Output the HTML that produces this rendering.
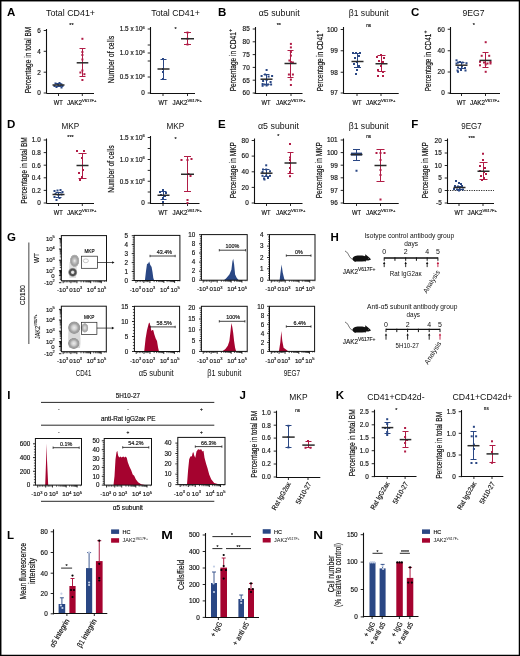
<!DOCTYPE html>
<html><head><meta charset="utf-8"><style>
html,body{margin:0;padding:0;background:#fff;}
svg{display:block;will-change:transform;}
text{font-family:"Liberation Sans",sans-serif;}
</style></head><body>
<svg width="520" height="656" viewBox="0 0 520 656">
<rect width="520" height="656" fill="#fff"/>
<text x="6.9" y="15.5" font-size="11.5" fill="#000" stroke="#000" stroke-width="0" font-weight="bold">A</text>
<text x="218.0" y="15.5" font-size="11.5" fill="#000" stroke="#000" stroke-width="0" font-weight="bold">B</text>
<text x="411.1" y="15.5" font-size="11.5" fill="#000" stroke="#000" stroke-width="0" font-weight="bold">C</text>
<text x="7.1" y="127.7" font-size="11.5" fill="#000" stroke="#000" stroke-width="0" font-weight="bold">D</text>
<text x="218.1" y="127.7" font-size="11.5" fill="#000" stroke="#000" stroke-width="0" font-weight="bold">E</text>
<text x="411.2" y="127.7" font-size="11.5" fill="#000" stroke="#000" stroke-width="0" font-weight="bold">F</text>
<text x="70.5" y="16.3" font-size="9" fill="#111" stroke="#111" stroke-width="0" text-anchor="middle" textLength="49" lengthAdjust="spacingAndGlyphs">Total CD41+</text>
<text x="71.5" y="27" font-size="5.5" fill="#111" stroke="#111" stroke-width="0.16" text-anchor="middle">**</text>
<line x1="46.5" y1="29" x2="46.5" y2="93.5" stroke="#111" stroke-width="1.1" />
<line x1="43.7" y1="30.5" x2="46.5" y2="30.5" stroke="#111" stroke-width="0.9" />
<text x="40.7" y="32.804" font-size="6.4" fill="#111" stroke="#111" stroke-width="0.16" text-anchor="end">6</text>
<line x1="43.7" y1="51.3" x2="46.5" y2="51.3" stroke="#111" stroke-width="0.9" />
<text x="40.7" y="53.604" font-size="6.4" fill="#111" stroke="#111" stroke-width="0.16" text-anchor="end">4</text>
<line x1="43.7" y1="72.2" x2="46.5" y2="72.2" stroke="#111" stroke-width="0.9" />
<text x="40.7" y="74.504" font-size="6.4" fill="#111" stroke="#111" stroke-width="0.16" text-anchor="end">2</text>
<line x1="43.7" y1="93" x2="46.5" y2="93" stroke="#111" stroke-width="0.9" />
<text x="40.7" y="95.304" font-size="6.4" fill="#111" stroke="#111" stroke-width="0.16" text-anchor="end">0</text>
<line x1="46.5" y1="93.5" x2="94" y2="93.5" stroke="#111" stroke-width="1.1" />
<line x1="58.5" y1="93.5" x2="58.5" y2="96.0" stroke="#111" stroke-width="0.9" />
<line x1="82.3" y1="93.5" x2="82.3" y2="96.0" stroke="#111" stroke-width="0.9" />
<text transform="translate(31,60) rotate(-90)" font-size="9" fill="#111" stroke="#111" stroke-width="0.18" text-anchor="middle" textLength="66.7" lengthAdjust="spacingAndGlyphs">Percentage in total BM</text>
<text x="58.3" y="104.7" font-size="6.4" fill="#111" stroke="#111" stroke-width="0.16" text-anchor="middle" textLength="9" lengthAdjust="spacingAndGlyphs">WT</text>
<text x="66.9" y="104.7" font-size="6.4" fill="#111" stroke="#111" stroke-width="0.16"><tspan textLength="15" lengthAdjust="spacingAndGlyphs">JAK2</tspan><tspan font-size="4.4" dy="-2.6" textLength="14.5" lengthAdjust="spacingAndGlyphs">V617F+</tspan></text>
<rect x="54.5" y="82.5" width="2.0" height="2.0" fill="#2a4784"/>
<rect x="56.5" y="83.0" width="2.0" height="2.0" fill="#2a4784"/>
<rect x="58.5" y="82.0" width="2.0" height="2.0" fill="#2a4784"/>
<rect x="60.5" y="83.5" width="2.0" height="2.0" fill="#2a4784"/>
<rect x="53.5" y="85.0" width="2.0" height="2.0" fill="#2a4784"/>
<rect x="57.5" y="85.0" width="2.0" height="2.0" fill="#2a4784"/>
<rect x="59.5" y="84.5" width="2.0" height="2.0" fill="#2a4784"/>
<rect x="61.5" y="85.0" width="2.0" height="2.0" fill="#2a4784"/>
<rect x="55.5" y="86.0" width="2.0" height="2.0" fill="#2a4784"/>
<rect x="60.5" y="86.5" width="2.0" height="2.0" fill="#2a4784"/>
<line x1="58.5" y1="83.5" x2="58.5" y2="86.5" stroke="#2a4784" stroke-width="1.0" />
<line x1="55.5" y1="83.5" x2="61.5" y2="83.5" stroke="#2a4784" stroke-width="1.0" />
<line x1="55.5" y1="86.5" x2="61.5" y2="86.5" stroke="#2a4784" stroke-width="1.0" />
<line x1="52.5" y1="85" x2="64.5" y2="85" stroke="#2a2a2a" stroke-width="1.5" />
<rect x="81.4" y="37.8" width="2.0" height="2.0" fill="#b11c46"/>
<rect x="81.4" y="51.0" width="2.0" height="2.0" fill="#b11c46"/>
<rect x="81.4" y="54.0" width="2.0" height="2.0" fill="#b11c46"/>
<rect x="81.4" y="58.5" width="2.0" height="2.0" fill="#b11c46"/>
<rect x="81.4" y="69.5" width="2.0" height="2.0" fill="#b11c46"/>
<rect x="79.4" y="71.5" width="2.0" height="2.0" fill="#b11c46"/>
<rect x="83.4" y="73.2" width="2.0" height="2.0" fill="#b11c46"/>
<rect x="81.4" y="79.0" width="2.0" height="2.0" fill="#b11c46"/>
<line x1="82.5" y1="48.5" x2="82.5" y2="76.5" stroke="#b11c46" stroke-width="1.0" />
<line x1="79.5" y1="48.5" x2="85.5" y2="48.5" stroke="#b11c46" stroke-width="1.0" />
<line x1="79.5" y1="76.5" x2="85.5" y2="76.5" stroke="#b11c46" stroke-width="1.0" />
<line x1="76.7" y1="62.8" x2="88.3" y2="62.8" stroke="#2a2a2a" stroke-width="1.5" />
<text x="175.5" y="16.3" font-size="9" fill="#111" stroke="#111" stroke-width="0" text-anchor="middle" textLength="48.5" lengthAdjust="spacingAndGlyphs">Total CD41+</text>
<text x="175.5" y="31" font-size="5.5" fill="#111" stroke="#111" stroke-width="0.16" text-anchor="middle">*</text>
<line x1="150.5" y1="27" x2="150.5" y2="93.5" stroke="#111" stroke-width="1.1" />
<line x1="147.7" y1="29" x2="150.5" y2="29" stroke="#111" stroke-width="0.9" />
<text x="144.7" y="31.304" font-size="6.4" fill="#111" stroke="#111" stroke-width="0.16" text-anchor="end">1.5 x 10<tspan font-size="3.97" dy="-2.69">6</tspan></text>
<line x1="147.7" y1="45" x2="150.5" y2="45" stroke="#111" stroke-width="0.9" />
<line x1="147.7" y1="53" x2="150.5" y2="53" stroke="#111" stroke-width="0.9" />
<text x="144.7" y="55.304" font-size="6.4" fill="#111" stroke="#111" stroke-width="0.16" text-anchor="end">1.0 x 10<tspan font-size="3.97" dy="-2.69">6</tspan></text>
<line x1="147.7" y1="61" x2="150.5" y2="61" stroke="#111" stroke-width="0.9" />
<line x1="147.7" y1="77" x2="150.5" y2="77" stroke="#111" stroke-width="0.9" />
<text x="144.7" y="79.304" font-size="6.4" fill="#111" stroke="#111" stroke-width="0.16" text-anchor="end">0.5 x 10<tspan font-size="3.97" dy="-2.69">6</tspan></text>
<line x1="147.7" y1="93" x2="150.5" y2="93" stroke="#111" stroke-width="0.9" />
<text x="144.7" y="95.304" font-size="6.4" fill="#111" stroke="#111" stroke-width="0.16" text-anchor="end">0</text>
<line x1="150" y1="93.5" x2="195" y2="93.5" stroke="#111" stroke-width="1.1" />
<line x1="163" y1="93.5" x2="163" y2="96.0" stroke="#111" stroke-width="0.9" />
<line x1="187.5" y1="93.5" x2="187.5" y2="96.0" stroke="#111" stroke-width="0.9" />
<text transform="translate(114.3,59.6) rotate(-90)" font-size="9" fill="#111" stroke="#111" stroke-width="0.18" text-anchor="middle" textLength="47.4" lengthAdjust="spacingAndGlyphs">Number of cells</text>
<text x="163" y="104.7" font-size="6.4" fill="#111" stroke="#111" stroke-width="0.16" text-anchor="middle" textLength="9" lengthAdjust="spacingAndGlyphs">WT</text>
<text x="172.5" y="104.7" font-size="6.4" fill="#111" stroke="#111" stroke-width="0.16"><tspan textLength="15" lengthAdjust="spacingAndGlyphs">JAK2</tspan><tspan font-size="4.4" dy="-2.6" textLength="14.5" lengthAdjust="spacingAndGlyphs">V617F+</tspan></text>
<rect x="162.0" y="58.0" width="2.0" height="2.0" fill="#2a4784"/>
<rect x="162.0" y="68.0" width="2.0" height="2.0" fill="#2a4784"/>
<rect x="162.0" y="71.0" width="2.0" height="2.0" fill="#2a4784"/>
<rect x="162.0" y="78.0" width="2.0" height="2.0" fill="#2a4784"/>
<line x1="163.5" y1="59.5" x2="163.5" y2="79.5" stroke="#2a4784" stroke-width="1.0" />
<line x1="160.5" y1="59.5" x2="166.5" y2="59.5" stroke="#2a4784" stroke-width="1.0" />
<line x1="160.5" y1="79.5" x2="166.5" y2="79.5" stroke="#2a4784" stroke-width="1.0" />
<line x1="157.5" y1="69" x2="169.5" y2="69" stroke="#2a2a2a" stroke-width="1.5" />
<rect x="186.5" y="31.5" width="2.0" height="2.0" fill="#b11c46"/>
<rect x="186.5" y="37.75" width="2.0" height="2.0" fill="#b11c46"/>
<rect x="186.5" y="43.5" width="2.0" height="2.0" fill="#b11c46"/>
<line x1="187.5" y1="32.5" x2="187.5" y2="44.5" stroke="#b11c46" stroke-width="1.0" />
<line x1="184.0" y1="32.5" x2="191.0" y2="32.5" stroke="#b11c46" stroke-width="1.0" />
<line x1="184.0" y1="44.5" x2="191.0" y2="44.5" stroke="#b11c46" stroke-width="1.0" />
<line x1="181.0" y1="38.75" x2="194.0" y2="38.75" stroke="#2a2a2a" stroke-width="1.5" />
<text x="279.2" y="16.3" font-size="9" fill="#111" stroke="#111" stroke-width="0" text-anchor="middle" textLength="41" lengthAdjust="spacingAndGlyphs">α5 subunit</text>
<text x="278.8" y="27" font-size="5.5" fill="#111" stroke="#111" stroke-width="0.16" text-anchor="middle">**</text>
<line x1="255.5" y1="27" x2="255.5" y2="93.5" stroke="#111" stroke-width="1.1" />
<line x1="252.7" y1="29" x2="255.5" y2="29" stroke="#111" stroke-width="0.9" />
<text x="249.7" y="31.304" font-size="6.4" fill="#111" stroke="#111" stroke-width="0.16" text-anchor="end">85</text>
<line x1="252.7" y1="41.8" x2="255.5" y2="41.8" stroke="#111" stroke-width="0.9" />
<text x="249.7" y="44.104" font-size="6.4" fill="#111" stroke="#111" stroke-width="0.16" text-anchor="end">80</text>
<line x1="252.7" y1="54.6" x2="255.5" y2="54.6" stroke="#111" stroke-width="0.9" />
<text x="249.7" y="56.904" font-size="6.4" fill="#111" stroke="#111" stroke-width="0.16" text-anchor="end">75</text>
<line x1="252.7" y1="67.4" x2="255.5" y2="67.4" stroke="#111" stroke-width="0.9" />
<text x="249.7" y="69.70400000000001" font-size="6.4" fill="#111" stroke="#111" stroke-width="0.16" text-anchor="end">70</text>
<line x1="252.7" y1="80.2" x2="255.5" y2="80.2" stroke="#111" stroke-width="0.9" />
<text x="249.7" y="82.504" font-size="6.4" fill="#111" stroke="#111" stroke-width="0.16" text-anchor="end">65</text>
<line x1="252.7" y1="93" x2="255.5" y2="93" stroke="#111" stroke-width="0.9" />
<text x="249.7" y="95.304" font-size="6.4" fill="#111" stroke="#111" stroke-width="0.16" text-anchor="end">60</text>
<line x1="254.5" y1="93.5" x2="302.5" y2="93.5" stroke="#111" stroke-width="1.1" />
<line x1="266.5" y1="93.5" x2="266.5" y2="96.0" stroke="#111" stroke-width="0.9" />
<line x1="291" y1="93.5" x2="291" y2="96.0" stroke="#111" stroke-width="0.9" />
<text transform="translate(236.2,91.3) rotate(-90)" font-size="9" fill="#111" stroke="#111" stroke-width="0.18" textLength="59.1" lengthAdjust="spacingAndGlyphs">Percentage in CD41</text>
<text transform="translate(232.4,32.0) rotate(-90)" font-size="5" fill="#111" stroke="#111" stroke-width="0.18">+</text>
<text x="266" y="104.7" font-size="6.4" fill="#111" stroke="#111" stroke-width="0.16" text-anchor="middle" textLength="9" lengthAdjust="spacingAndGlyphs">WT</text>
<text x="276" y="104.7" font-size="6.4" fill="#111" stroke="#111" stroke-width="0.16"><tspan textLength="15" lengthAdjust="spacingAndGlyphs">JAK2</tspan><tspan font-size="4.4" dy="-2.6" textLength="14.5" lengthAdjust="spacingAndGlyphs">V617F+</tspan></text>
<rect x="265.6" y="69.0" width="2.0" height="2.0" fill="#2a4784"/>
<rect x="260.6" y="75.0" width="2.0" height="2.0" fill="#2a4784"/>
<rect x="264.1" y="73.5" width="2.0" height="2.0" fill="#2a4784"/>
<rect x="267.6" y="75.5" width="2.0" height="2.0" fill="#2a4784"/>
<rect x="271.1" y="75.0" width="2.0" height="2.0" fill="#2a4784"/>
<rect x="262.1" y="80.0" width="2.0" height="2.0" fill="#2a4784"/>
<rect x="265.6" y="79.0" width="2.0" height="2.0" fill="#2a4784"/>
<rect x="269.6" y="81.0" width="2.0" height="2.0" fill="#2a4784"/>
<rect x="261.6" y="83.0" width="2.0" height="2.0" fill="#2a4784"/>
<rect x="263.6" y="83.5" width="2.0" height="2.0" fill="#2a4784"/>
<rect x="267.1" y="83.5" width="2.0" height="2.0" fill="#2a4784"/>
<rect x="270.1" y="83.5" width="2.0" height="2.0" fill="#2a4784"/>
<rect x="261.6" y="84.8" width="2.0" height="2.0" fill="#2a4784"/>
<rect x="265.6" y="84.5" width="2.0" height="2.0" fill="#2a4784"/>
<line x1="266.5" y1="74.5" x2="266.5" y2="84.5" stroke="#2a4784" stroke-width="1.0" />
<line x1="263.5" y1="74.5" x2="269.5" y2="74.5" stroke="#2a4784" stroke-width="1.0" />
<line x1="263.5" y1="84.5" x2="269.5" y2="84.5" stroke="#2a4784" stroke-width="1.0" />
<line x1="260.5" y1="79.2" x2="272.5" y2="79.2" stroke="#2a2a2a" stroke-width="1.5" />
<rect x="289.9" y="42.9" width="2.0" height="2.0" fill="#b11c46"/>
<rect x="289.9" y="46.4" width="2.0" height="2.0" fill="#b11c46"/>
<rect x="289.9" y="51.0" width="2.0" height="2.0" fill="#b11c46"/>
<rect x="289.9" y="54.6" width="2.0" height="2.0" fill="#b11c46"/>
<rect x="288.4" y="59.5" width="2.0" height="2.0" fill="#b11c46"/>
<rect x="289.9" y="61.0" width="2.0" height="2.0" fill="#b11c46"/>
<rect x="291.9" y="61.5" width="2.0" height="2.0" fill="#b11c46"/>
<rect x="287.9" y="73.5" width="2.0" height="2.0" fill="#b11c46"/>
<rect x="291.9" y="73.5" width="2.0" height="2.0" fill="#b11c46"/>
<rect x="289.9" y="78.6" width="2.0" height="2.0" fill="#b11c46"/>
<rect x="289.9" y="84.0" width="2.0" height="2.0" fill="#b11c46"/>
<line x1="290.5" y1="50.5" x2="290.5" y2="77.5" stroke="#b11c46" stroke-width="1.0" />
<line x1="287.5" y1="50.5" x2="293.5" y2="50.5" stroke="#b11c46" stroke-width="1.0" />
<line x1="287.5" y1="77.5" x2="293.5" y2="77.5" stroke="#b11c46" stroke-width="1.0" />
<line x1="284.5" y1="63.5" x2="296.5" y2="63.5" stroke="#2a2a2a" stroke-width="1.5" />
<text x="368.7" y="16.3" font-size="9" fill="#111" stroke="#111" stroke-width="0" text-anchor="middle" textLength="40" lengthAdjust="spacingAndGlyphs">β1 subunit</text>
<text x="368.7" y="27" font-size="4.8" fill="#111" stroke="#111" stroke-width="0.16" text-anchor="middle">ns</text>
<line x1="343.5" y1="27" x2="343.5" y2="93.5" stroke="#111" stroke-width="1.1" />
<line x1="340.7" y1="29.5" x2="343.5" y2="29.5" stroke="#111" stroke-width="0.9" />
<text x="337.7" y="31.804" font-size="6.4" fill="#111" stroke="#111" stroke-width="0.16" text-anchor="end">100</text>
<line x1="340.7" y1="50.75" x2="343.5" y2="50.75" stroke="#111" stroke-width="0.9" />
<text x="337.7" y="53.054" font-size="6.4" fill="#111" stroke="#111" stroke-width="0.16" text-anchor="end">99</text>
<line x1="340.7" y1="72.25" x2="343.5" y2="72.25" stroke="#111" stroke-width="0.9" />
<text x="337.7" y="74.554" font-size="6.4" fill="#111" stroke="#111" stroke-width="0.16" text-anchor="end">98</text>
<line x1="340.7" y1="93" x2="343.5" y2="93" stroke="#111" stroke-width="0.9" />
<text x="337.7" y="95.304" font-size="6.4" fill="#111" stroke="#111" stroke-width="0.16" text-anchor="end">97</text>
<line x1="343.2" y1="93.5" x2="398.7" y2="93.5" stroke="#111" stroke-width="1.1" />
<line x1="357" y1="93.5" x2="357" y2="96.0" stroke="#111" stroke-width="0.9" />
<line x1="381" y1="93.5" x2="381" y2="96.0" stroke="#111" stroke-width="0.9" />
<text transform="translate(322.7,91.3) rotate(-90)" font-size="9" fill="#111" stroke="#111" stroke-width="0.18" textLength="57.9" lengthAdjust="spacingAndGlyphs">Percentage in CD41</text>
<text transform="translate(318.9,33.2) rotate(-90)" font-size="5" fill="#111" stroke="#111" stroke-width="0.18">+</text>
<text x="357" y="104.7" font-size="6.4" fill="#111" stroke="#111" stroke-width="0.16" text-anchor="middle" textLength="9" lengthAdjust="spacingAndGlyphs">WT</text>
<text x="366" y="104.7" font-size="6.4" fill="#111" stroke="#111" stroke-width="0.16"><tspan textLength="15" lengthAdjust="spacingAndGlyphs">JAK2</tspan><tspan font-size="4.4" dy="-2.6" textLength="14.5" lengthAdjust="spacingAndGlyphs">V617F+</tspan></text>
<rect x="352.0" y="52.0" width="2.0" height="2.0" fill="#2a4784"/>
<rect x="355.0" y="52.0" width="2.0" height="2.0" fill="#2a4784"/>
<rect x="359.0" y="52.0" width="2.0" height="2.0" fill="#2a4784"/>
<rect x="354.0" y="57.0" width="2.0" height="2.0" fill="#2a4784"/>
<rect x="358.0" y="55.0" width="2.0" height="2.0" fill="#2a4784"/>
<rect x="356.0" y="61.0" width="2.0" height="2.0" fill="#2a4784"/>
<rect x="353.0" y="63.0" width="2.0" height="2.0" fill="#2a4784"/>
<rect x="358.0" y="65.0" width="2.0" height="2.0" fill="#2a4784"/>
<rect x="356.0" y="69.0" width="2.0" height="2.0" fill="#2a4784"/>
<rect x="355.0" y="73.0" width="2.0" height="2.0" fill="#2a4784"/>
<line x1="357.5" y1="53.5" x2="357.5" y2="67.5" stroke="#2a4784" stroke-width="1.0" />
<line x1="354.0" y1="53.5" x2="361.0" y2="53.5" stroke="#2a4784" stroke-width="1.0" />
<line x1="354.0" y1="67.5" x2="361.0" y2="67.5" stroke="#2a4784" stroke-width="1.0" />
<line x1="351.5" y1="61.5" x2="363.5" y2="61.5" stroke="#2a2a2a" stroke-width="1.5" />
<rect x="380.0" y="54.0" width="2.0" height="2.0" fill="#b11c46"/>
<rect x="376.0" y="56.0" width="2.0" height="2.0" fill="#b11c46"/>
<rect x="383.0" y="57.0" width="2.0" height="2.0" fill="#b11c46"/>
<rect x="378.0" y="60.0" width="2.0" height="2.0" fill="#b11c46"/>
<rect x="382.0" y="61.0" width="2.0" height="2.0" fill="#b11c46"/>
<rect x="380.0" y="65.0" width="2.0" height="2.0" fill="#b11c46"/>
<rect x="377.0" y="69.0" width="2.0" height="2.0" fill="#b11c46"/>
<rect x="382.0" y="71.0" width="2.0" height="2.0" fill="#b11c46"/>
<rect x="377.0" y="75.0" width="2.0" height="2.0" fill="#b11c46"/>
<rect x="382.0" y="75.0" width="2.0" height="2.0" fill="#b11c46"/>
<line x1="381.5" y1="55.5" x2="381.5" y2="71.5" stroke="#b11c46" stroke-width="1.0" />
<line x1="377.5" y1="55.5" x2="385.5" y2="55.5" stroke="#b11c46" stroke-width="1.0" />
<line x1="377.5" y1="71.5" x2="385.5" y2="71.5" stroke="#b11c46" stroke-width="1.0" />
<line x1="375.5" y1="63.75" x2="387.5" y2="63.75" stroke="#2a2a2a" stroke-width="1.5" />
<text x="473.5" y="16.3" font-size="9" fill="#111" stroke="#111" stroke-width="0" text-anchor="middle" textLength="22" lengthAdjust="spacingAndGlyphs">9EG7</text>
<text x="473.8" y="27" font-size="5.5" fill="#111" stroke="#111" stroke-width="0.16" text-anchor="middle">*</text>
<line x1="450.5" y1="27" x2="450.5" y2="93.5" stroke="#111" stroke-width="1.1" />
<line x1="447.7" y1="29.25" x2="450.5" y2="29.25" stroke="#111" stroke-width="0.9" />
<text x="444.7" y="31.554" font-size="6.4" fill="#111" stroke="#111" stroke-width="0.16" text-anchor="end">60</text>
<line x1="447.7" y1="50.75" x2="450.5" y2="50.75" stroke="#111" stroke-width="0.9" />
<text x="444.7" y="53.054" font-size="6.4" fill="#111" stroke="#111" stroke-width="0.16" text-anchor="end">40</text>
<line x1="447.7" y1="72" x2="450.5" y2="72" stroke="#111" stroke-width="0.9" />
<text x="444.7" y="74.304" font-size="6.4" fill="#111" stroke="#111" stroke-width="0.16" text-anchor="end">20</text>
<line x1="447.7" y1="93" x2="450.5" y2="93" stroke="#111" stroke-width="0.9" />
<text x="444.7" y="95.304" font-size="6.4" fill="#111" stroke="#111" stroke-width="0.16" text-anchor="end">0</text>
<line x1="449.5" y1="93.5" x2="500" y2="93.5" stroke="#111" stroke-width="1.1" />
<line x1="461.5" y1="93.5" x2="461.5" y2="96.0" stroke="#111" stroke-width="0.9" />
<line x1="485.5" y1="93.5" x2="485.5" y2="96.0" stroke="#111" stroke-width="0.9" />
<text transform="translate(430.8,91.3) rotate(-90)" font-size="9" fill="#111" stroke="#111" stroke-width="0.18" textLength="57.6" lengthAdjust="spacingAndGlyphs">Percentage in CD41</text>
<text transform="translate(427.0,33.5) rotate(-90)" font-size="5" fill="#111" stroke="#111" stroke-width="0.18">+</text>
<text x="461.3" y="104.7" font-size="6.4" fill="#111" stroke="#111" stroke-width="0.16" text-anchor="middle" textLength="9" lengthAdjust="spacingAndGlyphs">WT</text>
<text x="470" y="104.7" font-size="6.4" fill="#111" stroke="#111" stroke-width="0.16"><tspan textLength="15" lengthAdjust="spacingAndGlyphs">JAK2</tspan><tspan font-size="4.4" dy="-2.6" textLength="14.5" lengthAdjust="spacingAndGlyphs">V617F+</tspan></text>
<rect x="455.5" y="59.3" width="2.0" height="2.0" fill="#2a4784"/>
<rect x="455.5" y="62.5" width="2.0" height="2.0" fill="#2a4784"/>
<rect x="457.0" y="61.5" width="2.0" height="2.0" fill="#2a4784"/>
<rect x="459.0" y="61.0" width="2.0" height="2.0" fill="#2a4784"/>
<rect x="461.5" y="61.5" width="2.0" height="2.0" fill="#2a4784"/>
<rect x="465.5" y="62.2" width="2.0" height="2.0" fill="#2a4784"/>
<rect x="457.0" y="66.5" width="2.0" height="2.0" fill="#2a4784"/>
<rect x="461.0" y="65.5" width="2.0" height="2.0" fill="#2a4784"/>
<rect x="464.0" y="67.0" width="2.0" height="2.0" fill="#2a4784"/>
<rect x="456.5" y="69.5" width="2.0" height="2.0" fill="#2a4784"/>
<rect x="460.0" y="69.0" width="2.0" height="2.0" fill="#2a4784"/>
<rect x="464.5" y="69.5" width="2.0" height="2.0" fill="#2a4784"/>
<rect x="457.0" y="70.8" width="2.0" height="2.0" fill="#2a4784"/>
<line x1="461.5" y1="62.5" x2="461.5" y2="68.5" stroke="#2a4784" stroke-width="1.0" />
<line x1="458.5" y1="62.5" x2="464.5" y2="62.5" stroke="#2a4784" stroke-width="1.0" />
<line x1="458.5" y1="68.5" x2="464.5" y2="68.5" stroke="#2a4784" stroke-width="1.0" />
<line x1="455.5" y1="65.2" x2="467.5" y2="65.2" stroke="#2a2a2a" stroke-width="1.5" />
<rect x="484.7" y="41.2" width="2.0" height="2.0" fill="#b11c46"/>
<rect x="480.7" y="54.8" width="2.0" height="2.0" fill="#b11c46"/>
<rect x="488.2" y="54.8" width="2.0" height="2.0" fill="#b11c46"/>
<rect x="479.0" y="60.8" width="2.0" height="2.0" fill="#b11c46"/>
<rect x="483.0" y="61.5" width="2.0" height="2.0" fill="#b11c46"/>
<rect x="486.5" y="62.5" width="2.0" height="2.0" fill="#b11c46"/>
<rect x="489.5" y="61.0" width="2.0" height="2.0" fill="#b11c46"/>
<rect x="479.0" y="64.3" width="2.0" height="2.0" fill="#b11c46"/>
<rect x="484.7" y="63.5" width="2.0" height="2.0" fill="#b11c46"/>
<rect x="489.5" y="62.5" width="2.0" height="2.0" fill="#b11c46"/>
<rect x="484.7" y="70.8" width="2.0" height="2.0" fill="#b11c46"/>
<line x1="485.5" y1="52.5" x2="485.5" y2="67.5" stroke="#b11c46" stroke-width="1.0" />
<line x1="482.5" y1="52.5" x2="488.5" y2="52.5" stroke="#b11c46" stroke-width="1.0" />
<line x1="482.5" y1="67.5" x2="488.5" y2="67.5" stroke="#b11c46" stroke-width="1.0" />
<line x1="479.5" y1="60.4" x2="491.5" y2="60.4" stroke="#2a2a2a" stroke-width="1.5" />
<text x="70.35" y="128.6" font-size="9" fill="#111" stroke="#111" stroke-width="0" text-anchor="middle" textLength="17.7" lengthAdjust="spacingAndGlyphs">MKP</text>
<text x="70.5" y="138.8" font-size="5.5" fill="#111" stroke="#111" stroke-width="0.16" text-anchor="middle">***</text>
<line x1="46.5" y1="138.5" x2="46.5" y2="203.5" stroke="#111" stroke-width="1.1" />
<line x1="43.7" y1="140" x2="46.5" y2="140" stroke="#111" stroke-width="0.9" />
<text x="40.7" y="142.304" font-size="6.4" fill="#111" stroke="#111" stroke-width="0.16" text-anchor="end">1.0</text>
<line x1="43.7" y1="152.6" x2="46.5" y2="152.6" stroke="#111" stroke-width="0.9" />
<text x="40.7" y="154.904" font-size="6.4" fill="#111" stroke="#111" stroke-width="0.16" text-anchor="end">0.8</text>
<line x1="43.7" y1="165.2" x2="46.5" y2="165.2" stroke="#111" stroke-width="0.9" />
<text x="40.7" y="167.504" font-size="6.4" fill="#111" stroke="#111" stroke-width="0.16" text-anchor="end">0.6</text>
<line x1="43.7" y1="177.8" x2="46.5" y2="177.8" stroke="#111" stroke-width="0.9" />
<text x="40.7" y="180.104" font-size="6.4" fill="#111" stroke="#111" stroke-width="0.16" text-anchor="end">0.4</text>
<line x1="43.7" y1="190.4" x2="46.5" y2="190.4" stroke="#111" stroke-width="0.9" />
<text x="40.7" y="192.704" font-size="6.4" fill="#111" stroke="#111" stroke-width="0.16" text-anchor="end">0.2</text>
<line x1="43.7" y1="203" x2="46.5" y2="203" stroke="#111" stroke-width="0.9" />
<text x="40.7" y="205.304" font-size="6.4" fill="#111" stroke="#111" stroke-width="0.16" text-anchor="end">0</text>
<line x1="46.5" y1="203.5" x2="94" y2="203.5" stroke="#111" stroke-width="1.1" />
<line x1="58.5" y1="203.5" x2="58.5" y2="206.0" stroke="#111" stroke-width="0.9" />
<line x1="82.3" y1="203.5" x2="82.3" y2="206.0" stroke="#111" stroke-width="0.9" />
<text transform="translate(26.8,170.5) rotate(-90)" font-size="9" fill="#111" stroke="#111" stroke-width="0.18" text-anchor="middle" textLength="66.7" lengthAdjust="spacingAndGlyphs">Percentage in total BM</text>
<rect x="53.5" y="190.0" width="2.0" height="2.0" fill="#2a4784"/>
<rect x="56.5" y="189.5" width="2.0" height="2.0" fill="#2a4784"/>
<rect x="59.5" y="189.0" width="2.0" height="2.0" fill="#2a4784"/>
<rect x="61.5" y="191.0" width="2.0" height="2.0" fill="#2a4784"/>
<rect x="54.5" y="193.0" width="2.0" height="2.0" fill="#2a4784"/>
<rect x="57.5" y="194.0" width="2.0" height="2.0" fill="#2a4784"/>
<rect x="60.5" y="193.5" width="2.0" height="2.0" fill="#2a4784"/>
<rect x="53.5" y="196.0" width="2.0" height="2.0" fill="#2a4784"/>
<rect x="58.5" y="197.0" width="2.0" height="2.0" fill="#2a4784"/>
<rect x="55.5" y="199.0" width="2.0" height="2.0" fill="#2a4784"/>
<line x1="58.5" y1="192.5" x2="58.5" y2="197.5" stroke="#2a4784" stroke-width="1.0" />
<line x1="55.5" y1="192.5" x2="61.5" y2="192.5" stroke="#2a4784" stroke-width="1.0" />
<line x1="55.5" y1="197.5" x2="61.5" y2="197.5" stroke="#2a4784" stroke-width="1.0" />
<line x1="52.5" y1="194.5" x2="64.5" y2="194.5" stroke="#2a2a2a" stroke-width="1.5" />
<rect x="76.0" y="150.0" width="2.0" height="2.0" fill="#b11c46"/>
<rect x="83.0" y="150.0" width="2.0" height="2.0" fill="#b11c46"/>
<rect x="81.0" y="157.0" width="2.0" height="2.0" fill="#b11c46"/>
<rect x="82.0" y="169.0" width="2.0" height="2.0" fill="#b11c46"/>
<rect x="78.0" y="172.0" width="2.0" height="2.0" fill="#b11c46"/>
<rect x="81.0" y="176.0" width="2.0" height="2.0" fill="#b11c46"/>
<rect x="79.0" y="179.0" width="2.0" height="2.0" fill="#b11c46"/>
<line x1="82.5" y1="153.5" x2="82.5" y2="178.5" stroke="#b11c46" stroke-width="1.0" />
<line x1="78.5" y1="153.5" x2="86.5" y2="153.5" stroke="#b11c46" stroke-width="1.0" />
<line x1="78.5" y1="178.5" x2="86.5" y2="178.5" stroke="#b11c46" stroke-width="1.0" />
<line x1="76.5" y1="165.5" x2="88.5" y2="165.5" stroke="#2a2a2a" stroke-width="1.5" />
<text x="175.4" y="128.6" font-size="9" fill="#111" stroke="#111" stroke-width="0" text-anchor="middle" textLength="17.7" lengthAdjust="spacingAndGlyphs">MKP</text>
<text x="175.5" y="140.8" font-size="5.5" fill="#111" stroke="#111" stroke-width="0.16" text-anchor="middle">*</text>
<line x1="150.5" y1="136" x2="150.5" y2="203.5" stroke="#111" stroke-width="1.1" />
<line x1="147.7" y1="137.5" x2="150.5" y2="137.5" stroke="#111" stroke-width="0.9" />
<text x="144.7" y="139.804" font-size="6.4" fill="#111" stroke="#111" stroke-width="0.16" text-anchor="end">1.5 x 10<tspan font-size="3.97" dy="-2.69">6</tspan></text>
<line x1="147.7" y1="148.5" x2="150.5" y2="148.5" stroke="#111" stroke-width="0.9" />
<line x1="147.7" y1="159.5" x2="150.5" y2="159.5" stroke="#111" stroke-width="0.9" />
<text x="144.7" y="161.804" font-size="6.4" fill="#111" stroke="#111" stroke-width="0.16" text-anchor="end">1.0 x 10<tspan font-size="3.97" dy="-2.69">6</tspan></text>
<line x1="147.7" y1="170.4" x2="150.5" y2="170.4" stroke="#111" stroke-width="0.9" />
<line x1="147.7" y1="181.25" x2="150.5" y2="181.25" stroke="#111" stroke-width="0.9" />
<text x="144.7" y="183.554" font-size="6.4" fill="#111" stroke="#111" stroke-width="0.16" text-anchor="end">0.5 x 10<tspan font-size="3.97" dy="-2.69">6</tspan></text>
<line x1="147.7" y1="192" x2="150.5" y2="192" stroke="#111" stroke-width="0.9" />
<line x1="147.7" y1="203" x2="150.5" y2="203" stroke="#111" stroke-width="0.9" />
<text x="144.7" y="205.304" font-size="6.4" fill="#111" stroke="#111" stroke-width="0.16" text-anchor="end">0</text>
<line x1="150" y1="203.5" x2="199.5" y2="203.5" stroke="#111" stroke-width="1.1" />
<line x1="163" y1="203.5" x2="163" y2="206.0" stroke="#111" stroke-width="0.9" />
<line x1="187.5" y1="203.5" x2="187.5" y2="206.0" stroke="#111" stroke-width="0.9" />
<text transform="translate(114.3,169) rotate(-90)" font-size="9" fill="#111" stroke="#111" stroke-width="0.18" text-anchor="middle" textLength="47.4" lengthAdjust="spacingAndGlyphs">Number of cells</text>
<rect x="162.0" y="189.0" width="2.0" height="2.0" fill="#2a4784"/>
<rect x="159.0" y="191.0" width="2.0" height="2.0" fill="#2a4784"/>
<rect x="165.0" y="192.0" width="2.0" height="2.0" fill="#2a4784"/>
<rect x="160.0" y="194.0" width="2.0" height="2.0" fill="#2a4784"/>
<rect x="164.0" y="195.0" width="2.0" height="2.0" fill="#2a4784"/>
<rect x="162.0" y="197.0" width="2.0" height="2.0" fill="#2a4784"/>
<rect x="162.0" y="201.0" width="2.0" height="2.0" fill="#2a4784"/>
<line x1="163.5" y1="191.5" x2="163.5" y2="199.5" stroke="#2a4784" stroke-width="1.0" />
<line x1="160.5" y1="191.5" x2="166.5" y2="191.5" stroke="#2a4784" stroke-width="1.0" />
<line x1="160.5" y1="199.5" x2="166.5" y2="199.5" stroke="#2a4784" stroke-width="1.0" />
<line x1="157.5" y1="195.25" x2="169.5" y2="195.25" stroke="#2a2a2a" stroke-width="1.5" />
<rect x="180.5" y="159.0" width="2.0" height="2.0" fill="#b11c46"/>
<rect x="186.5" y="159.0" width="2.0" height="2.0" fill="#b11c46"/>
<rect x="190.5" y="158.0" width="2.0" height="2.0" fill="#b11c46"/>
<rect x="189.5" y="175.0" width="2.0" height="2.0" fill="#b11c46"/>
<rect x="187.5" y="173.0" width="2.0" height="2.0" fill="#b11c46"/>
<rect x="186.5" y="199.0" width="2.0" height="2.0" fill="#b11c46"/>
<rect x="186.5" y="202.0" width="2.0" height="2.0" fill="#b11c46"/>
<line x1="187.5" y1="156.5" x2="187.5" y2="191.5" stroke="#b11c46" stroke-width="1.0" />
<line x1="184.0" y1="156.5" x2="191.0" y2="156.5" stroke="#b11c46" stroke-width="1.0" />
<line x1="184.0" y1="191.5" x2="191.0" y2="191.5" stroke="#b11c46" stroke-width="1.0" />
<line x1="181.0" y1="174.25" x2="194.0" y2="174.25" stroke="#2a2a2a" stroke-width="1.5" />
<text x="278.5" y="128.6" font-size="9" fill="#111" stroke="#111" stroke-width="0" text-anchor="middle" textLength="41" lengthAdjust="spacingAndGlyphs">α5 subunit</text>
<text x="278.3" y="138.4" font-size="5.5" fill="#111" stroke="#111" stroke-width="0.16" text-anchor="middle">*</text>
<line x1="254.5" y1="138.5" x2="254.5" y2="203.5" stroke="#111" stroke-width="1.1" />
<line x1="251.7" y1="140.5" x2="254.5" y2="140.5" stroke="#111" stroke-width="0.9" />
<text x="248.7" y="142.804" font-size="6.4" fill="#111" stroke="#111" stroke-width="0.16" text-anchor="end">80</text>
<line x1="251.7" y1="156.1" x2="254.5" y2="156.1" stroke="#111" stroke-width="0.9" />
<text x="248.7" y="158.404" font-size="6.4" fill="#111" stroke="#111" stroke-width="0.16" text-anchor="end">60</text>
<line x1="251.7" y1="171.8" x2="254.5" y2="171.8" stroke="#111" stroke-width="0.9" />
<text x="248.7" y="174.104" font-size="6.4" fill="#111" stroke="#111" stroke-width="0.16" text-anchor="end">40</text>
<line x1="251.7" y1="187.4" x2="254.5" y2="187.4" stroke="#111" stroke-width="0.9" />
<text x="248.7" y="189.704" font-size="6.4" fill="#111" stroke="#111" stroke-width="0.16" text-anchor="end">20</text>
<line x1="251.7" y1="203" x2="254.5" y2="203" stroke="#111" stroke-width="0.9" />
<text x="248.7" y="205.304" font-size="6.4" fill="#111" stroke="#111" stroke-width="0.16" text-anchor="end">0</text>
<line x1="254" y1="203.5" x2="302.5" y2="203.5" stroke="#111" stroke-width="1.1" />
<line x1="266.5" y1="203.5" x2="266.5" y2="206.0" stroke="#111" stroke-width="0.9" />
<line x1="290.5" y1="203.5" x2="290.5" y2="206.0" stroke="#111" stroke-width="0.9" />
<text transform="translate(235.6,170.2) rotate(-90)" font-size="9" fill="#111" stroke="#111" stroke-width="0.18" text-anchor="middle" textLength="56.3" lengthAdjust="spacingAndGlyphs">Percentage in MKP</text>
<rect x="265.2" y="164.3" width="2.0" height="2.0" fill="#2a4784"/>
<rect x="262.0" y="168.5" width="2.0" height="2.0" fill="#2a4784"/>
<rect x="265.2" y="168.5" width="2.0" height="2.0" fill="#2a4784"/>
<rect x="261.5" y="171.0" width="2.0" height="2.0" fill="#2a4784"/>
<rect x="269.0" y="170.3" width="2.0" height="2.0" fill="#2a4784"/>
<rect x="261.5" y="174.8" width="2.0" height="2.0" fill="#2a4784"/>
<rect x="265.2" y="174.5" width="2.0" height="2.0" fill="#2a4784"/>
<rect x="269.0" y="174.8" width="2.0" height="2.0" fill="#2a4784"/>
<rect x="263.0" y="177.5" width="2.0" height="2.0" fill="#2a4784"/>
<rect x="267.0" y="177.0" width="2.0" height="2.0" fill="#2a4784"/>
<rect x="263.5" y="178.5" width="2.0" height="2.0" fill="#2a4784"/>
<line x1="266.5" y1="169.5" x2="266.5" y2="176.5" stroke="#2a4784" stroke-width="1.0" />
<line x1="263.5" y1="169.5" x2="269.5" y2="169.5" stroke="#2a4784" stroke-width="1.0" />
<line x1="263.5" y1="176.5" x2="269.5" y2="176.5" stroke="#2a4784" stroke-width="1.0" />
<line x1="260.5" y1="173.2" x2="272.5" y2="173.2" stroke="#2a2a2a" stroke-width="1.5" />
<rect x="289.0" y="143.0" width="2.0" height="2.0" fill="#b11c46"/>
<rect x="289.0" y="156.5" width="2.0" height="2.0" fill="#b11c46"/>
<rect x="289.0" y="159.0" width="2.0" height="2.0" fill="#b11c46"/>
<rect x="289.0" y="162.0" width="2.0" height="2.0" fill="#b11c46"/>
<rect x="289.0" y="167.0" width="2.0" height="2.0" fill="#b11c46"/>
<rect x="289.0" y="171.0" width="2.0" height="2.0" fill="#b11c46"/>
<rect x="289.0" y="175.2" width="2.0" height="2.0" fill="#b11c46"/>
<line x1="290.5" y1="152.5" x2="290.5" y2="173.5" stroke="#b11c46" stroke-width="1.0" />
<line x1="287.5" y1="152.5" x2="293.5" y2="152.5" stroke="#b11c46" stroke-width="1.0" />
<line x1="287.5" y1="173.5" x2="293.5" y2="173.5" stroke="#b11c46" stroke-width="1.0" />
<line x1="284.5" y1="163" x2="296.5" y2="163" stroke="#2a2a2a" stroke-width="1.5" />
<text x="368.7" y="128.6" font-size="9" fill="#111" stroke="#111" stroke-width="0" text-anchor="middle" textLength="40" lengthAdjust="spacingAndGlyphs">β1 subunit</text>
<text x="368.7" y="138.2" font-size="4.8" fill="#111" stroke="#111" stroke-width="0.16" text-anchor="middle">ns</text>
<line x1="343.5" y1="138.5" x2="343.5" y2="203.5" stroke="#111" stroke-width="1.1" />
<line x1="340.7" y1="140" x2="343.5" y2="140" stroke="#111" stroke-width="0.9" />
<text x="337.7" y="142.304" font-size="6.4" fill="#111" stroke="#111" stroke-width="0.16" text-anchor="end">101</text>
<line x1="340.7" y1="152.6" x2="343.5" y2="152.6" stroke="#111" stroke-width="0.9" />
<text x="337.7" y="154.904" font-size="6.4" fill="#111" stroke="#111" stroke-width="0.16" text-anchor="end">100</text>
<line x1="340.7" y1="165.2" x2="343.5" y2="165.2" stroke="#111" stroke-width="0.9" />
<text x="337.7" y="167.504" font-size="6.4" fill="#111" stroke="#111" stroke-width="0.16" text-anchor="end">99</text>
<line x1="340.7" y1="177.8" x2="343.5" y2="177.8" stroke="#111" stroke-width="0.9" />
<text x="337.7" y="180.104" font-size="6.4" fill="#111" stroke="#111" stroke-width="0.16" text-anchor="end">98</text>
<line x1="340.7" y1="190.4" x2="343.5" y2="190.4" stroke="#111" stroke-width="0.9" />
<text x="337.7" y="192.704" font-size="6.4" fill="#111" stroke="#111" stroke-width="0.16" text-anchor="end">97</text>
<line x1="340.7" y1="203" x2="343.5" y2="203" stroke="#111" stroke-width="0.9" />
<text x="337.7" y="205.304" font-size="6.4" fill="#111" stroke="#111" stroke-width="0.16" text-anchor="end">96</text>
<line x1="343.2" y1="203.5" x2="398.7" y2="203.5" stroke="#111" stroke-width="1.1" />
<line x1="356.5" y1="203.5" x2="356.5" y2="206.0" stroke="#111" stroke-width="0.9" />
<line x1="380.5" y1="203.5" x2="380.5" y2="206.0" stroke="#111" stroke-width="0.9" />
<text transform="translate(322.3,170.2) rotate(-90)" font-size="9" fill="#111" stroke="#111" stroke-width="0.18" text-anchor="middle" textLength="56.3" lengthAdjust="spacingAndGlyphs">Percentage in MKP</text>
<rect x="351" y="152.6" width="11" height="3" fill="#2a4784" />
<rect x="355.5" y="169.75" width="2.0" height="2.0" fill="#2a4784"/>
<line x1="356.5" y1="149.5" x2="356.5" y2="160.5" stroke="#2a4784" stroke-width="1.0" />
<line x1="353.0" y1="149.5" x2="360.0" y2="149.5" stroke="#2a4784" stroke-width="1.0" />
<line x1="353.0" y1="160.5" x2="360.0" y2="160.5" stroke="#2a4784" stroke-width="1.0" />
<line x1="350.5" y1="154.5" x2="362.5" y2="154.5" stroke="#2a2a2a" stroke-width="1.5" />
<rect x="375.5" y="152.0" width="2.0" height="2.0" fill="#b11c46"/>
<rect x="379.5" y="152.0" width="2.0" height="2.0" fill="#b11c46"/>
<rect x="383.5" y="152.0" width="2.0" height="2.0" fill="#b11c46"/>
<rect x="379.5" y="159.0" width="2.0" height="2.0" fill="#b11c46"/>
<rect x="379.5" y="169.0" width="2.0" height="2.0" fill="#b11c46"/>
<rect x="379.5" y="174.0" width="2.0" height="2.0" fill="#b11c46"/>
<rect x="379.5" y="198.5" width="2.0" height="2.0" fill="#b11c46"/>
<line x1="380.5" y1="149.5" x2="380.5" y2="181.5" stroke="#b11c46" stroke-width="1.0" />
<line x1="376.5" y1="149.5" x2="384.5" y2="149.5" stroke="#b11c46" stroke-width="1.0" />
<line x1="376.5" y1="181.5" x2="384.5" y2="181.5" stroke="#b11c46" stroke-width="1.0" />
<line x1="374.5" y1="165.5" x2="386.5" y2="165.5" stroke="#2a2a2a" stroke-width="1.5" />
<text x="471.5" y="128.6" font-size="9" fill="#111" stroke="#111" stroke-width="0" text-anchor="middle" textLength="20.5" lengthAdjust="spacingAndGlyphs">9EG7</text>
<text x="471.8" y="139.6" font-size="5.5" fill="#111" stroke="#111" stroke-width="0.16" text-anchor="middle">***</text>
<line x1="447.5" y1="138.5" x2="447.5" y2="203.5" stroke="#111" stroke-width="1.1" />
<line x1="444.7" y1="140.5" x2="447.5" y2="140.5" stroke="#111" stroke-width="0.9" />
<text x="441.7" y="142.804" font-size="6.4" fill="#111" stroke="#111" stroke-width="0.16" text-anchor="end">20</text>
<line x1="444.7" y1="153" x2="447.5" y2="153" stroke="#111" stroke-width="0.9" />
<text x="441.7" y="155.304" font-size="6.4" fill="#111" stroke="#111" stroke-width="0.16" text-anchor="end">15</text>
<line x1="444.7" y1="165.5" x2="447.5" y2="165.5" stroke="#111" stroke-width="0.9" />
<text x="441.7" y="167.804" font-size="6.4" fill="#111" stroke="#111" stroke-width="0.16" text-anchor="end">10</text>
<line x1="444.7" y1="178" x2="447.5" y2="178" stroke="#111" stroke-width="0.9" />
<text x="441.7" y="180.304" font-size="6.4" fill="#111" stroke="#111" stroke-width="0.16" text-anchor="end">5</text>
<line x1="444.7" y1="190.5" x2="447.5" y2="190.5" stroke="#111" stroke-width="0.9" />
<text x="441.7" y="192.804" font-size="6.4" fill="#111" stroke="#111" stroke-width="0.16" text-anchor="end">0</text>
<line x1="444.7" y1="203" x2="447.5" y2="203" stroke="#111" stroke-width="0.9" />
<text x="441.7" y="205.304" font-size="6.4" fill="#111" stroke="#111" stroke-width="0.16" text-anchor="end">-5</text>
<line x1="447" y1="203.5" x2="494" y2="203.5" stroke="#111" stroke-width="1.1" />
<line x1="459" y1="203.5" x2="459" y2="206.0" stroke="#111" stroke-width="0.9" />
<line x1="483" y1="203.5" x2="483" y2="206.0" stroke="#111" stroke-width="0.9" />
<line x1="447.5" y1="190.5" x2="494" y2="190.5" stroke="#111" stroke-width="0.9" stroke-dasharray="1.2 1.2"/>
<text transform="translate(428.3,170.2) rotate(-90)" font-size="9" fill="#111" stroke="#111" stroke-width="0.18" text-anchor="middle" textLength="56.3" lengthAdjust="spacingAndGlyphs">Percentage in MKP</text>
<rect x="455.0" y="180.0" width="2.0" height="2.0" fill="#2a4784"/>
<rect x="458.0" y="182.0" width="2.0" height="2.0" fill="#2a4784"/>
<rect x="460.0" y="183.0" width="2.0" height="2.0" fill="#2a4784"/>
<rect x="454.0" y="185.0" width="2.0" height="2.0" fill="#2a4784"/>
<rect x="457.0" y="185.5" width="2.0" height="2.0" fill="#2a4784"/>
<rect x="461.0" y="185.0" width="2.0" height="2.0" fill="#2a4784"/>
<rect x="453.0" y="188.0" width="2.0" height="2.0" fill="#2a4784"/>
<rect x="456.0" y="188.5" width="2.0" height="2.0" fill="#2a4784"/>
<rect x="459.0" y="188.5" width="2.0" height="2.0" fill="#2a4784"/>
<rect x="462.0" y="188.5" width="2.0" height="2.0" fill="#2a4784"/>
<rect x="458.0" y="189.5" width="2.0" height="2.0" fill="#2a4784"/>
<line x1="459.5" y1="186.5" x2="459.5" y2="189.5" stroke="#2a4784" stroke-width="1.0" />
<line x1="456.5" y1="186.5" x2="462.5" y2="186.5" stroke="#2a4784" stroke-width="1.0" />
<line x1="456.5" y1="189.5" x2="462.5" y2="189.5" stroke="#2a4784" stroke-width="1.0" />
<line x1="453.5" y1="187.5" x2="465.5" y2="187.5" stroke="#2a2a2a" stroke-width="1.5" />
<rect x="482.0" y="152.75" width="2.0" height="2.0" fill="#b11c46"/>
<rect x="482.0" y="159.0" width="2.0" height="2.0" fill="#b11c46"/>
<rect x="479.0" y="165.0" width="2.0" height="2.0" fill="#b11c46"/>
<rect x="484.0" y="167.0" width="2.0" height="2.0" fill="#b11c46"/>
<rect x="479.0" y="170.0" width="2.0" height="2.0" fill="#b11c46"/>
<rect x="483.0" y="171.0" width="2.0" height="2.0" fill="#b11c46"/>
<rect x="485.0" y="173.0" width="2.0" height="2.0" fill="#b11c46"/>
<rect x="480.0" y="175.0" width="2.0" height="2.0" fill="#b11c46"/>
<rect x="483.0" y="177.0" width="2.0" height="2.0" fill="#b11c46"/>
<rect x="481.0" y="179.0" width="2.0" height="2.0" fill="#b11c46"/>
<line x1="483.5" y1="162.5" x2="483.5" y2="179.5" stroke="#b11c46" stroke-width="1.0" />
<line x1="479.5" y1="162.5" x2="487.5" y2="162.5" stroke="#b11c46" stroke-width="1.0" />
<line x1="479.5" y1="179.5" x2="487.5" y2="179.5" stroke="#b11c46" stroke-width="1.0" />
<line x1="477.5" y1="171.25" x2="489.5" y2="171.25" stroke="#2a2a2a" stroke-width="1.5" />
<text x="58.3" y="214.5" font-size="6.4" fill="#111" stroke="#111" stroke-width="0.16" text-anchor="middle" textLength="9" lengthAdjust="spacingAndGlyphs">WT</text>
<text x="66.9" y="214.5" font-size="6.4" fill="#111" stroke="#111" stroke-width="0.16"><tspan textLength="15" lengthAdjust="spacingAndGlyphs">JAK2</tspan><tspan font-size="4.4" dy="-2.6" textLength="14.5" lengthAdjust="spacingAndGlyphs">V617F+</tspan></text>
<text x="163" y="214.5" font-size="6.4" fill="#111" stroke="#111" stroke-width="0.16" text-anchor="middle" textLength="9" lengthAdjust="spacingAndGlyphs">WT</text>
<text x="172.5" y="214.5" font-size="6.4" fill="#111" stroke="#111" stroke-width="0.16"><tspan textLength="15" lengthAdjust="spacingAndGlyphs">JAK2</tspan><tspan font-size="4.4" dy="-2.6" textLength="14.5" lengthAdjust="spacingAndGlyphs">V617F+</tspan></text>
<text x="266" y="214.5" font-size="6.4" fill="#111" stroke="#111" stroke-width="0.16" text-anchor="middle" textLength="9" lengthAdjust="spacingAndGlyphs">WT</text>
<text x="276" y="214.5" font-size="6.4" fill="#111" stroke="#111" stroke-width="0.16"><tspan textLength="15" lengthAdjust="spacingAndGlyphs">JAK2</tspan><tspan font-size="4.4" dy="-2.6" textLength="14.5" lengthAdjust="spacingAndGlyphs">V617F+</tspan></text>
<text x="356.5" y="214.5" font-size="6.4" fill="#111" stroke="#111" stroke-width="0.16" text-anchor="middle" textLength="9" lengthAdjust="spacingAndGlyphs">WT</text>
<text x="366" y="214.5" font-size="6.4" fill="#111" stroke="#111" stroke-width="0.16"><tspan textLength="15" lengthAdjust="spacingAndGlyphs">JAK2</tspan><tspan font-size="4.4" dy="-2.6" textLength="14.5" lengthAdjust="spacingAndGlyphs">V617F+</tspan></text>
<text x="459" y="214.5" font-size="6.4" fill="#111" stroke="#111" stroke-width="0.16" text-anchor="middle" textLength="9" lengthAdjust="spacingAndGlyphs">WT</text>
<text x="467.5" y="214.5" font-size="6.4" fill="#111" stroke="#111" stroke-width="0.16"><tspan textLength="15" lengthAdjust="spacingAndGlyphs">JAK2</tspan><tspan font-size="4.4" dy="-2.6" textLength="14.5" lengthAdjust="spacingAndGlyphs">V617F+</tspan></text>
<text x="6.9" y="241" font-size="11.5" fill="#000" stroke="#000" stroke-width="0" font-weight="bold">G</text>
<line x1="28.8" y1="242.5" x2="28.8" y2="344" stroke="#707070" stroke-width="1.3" />
<text transform="translate(39.2,258) rotate(-90)" font-size="6.6" fill="#111" stroke="#111" stroke-width="0.1" text-anchor="middle" textLength="10.2" lengthAdjust="spacingAndGlyphs">WT</text>
<text transform="translate(25.2,295.2) rotate(-90)" font-size="7" fill="#111" stroke="#111" stroke-width="0.1" text-anchor="middle" textLength="19.8" lengthAdjust="spacingAndGlyphs">CD150</text>
<text transform="translate(39.6,339) rotate(-90)" font-size="6.6" fill="#111" stroke="#111" stroke-width="0.1"><tspan textLength="13" lengthAdjust="spacingAndGlyphs">JAK2</tspan><tspan font-size="4.3" dy="-2.8" textLength="11.8" lengthAdjust="spacingAndGlyphs">V617F+</tspan></text>
<defs>
<radialGradient id="gU"><stop offset="0" stop-color="#f0f0f0"/><stop offset="0.3" stop-color="#c4c4c4"/><stop offset="0.7" stop-color="#9c9c9c"/><stop offset="0.9" stop-color="#b8b8b8"/><stop offset="1" stop-color="#e0e0e0" stop-opacity="0"/></radialGradient>
<radialGradient id="gD"><stop offset="0" stop-color="#f4f4f4"/><stop offset="0.25" stop-color="#d8d8d8"/><stop offset="0.42" stop-color="#585858"/><stop offset="0.65" stop-color="#4a4a4a"/><stop offset="0.82" stop-color="#9a9a9a"/><stop offset="1" stop-color="#d0d0d0" stop-opacity="0"/></radialGradient>
<radialGradient id="gL"><stop offset="0" stop-color="#e8e8e8"/><stop offset="0.35" stop-color="#c8c8c8"/><stop offset="0.7" stop-color="#a6a6a6"/><stop offset="0.9" stop-color="#c0c0c0"/><stop offset="1" stop-color="#e6e6e6" stop-opacity="0"/></radialGradient>
<radialGradient id="gM"><stop offset="0" stop-color="#ececec"/><stop offset="0.35" stop-color="#d0d0d0"/><stop offset="0.65" stop-color="#a0a0a0"/><stop offset="0.85" stop-color="#9a9a9a"/><stop offset="1" stop-color="#e0e0e0" stop-opacity="0"/></radialGradient>
</defs>
<path d="M69.5,262 C69,268 68.5,274 69.5,278 L76,278 C76.5,272 77,266 77,262 Z" fill="#d4d4d4" opacity="0.7"/>
<ellipse cx="74.6" cy="260.8" rx="5.0" ry="6.6" fill="url(#gU)"/>
<ellipse cx="72.7" cy="272.3" rx="5.0" ry="5.0" fill="url(#gD)"/>
<ellipse cx="85.8" cy="260.8" rx="2.6" ry="1.9" fill="none" stroke="#bdbdbd" stroke-width="0.8"/>
<rect x="61.35" y="235.6" width="45.15" height="45.20000000000002" fill="none" stroke="#111" stroke-width="1"/>
<text x="54.75" y="240.6" font-size="6" fill="#111" stroke="#111" stroke-width="0.16" text-anchor="end">10<tspan font-size="3.9" dy="-2.5">5</tspan></text>
<text x="54.75" y="251.1" font-size="6" fill="#111" stroke="#111" stroke-width="0.16" text-anchor="end">10<tspan font-size="3.9" dy="-2.5">4</tspan></text>
<text x="54.75" y="262.3" font-size="6" fill="#111" stroke="#111" stroke-width="0.16" text-anchor="end">10<tspan font-size="3.9" dy="-2.5">3</tspan></text>
<text x="54.75" y="272.70000000000005" font-size="6" fill="#111" stroke="#111" stroke-width="0.16" text-anchor="end">10<tspan font-size="3.9" dy="-2.5">2</tspan></text>
<text x="54.550000000000004" y="277.5" font-size="6" fill="#111" stroke="#111" stroke-width="0.16" text-anchor="end">0</text>
<text x="54.75" y="284.8" font-size="6" fill="#111" stroke="#111" stroke-width="0.16" text-anchor="end">-10<tspan font-size="3.9" dy="-2.5">2</tspan></text>
<line x1="58.95" y1="238.5" x2="61.35" y2="238.5" stroke="#111" stroke-width="0.9" />
<line x1="58.95" y1="249" x2="61.35" y2="249" stroke="#111" stroke-width="0.9" />
<line x1="58.95" y1="260.2" x2="61.35" y2="260.2" stroke="#111" stroke-width="0.9" />
<line x1="58.95" y1="270.6" x2="61.35" y2="270.6" stroke="#111" stroke-width="0.9" />
<line x1="58.95" y1="275.4" x2="61.35" y2="275.4" stroke="#111" stroke-width="0.9" />
<line x1="58.95" y1="282.7" x2="61.35" y2="282.7" stroke="#111" stroke-width="0.9" />
<line x1="59.75" y1="245.8391850455282" x2="61.35" y2="245.8391850455282" stroke="#111" stroke-width="0.7" />
<line x1="59.75" y1="243.99022682544356" x2="61.35" y2="243.99022682544356" stroke="#111" stroke-width="0.7" />
<line x1="59.75" y1="242.6783700910564" x2="61.35" y2="242.6783700910564" stroke="#111" stroke-width="0.7" />
<line x1="59.75" y1="241.6608149544718" x2="61.35" y2="241.6608149544718" stroke="#111" stroke-width="0.7" />
<line x1="59.75" y1="240.82941187097174" x2="61.35" y2="240.82941187097174" stroke="#111" stroke-width="0.7" />
<line x1="59.75" y1="240.1264705798503" x2="61.35" y2="240.1264705798503" stroke="#111" stroke-width="0.7" />
<line x1="59.75" y1="239.5175551365846" x2="61.35" y2="239.5175551365846" stroke="#111" stroke-width="0.7" />
<line x1="59.75" y1="238.98045365088709" x2="61.35" y2="238.98045365088709" stroke="#111" stroke-width="0.7" />
<line x1="59.75" y1="256.8284640485634" x2="61.35" y2="256.8284640485634" stroke="#111" stroke-width="0.7" />
<line x1="59.75" y1="254.85624194713978" x2="61.35" y2="254.85624194713978" stroke="#111" stroke-width="0.7" />
<line x1="59.75" y1="253.45692809712682" x2="61.35" y2="253.45692809712682" stroke="#111" stroke-width="0.7" />
<line x1="59.75" y1="252.37153595143658" x2="61.35" y2="252.37153595143658" stroke="#111" stroke-width="0.7" />
<line x1="59.75" y1="251.4847059957032" x2="61.35" y2="251.4847059957032" stroke="#111" stroke-width="0.7" />
<line x1="59.75" y1="250.73490195184033" x2="61.35" y2="250.73490195184033" stroke="#111" stroke-width="0.7" />
<line x1="59.75" y1="250.08539214569024" x2="61.35" y2="250.08539214569024" stroke="#111" stroke-width="0.7" />
<line x1="59.75" y1="249.51248389427957" x2="61.35" y2="249.51248389427957" stroke="#111" stroke-width="0.7" />
<line x1="59.75" y1="267.46928804509463" x2="61.35" y2="267.46928804509463" stroke="#111" stroke-width="0.7" />
<line x1="59.75" y1="265.6379389509155" x2="61.35" y2="265.6379389509155" stroke="#111" stroke-width="0.7" />
<line x1="59.75" y1="264.3385760901892" x2="61.35" y2="264.3385760901892" stroke="#111" stroke-width="0.7" />
<line x1="59.75" y1="263.3307119549054" x2="61.35" y2="263.3307119549054" stroke="#111" stroke-width="0.7" />
<line x1="59.75" y1="262.5072269960101" x2="61.35" y2="262.5072269960101" stroke="#111" stroke-width="0.7" />
<line x1="59.75" y1="261.8109803838517" x2="61.35" y2="261.8109803838517" stroke="#111" stroke-width="0.7" />
<line x1="59.75" y1="261.2078641352838" x2="61.35" y2="261.2078641352838" stroke="#111" stroke-width="0.7" />
<line x1="59.75" y1="260.67587790183103" x2="61.35" y2="260.67587790183103" stroke="#111" stroke-width="0.7" />
<line x1="59.75" y1="273.9550560208129" x2="61.35" y2="273.9550560208129" stroke="#111" stroke-width="0.7" />
<line x1="59.75" y1="273.10981797734564" x2="61.35" y2="273.10981797734564" stroke="#111" stroke-width="0.7" />
<line x1="59.75" y1="272.5101120416258" x2="61.35" y2="272.5101120416258" stroke="#111" stroke-width="0.7" />
<line x1="59.75" y1="272.0449439791871" x2="61.35" y2="272.0449439791871" stroke="#111" stroke-width="0.7" />
<line x1="59.75" y1="271.6648739981585" x2="61.35" y2="271.6648739981585" stroke="#111" stroke-width="0.7" />
<line x1="59.75" y1="271.34352940793156" x2="61.35" y2="271.34352940793156" stroke="#111" stroke-width="0.7" />
<line x1="59.75" y1="271.0651680624387" x2="61.35" y2="271.0651680624387" stroke="#111" stroke-width="0.7" />
<line x1="59.75" y1="270.81963595469125" x2="61.35" y2="270.81963595469125" stroke="#111" stroke-width="0.7" />
<line x1="59.75" y1="271.875" x2="61.35" y2="271.875" stroke="#111" stroke-width="0.7" />
<line x1="59.75" y1="273.15000000000003" x2="61.35" y2="273.15000000000003" stroke="#111" stroke-width="0.7" />
<line x1="59.75" y1="274.425" x2="61.35" y2="274.425" stroke="#111" stroke-width="0.7" />
<line x1="59.75" y1="275.70000000000005" x2="61.35" y2="275.70000000000005" stroke="#111" stroke-width="0.7" />
<line x1="59.75" y1="276.975" x2="61.35" y2="276.975" stroke="#111" stroke-width="0.7" />
<line x1="59.75" y1="278.25" x2="61.35" y2="278.25" stroke="#111" stroke-width="0.7" />
<line x1="59.75" y1="279.52500000000003" x2="61.35" y2="279.52500000000003" stroke="#111" stroke-width="0.7" />
<rect x="81.5" y="256.2" width="16.0" height="12.100000000000023" fill="none" stroke="#222" stroke-width="0.7"/>
<text x="89.5" y="252.7" font-size="4.7" fill="#111" stroke="#111" stroke-width="0.16" text-anchor="middle">MKP</text>
<line x1="97.5" y1="262.5" x2="113.0" y2="262.5" stroke="#111" stroke-width="0.7" />
<path d="M114.5,262.5 L112.1,261.2 L112.1,263.8 Z" fill="#111" stroke="none" stroke-width="1" />
<line x1="63.156" y1="280.8" x2="63.156" y2="283.2" stroke="#111" stroke-width="0.9" />
<line x1="70.9218" y1="280.8" x2="70.9218" y2="283.2" stroke="#111" stroke-width="0.9" />
<line x1="76.92675" y1="280.8" x2="76.92675" y2="283.2" stroke="#111" stroke-width="0.9" />
<line x1="90.6975" y1="280.8" x2="90.6975" y2="283.2" stroke="#111" stroke-width="0.9" />
<line x1="101.30775" y1="280.8" x2="101.30775" y2="283.2" stroke="#111" stroke-width="0.9" />
<line x1="64.70916" y1="280.8" x2="64.70916" y2="282.40000000000003" stroke="#111" stroke-width="0.7" />
<line x1="66.26232" y1="280.8" x2="66.26232" y2="282.40000000000003" stroke="#111" stroke-width="0.7" />
<line x1="67.81548000000001" y1="280.8" x2="67.81548000000001" y2="282.40000000000003" stroke="#111" stroke-width="0.7" />
<line x1="69.36864" y1="280.8" x2="69.36864" y2="282.40000000000003" stroke="#111" stroke-width="0.7" />
<line x1="72.12279000000001" y1="280.8" x2="72.12279000000001" y2="282.40000000000003" stroke="#111" stroke-width="0.7" />
<line x1="73.32378" y1="280.8" x2="73.32378" y2="282.40000000000003" stroke="#111" stroke-width="0.7" />
<line x1="74.52477" y1="280.8" x2="74.52477" y2="282.40000000000003" stroke="#111" stroke-width="0.7" />
<line x1="75.72576" y1="280.8" x2="75.72576" y2="282.40000000000003" stroke="#111" stroke-width="0.7" />
<line x1="81.07215881278977" y1="280.8" x2="81.07215881278977" y2="282.40000000000003" stroke="#111" stroke-width="0.7" />
<line x1="83.4970675184308" y1="280.8" x2="83.4970675184308" y2="282.40000000000003" stroke="#111" stroke-width="0.7" />
<line x1="85.21756762557953" y1="280.8" x2="85.21756762557953" y2="282.40000000000003" stroke="#111" stroke-width="0.7" />
<line x1="86.55209118721024" y1="280.8" x2="86.55209118721024" y2="282.40000000000003" stroke="#111" stroke-width="0.7" />
<line x1="87.64247633122056" y1="280.8" x2="87.64247633122056" y2="282.40000000000003" stroke="#111" stroke-width="0.7" />
<line x1="88.56438383452632" y1="280.8" x2="88.56438383452632" y2="282.40000000000003" stroke="#111" stroke-width="0.7" />
<line x1="89.36297643836932" y1="280.8" x2="89.36297643836932" y2="282.40000000000003" stroke="#111" stroke-width="0.7" />
<line x1="90.0673850368616" y1="280.8" x2="90.0673850368616" y2="282.40000000000003" stroke="#111" stroke-width="0.7" />
<line x1="93.89150351149377" y1="280.8" x2="93.89150351149377" y2="282.40000000000003" stroke="#111" stroke-width="0.7" />
<line x1="95.7598757928893" y1="280.8" x2="95.7598757928893" y2="282.40000000000003" stroke="#111" stroke-width="0.7" />
<line x1="97.08550702298751" y1="280.8" x2="97.08550702298751" y2="282.40000000000003" stroke="#111" stroke-width="0.7" />
<line x1="98.11374648850625" y1="280.8" x2="98.11374648850625" y2="282.40000000000003" stroke="#111" stroke-width="0.7" />
<line x1="98.95387930438305" y1="280.8" x2="98.95387930438305" y2="282.40000000000003" stroke="#111" stroke-width="0.7" />
<line x1="99.66420147906126" y1="280.8" x2="99.66420147906126" y2="282.40000000000003" stroke="#111" stroke-width="0.7" />
<line x1="100.27951053448126" y1="280.8" x2="100.27951053448126" y2="282.40000000000003" stroke="#111" stroke-width="0.7" />
<line x1="100.82225158577859" y1="280.8" x2="100.82225158577859" y2="282.40000000000003" stroke="#111" stroke-width="0.7" />
<line x1="104.50175351149375" y1="280.8" x2="104.50175351149375" y2="282.0" stroke="#111" stroke-width="0.5" />
<line x1="106.3701257928893" y1="280.8" x2="106.3701257928893" y2="282.0" stroke="#111" stroke-width="0.5" />
<text x="62.57" y="291.90" font-size="6.2" fill="#111" stroke="#111" stroke-width="0.16" text-anchor="middle">-10<tspan font-size="4" dy="-2.6">3</tspan></text>
<text x="70.9218" y="291.90000000000003" font-size="6.2" fill="#111" stroke="#111" stroke-width="0.16" text-anchor="middle">0</text>
<text x="77.60" y="291.90" font-size="6.2" fill="#111" stroke="#111" stroke-width="0.16" text-anchor="middle">10<tspan font-size="4" dy="-2.6">3</tspan></text>
<text x="91.37" y="291.90" font-size="6.2" fill="#111" stroke="#111" stroke-width="0.16" text-anchor="middle">10<tspan font-size="4" dy="-2.6">4</tspan></text>
<text x="101.76" y="291.90" font-size="6.2" fill="#111" stroke="#111" stroke-width="0.16" text-anchor="middle">10<tspan font-size="4" dy="-2.6">5</tspan></text>
<path d="M68.5,330 C68,336 68,342 69,348 L80,348 C81,342 80.5,336 79.5,330 Z" fill="#cfcfcf" opacity="0.8"/>
<ellipse cx="84.8" cy="327.9" rx="3.8" ry="5.0" fill="url(#gL)"/>
<ellipse cx="74.2" cy="327.7" rx="6.6" ry="6.8" fill="url(#gM)"/>
<ellipse cx="73.8" cy="343.4" rx="6.2" ry="6.0" fill="url(#gM)"/>
<rect x="61.35" y="306.2" width="44.949999999999996" height="45.5" fill="none" stroke="#111" stroke-width="1"/>
<text x="54.75" y="311.5" font-size="6" fill="#111" stroke="#111" stroke-width="0.16" text-anchor="end">10<tspan font-size="3.9" dy="-2.5">5</tspan></text>
<text x="54.75" y="322.1" font-size="6" fill="#111" stroke="#111" stroke-width="0.16" text-anchor="end">10<tspan font-size="3.9" dy="-2.5">4</tspan></text>
<text x="54.75" y="333.3" font-size="6" fill="#111" stroke="#111" stroke-width="0.16" text-anchor="end">10<tspan font-size="3.9" dy="-2.5">3</tspan></text>
<text x="54.75" y="343.6" font-size="6" fill="#111" stroke="#111" stroke-width="0.16" text-anchor="end">10<tspan font-size="3.9" dy="-2.5">2</tspan></text>
<text x="54.550000000000004" y="348.6" font-size="6" fill="#111" stroke="#111" stroke-width="0.16" text-anchor="end">0</text>
<text x="54.75" y="355.8" font-size="6" fill="#111" stroke="#111" stroke-width="0.16" text-anchor="end">-10<tspan font-size="3.9" dy="-2.5">2</tspan></text>
<line x1="58.95" y1="309.4" x2="61.35" y2="309.4" stroke="#111" stroke-width="0.9" />
<line x1="58.95" y1="320" x2="61.35" y2="320" stroke="#111" stroke-width="0.9" />
<line x1="58.95" y1="331.2" x2="61.35" y2="331.2" stroke="#111" stroke-width="0.9" />
<line x1="58.95" y1="341.5" x2="61.35" y2="341.5" stroke="#111" stroke-width="0.9" />
<line x1="58.95" y1="346.5" x2="61.35" y2="346.5" stroke="#111" stroke-width="0.9" />
<line x1="58.95" y1="353.7" x2="61.35" y2="353.7" stroke="#111" stroke-width="0.9" />
<line x1="59.75" y1="316.8090820459618" x2="61.35" y2="316.8090820459618" stroke="#111" stroke-width="0.7" />
<line x1="59.75" y1="314.9425146999716" x2="61.35" y2="314.9425146999716" stroke="#111" stroke-width="0.7" />
<line x1="59.75" y1="313.6181640919236" x2="61.35" y2="313.6181640919236" stroke="#111" stroke-width="0.7" />
<line x1="59.75" y1="312.59091795403816" x2="61.35" y2="312.59091795403816" stroke="#111" stroke-width="0.7" />
<line x1="59.75" y1="311.75159674593334" x2="61.35" y2="311.75159674593334" stroke="#111" stroke-width="0.7" />
<line x1="59.75" y1="311.04196077584885" x2="61.35" y2="311.04196077584885" stroke="#111" stroke-width="0.7" />
<line x1="59.75" y1="310.4272461378854" x2="61.35" y2="310.4272461378854" stroke="#111" stroke-width="0.7" />
<line x1="59.75" y1="309.8850293999431" x2="61.35" y2="309.8850293999431" stroke="#111" stroke-width="0.7" />
<line x1="59.75" y1="327.8284640485634" x2="61.35" y2="327.8284640485634" stroke="#111" stroke-width="0.7" />
<line x1="59.75" y1="325.8562419471398" x2="61.35" y2="325.8562419471398" stroke="#111" stroke-width="0.7" />
<line x1="59.75" y1="324.4569280971268" x2="61.35" y2="324.4569280971268" stroke="#111" stroke-width="0.7" />
<line x1="59.75" y1="323.3715359514366" x2="61.35" y2="323.3715359514366" stroke="#111" stroke-width="0.7" />
<line x1="59.75" y1="322.48470599570317" x2="61.35" y2="322.48470599570317" stroke="#111" stroke-width="0.7" />
<line x1="59.75" y1="321.7349019518403" x2="61.35" y2="321.7349019518403" stroke="#111" stroke-width="0.7" />
<line x1="59.75" y1="321.0853921456902" x2="61.35" y2="321.0853921456902" stroke="#111" stroke-width="0.7" />
<line x1="59.75" y1="320.51248389427957" x2="61.35" y2="320.51248389427957" stroke="#111" stroke-width="0.7" />
<line x1="59.75" y1="338.399391044661" x2="61.35" y2="338.399391044661" stroke="#111" stroke-width="0.7" />
<line x1="59.75" y1="336.5856510763875" x2="61.35" y2="336.5856510763875" stroke="#111" stroke-width="0.7" />
<line x1="59.75" y1="335.298782089322" x2="61.35" y2="335.298782089322" stroke="#111" stroke-width="0.7" />
<line x1="59.75" y1="334.300608955339" x2="61.35" y2="334.300608955339" stroke="#111" stroke-width="0.7" />
<line x1="59.75" y1="333.4850421210485" x2="61.35" y2="333.4850421210485" stroke="#111" stroke-width="0.7" />
<line x1="59.75" y1="332.79549018785315" x2="61.35" y2="332.79549018785315" stroke="#111" stroke-width="0.7" />
<line x1="59.75" y1="332.19817313398295" x2="61.35" y2="332.19817313398295" stroke="#111" stroke-width="0.7" />
<line x1="59.75" y1="331.67130215277496" x2="61.35" y2="331.67130215277496" stroke="#111" stroke-width="0.7" />
<line x1="59.75" y1="344.9948500216801" x2="61.35" y2="344.9948500216801" stroke="#111" stroke-width="0.7" />
<line x1="59.75" y1="344.1143937264017" x2="61.35" y2="344.1143937264017" stroke="#111" stroke-width="0.7" />
<line x1="59.75" y1="343.4897000433602" x2="61.35" y2="343.4897000433602" stroke="#111" stroke-width="0.7" />
<line x1="59.75" y1="343.0051499783199" x2="61.35" y2="343.0051499783199" stroke="#111" stroke-width="0.7" />
<line x1="59.75" y1="342.6092437480818" x2="61.35" y2="342.6092437480818" stroke="#111" stroke-width="0.7" />
<line x1="59.75" y1="342.2745097999287" x2="61.35" y2="342.2745097999287" stroke="#111" stroke-width="0.7" />
<line x1="59.75" y1="341.9845500650403" x2="61.35" y2="341.9845500650403" stroke="#111" stroke-width="0.7" />
<line x1="59.75" y1="341.7287874528034" x2="61.35" y2="341.7287874528034" stroke="#111" stroke-width="0.7" />
<line x1="59.75" y1="342.775" x2="61.35" y2="342.775" stroke="#111" stroke-width="0.7" />
<line x1="59.75" y1="344.05" x2="61.35" y2="344.05" stroke="#111" stroke-width="0.7" />
<line x1="59.75" y1="345.325" x2="61.35" y2="345.325" stroke="#111" stroke-width="0.7" />
<line x1="59.75" y1="346.6" x2="61.35" y2="346.6" stroke="#111" stroke-width="0.7" />
<line x1="59.75" y1="347.875" x2="61.35" y2="347.875" stroke="#111" stroke-width="0.7" />
<line x1="59.75" y1="349.15" x2="61.35" y2="349.15" stroke="#111" stroke-width="0.7" />
<line x1="59.75" y1="350.425" x2="61.35" y2="350.425" stroke="#111" stroke-width="0.7" />
<rect x="81.5" y="322.3" width="15.400000000000006" height="12.099999999999966" fill="none" stroke="#222" stroke-width="0.7"/>
<text x="89.2" y="318.8" font-size="4.7" fill="#111" stroke="#111" stroke-width="0.16" text-anchor="middle">MKP</text>
<line x1="96.9" y1="328.1" x2="112.8" y2="328.1" stroke="#111" stroke-width="0.7" />
<path d="M114.3,328.1 L111.89999999999999,326.8 L111.89999999999999,329.40000000000003 Z" fill="#111" stroke="none" stroke-width="1" />
<line x1="63.148" y1="351.7" x2="63.148" y2="354.09999999999997" stroke="#111" stroke-width="0.9" />
<line x1="70.8794" y1="351.7" x2="70.8794" y2="354.09999999999997" stroke="#111" stroke-width="0.9" />
<line x1="76.85775" y1="351.7" x2="76.85775" y2="354.09999999999997" stroke="#111" stroke-width="0.9" />
<line x1="90.5675" y1="351.7" x2="90.5675" y2="354.09999999999997" stroke="#111" stroke-width="0.9" />
<line x1="101.13075" y1="351.7" x2="101.13075" y2="354.09999999999997" stroke="#111" stroke-width="0.9" />
<line x1="64.69428" y1="351.7" x2="64.69428" y2="353.3" stroke="#111" stroke-width="0.7" />
<line x1="66.24056" y1="351.7" x2="66.24056" y2="353.3" stroke="#111" stroke-width="0.7" />
<line x1="67.78684" y1="351.7" x2="67.78684" y2="353.3" stroke="#111" stroke-width="0.7" />
<line x1="69.33312000000001" y1="351.7" x2="69.33312000000001" y2="353.3" stroke="#111" stroke-width="0.7" />
<line x1="72.07507" y1="351.7" x2="72.07507" y2="353.3" stroke="#111" stroke-width="0.7" />
<line x1="73.27074" y1="351.7" x2="73.27074" y2="353.3" stroke="#111" stroke-width="0.7" />
<line x1="74.46641" y1="351.7" x2="74.46641" y2="353.3" stroke="#111" stroke-width="0.7" />
<line x1="75.66208" y1="351.7" x2="75.66208" y2="353.3" stroke="#111" stroke-width="0.7" />
<line x1="80.98479598305425" y1="351.7" x2="80.98479598305425" y2="353.3" stroke="#111" stroke-width="0.7" />
<line x1="83.39896312189289" y1="351.7" x2="83.39896312189289" y2="353.3" stroke="#111" stroke-width="0.7" />
<line x1="85.11184196610853" y1="351.7" x2="85.11184196610853" y2="353.3" stroke="#111" stroke-width="0.7" />
<line x1="86.44045401694574" y1="351.7" x2="86.44045401694574" y2="353.3" stroke="#111" stroke-width="0.7" />
<line x1="87.52600910494715" y1="351.7" x2="87.52600910494715" y2="353.3" stroke="#111" stroke-width="0.7" />
<line x1="88.44383285408546" y1="351.7" x2="88.44383285408546" y2="353.3" stroke="#111" stroke-width="0.7" />
<line x1="89.23888794916279" y1="351.7" x2="89.23888794916279" y2="353.3" stroke="#111" stroke-width="0.7" />
<line x1="89.94017624378579" y1="351.7" x2="89.94017624378579" y2="353.3" stroke="#111" stroke-width="0.7" />
<line x1="93.74735510169755" y1="351.7" x2="93.74735510169755" y2="353.3" stroke="#111" stroke-width="0.7" />
<line x1="95.60745109391748" y1="351.7" x2="95.60745109391748" y2="353.3" stroke="#111" stroke-width="0.7" />
<line x1="96.9272102033951" y1="351.7" x2="96.9272102033951" y2="353.3" stroke="#111" stroke-width="0.7" />
<line x1="97.95089489830245" y1="351.7" x2="97.95089489830245" y2="353.3" stroke="#111" stroke-width="0.7" />
<line x1="98.78730619561503" y1="351.7" x2="98.78730619561503" y2="353.3" stroke="#111" stroke-width="0.7" />
<line x1="99.4944818711806" y1="351.7" x2="99.4944818711806" y2="353.3" stroke="#111" stroke-width="0.7" />
<line x1="100.10706530509265" y1="351.7" x2="100.10706530509265" y2="353.3" stroke="#111" stroke-width="0.7" />
<line x1="100.64740218783496" y1="351.7" x2="100.64740218783496" y2="353.3" stroke="#111" stroke-width="0.7" />
<line x1="104.31060510169756" y1="351.7" x2="104.31060510169756" y2="352.9" stroke="#111" stroke-width="0.5" />
<line x1="106.17070109391749" y1="351.7" x2="106.17070109391749" y2="352.9" stroke="#111" stroke-width="0.5" />
<text x="62.56" y="362.80" font-size="6.2" fill="#111" stroke="#111" stroke-width="0.16" text-anchor="middle">-10<tspan font-size="4" dy="-2.6">3</tspan></text>
<text x="70.8794" y="362.8" font-size="6.2" fill="#111" stroke="#111" stroke-width="0.16" text-anchor="middle">0</text>
<text x="77.53" y="362.80" font-size="6.2" fill="#111" stroke="#111" stroke-width="0.16" text-anchor="middle">10<tspan font-size="4" dy="-2.6">3</tspan></text>
<text x="91.24" y="362.80" font-size="6.2" fill="#111" stroke="#111" stroke-width="0.16" text-anchor="middle">10<tspan font-size="4" dy="-2.6">4</tspan></text>
<text x="101.58" y="362.80" font-size="6.2" fill="#111" stroke="#111" stroke-width="0.16" text-anchor="middle">10<tspan font-size="4" dy="-2.6">5</tspan></text>
<text x="83.6" y="375.6" font-size="8.6" fill="#111" stroke="#111" stroke-width="0" text-anchor="middle" textLength="15.7" lengthAdjust="spacingAndGlyphs">CD41</text>
<polygon points="144.9,280.5 146,271 147,264 148.2,263.5 149.2,261.4 150.3,265 151,266 151.6,267 152.5,272 153.3,278 154.2,280.5" fill="#2a4784"/>
<rect x="134.15" y="235.4" width="45.75" height="45.099999999999994" fill="none" stroke="#111" stroke-width="1.0"/>
<line x1="131.75" y1="235.7" x2="134.15" y2="235.7" stroke="#111" stroke-width="0.9" />
<line x1="131.75" y1="244.6" x2="134.15" y2="244.6" stroke="#111" stroke-width="0.9" />
<line x1="131.75" y1="253.6" x2="134.15" y2="253.6" stroke="#111" stroke-width="0.9" />
<line x1="131.75" y1="262.6" x2="134.15" y2="262.6" stroke="#111" stroke-width="0.9" />
<line x1="131.75" y1="271.5" x2="134.15" y2="271.5" stroke="#111" stroke-width="0.9" />
<line x1="131.75" y1="280.5" x2="134.15" y2="280.5" stroke="#111" stroke-width="0.9" />
<line x1="132.65" y1="237.48" x2="134.15" y2="237.48" stroke="#111" stroke-width="0.7" />
<line x1="132.65" y1="239.26" x2="134.15" y2="239.26" stroke="#111" stroke-width="0.7" />
<line x1="132.65" y1="241.04" x2="134.15" y2="241.04" stroke="#111" stroke-width="0.7" />
<line x1="132.65" y1="242.82" x2="134.15" y2="242.82" stroke="#111" stroke-width="0.7" />
<line x1="132.65" y1="246.4" x2="134.15" y2="246.4" stroke="#111" stroke-width="0.7" />
<line x1="132.65" y1="248.2" x2="134.15" y2="248.2" stroke="#111" stroke-width="0.7" />
<line x1="132.65" y1="250.0" x2="134.15" y2="250.0" stroke="#111" stroke-width="0.7" />
<line x1="132.65" y1="251.79999999999998" x2="134.15" y2="251.79999999999998" stroke="#111" stroke-width="0.7" />
<line x1="132.65" y1="255.4" x2="134.15" y2="255.4" stroke="#111" stroke-width="0.7" />
<line x1="132.65" y1="257.2" x2="134.15" y2="257.2" stroke="#111" stroke-width="0.7" />
<line x1="132.65" y1="259.0" x2="134.15" y2="259.0" stroke="#111" stroke-width="0.7" />
<line x1="132.65" y1="260.8" x2="134.15" y2="260.8" stroke="#111" stroke-width="0.7" />
<line x1="132.65" y1="264.38" x2="134.15" y2="264.38" stroke="#111" stroke-width="0.7" />
<line x1="132.65" y1="266.16" x2="134.15" y2="266.16" stroke="#111" stroke-width="0.7" />
<line x1="132.65" y1="267.94" x2="134.15" y2="267.94" stroke="#111" stroke-width="0.7" />
<line x1="132.65" y1="269.72" x2="134.15" y2="269.72" stroke="#111" stroke-width="0.7" />
<line x1="132.65" y1="273.3" x2="134.15" y2="273.3" stroke="#111" stroke-width="0.7" />
<line x1="132.65" y1="275.1" x2="134.15" y2="275.1" stroke="#111" stroke-width="0.7" />
<line x1="132.65" y1="276.9" x2="134.15" y2="276.9" stroke="#111" stroke-width="0.7" />
<line x1="132.65" y1="278.7" x2="134.15" y2="278.7" stroke="#111" stroke-width="0.7" />
<text x="128" y="237.968" font-size="6.3" fill="#111" stroke="#111" stroke-width="0.16" text-anchor="end">5</text>
<text x="128" y="246.868" font-size="6.3" fill="#111" stroke="#111" stroke-width="0.16" text-anchor="end">4</text>
<text x="128" y="255.868" font-size="6.3" fill="#111" stroke="#111" stroke-width="0.16" text-anchor="end">3</text>
<text x="128" y="264.868" font-size="6.3" fill="#111" stroke="#111" stroke-width="0.16" text-anchor="end">2</text>
<text x="128" y="273.768" font-size="6.3" fill="#111" stroke="#111" stroke-width="0.16" text-anchor="end">1</text>
<text x="128" y="282.768" font-size="6.3" fill="#111" stroke="#111" stroke-width="0.16" text-anchor="end">0</text>
<line x1="150" y1="256" x2="175.2" y2="256" stroke="#111" stroke-width="0.8" />
<line x1="150" y1="254.8" x2="150" y2="257.2" stroke="#111" stroke-width="0.7" />
<line x1="175.2" y1="254.8" x2="175.2" y2="257.2" stroke="#111" stroke-width="0.7" />
<text x="164.3" y="254.0" font-size="5.4" fill="#111" stroke="#111" stroke-width="0.16" text-anchor="middle">43.4%</text>
<line x1="135.98000000000002" y1="280.5" x2="135.98000000000002" y2="282.9" stroke="#111" stroke-width="0.9" />
<line x1="143.84900000000002" y1="280.5" x2="143.84900000000002" y2="282.9" stroke="#111" stroke-width="0.9" />
<line x1="149.93375" y1="280.5" x2="149.93375" y2="282.9" stroke="#111" stroke-width="0.9" />
<line x1="163.88750000000002" y1="280.5" x2="163.88750000000002" y2="282.9" stroke="#111" stroke-width="0.9" />
<line x1="174.63875000000002" y1="280.5" x2="174.63875000000002" y2="282.9" stroke="#111" stroke-width="0.9" />
<line x1="137.55380000000002" y1="280.5" x2="137.55380000000002" y2="282.1" stroke="#111" stroke-width="0.7" />
<line x1="139.12760000000003" y1="280.5" x2="139.12760000000003" y2="282.1" stroke="#111" stroke-width="0.7" />
<line x1="140.7014" y1="280.5" x2="140.7014" y2="282.1" stroke="#111" stroke-width="0.7" />
<line x1="142.2752" y1="280.5" x2="142.2752" y2="282.1" stroke="#111" stroke-width="0.7" />
<line x1="145.06595000000002" y1="280.5" x2="145.06595000000002" y2="282.1" stroke="#111" stroke-width="0.7" />
<line x1="146.2829" y1="280.5" x2="146.2829" y2="282.1" stroke="#111" stroke-width="0.7" />
<line x1="147.49985" y1="280.5" x2="147.49985" y2="282.1" stroke="#111" stroke-width="0.7" />
<line x1="148.7168" y1="280.5" x2="148.7168" y2="282.1" stroke="#111" stroke-width="0.7" />
<line x1="154.13424730199628" y1="280.5" x2="154.13424730199628" y2="282.1" stroke="#111" stroke-width="0.7" />
<line x1="156.5913807080445" y1="280.5" x2="156.5913807080445" y2="282.1" stroke="#111" stroke-width="0.7" />
<line x1="158.33474460399256" y1="280.5" x2="158.33474460399256" y2="282.1" stroke="#111" stroke-width="0.7" />
<line x1="159.68700269800374" y1="280.5" x2="159.68700269800374" y2="282.1" stroke="#111" stroke-width="0.7" />
<line x1="160.7918780100408" y1="280.5" x2="160.7918780100408" y2="282.1" stroke="#111" stroke-width="0.7" />
<line x1="161.72603677584894" y1="280.5" x2="161.72603677584894" y2="282.1" stroke="#111" stroke-width="0.7" />
<line x1="162.53524190598884" y1="280.5" x2="162.53524190598884" y2="282.1" stroke="#111" stroke-width="0.7" />
<line x1="163.249011416089" y1="280.5" x2="163.249011416089" y2="282.1" stroke="#111" stroke-width="0.7" />
<line x1="167.12394874088238" y1="280.5" x2="167.12394874088238" y2="282.1" stroke="#111" stroke-width="0.7" />
<line x1="169.01714988980478" y1="280.5" x2="169.01714988980478" y2="282.1" stroke="#111" stroke-width="0.7" />
<line x1="170.36039748176478" y1="280.5" x2="170.36039748176478" y2="282.1" stroke="#111" stroke-width="0.7" />
<line x1="171.40230125911765" y1="280.5" x2="171.40230125911765" y2="282.1" stroke="#111" stroke-width="0.7" />
<line x1="172.25359863068718" y1="280.5" x2="172.25359863068718" y2="282.1" stroke="#111" stroke-width="0.7" />
<line x1="172.9733603027033" y1="280.5" x2="172.9733603027033" y2="282.1" stroke="#111" stroke-width="0.7" />
<line x1="173.59684622264714" y1="280.5" x2="173.59684622264714" y2="282.1" stroke="#111" stroke-width="0.7" />
<line x1="174.14679977960955" y1="280.5" x2="174.14679977960955" y2="282.1" stroke="#111" stroke-width="0.7" />
<line x1="177.87519874088238" y1="280.5" x2="177.87519874088238" y2="281.7" stroke="#111" stroke-width="0.5" />
<line x1="179.76839988980478" y1="280.5" x2="179.76839988980478" y2="281.7" stroke="#111" stroke-width="0.5" />
<text x="135.39" y="291.60" font-size="6.2" fill="#111" stroke="#111" stroke-width="0.16" text-anchor="middle">-10<tspan font-size="4" dy="-2.6">3</tspan></text>
<text x="143.84900000000002" y="291.6" font-size="6.2" fill="#111" stroke="#111" stroke-width="0.16" text-anchor="middle">0</text>
<text x="150.62" y="291.60" font-size="6.2" fill="#111" stroke="#111" stroke-width="0.16" text-anchor="middle">10<tspan font-size="4" dy="-2.6">3</tspan></text>
<text x="164.57" y="291.60" font-size="6.2" fill="#111" stroke="#111" stroke-width="0.16" text-anchor="middle">10<tspan font-size="4" dy="-2.6">4</tspan></text>
<text x="175.10" y="291.60" font-size="6.2" fill="#111" stroke="#111" stroke-width="0.16" text-anchor="middle">10<tspan font-size="4" dy="-2.6">5</tspan></text>
<polygon points="223.8,280.2 226,278.5 229.4,274.4 231.4,269.7 232.4,261.6 233.2,258.7 234.1,264.3 235.1,274.4 236.8,278 238.8,280.2" fill="#2a4784"/>
<rect x="201.4" y="234.6" width="45.79999999999998" height="45.599999999999994" fill="none" stroke="#111" stroke-width="1.0"/>
<line x1="199.0" y1="234.7" x2="201.4" y2="234.7" stroke="#111" stroke-width="0.9" />
<line x1="199.0" y1="243.8" x2="201.4" y2="243.8" stroke="#111" stroke-width="0.9" />
<line x1="199.0" y1="253" x2="201.4" y2="253" stroke="#111" stroke-width="0.9" />
<line x1="199.0" y1="262.1" x2="201.4" y2="262.1" stroke="#111" stroke-width="0.9" />
<line x1="199.0" y1="271.2" x2="201.4" y2="271.2" stroke="#111" stroke-width="0.9" />
<line x1="199.0" y1="280.2" x2="201.4" y2="280.2" stroke="#111" stroke-width="0.9" />
<line x1="199.9" y1="236.51999999999998" x2="201.4" y2="236.51999999999998" stroke="#111" stroke-width="0.7" />
<line x1="199.9" y1="238.34" x2="201.4" y2="238.34" stroke="#111" stroke-width="0.7" />
<line x1="199.9" y1="240.16" x2="201.4" y2="240.16" stroke="#111" stroke-width="0.7" />
<line x1="199.9" y1="241.98000000000002" x2="201.4" y2="241.98000000000002" stroke="#111" stroke-width="0.7" />
<line x1="199.9" y1="245.64000000000001" x2="201.4" y2="245.64000000000001" stroke="#111" stroke-width="0.7" />
<line x1="199.9" y1="247.48000000000002" x2="201.4" y2="247.48000000000002" stroke="#111" stroke-width="0.7" />
<line x1="199.9" y1="249.32" x2="201.4" y2="249.32" stroke="#111" stroke-width="0.7" />
<line x1="199.9" y1="251.16" x2="201.4" y2="251.16" stroke="#111" stroke-width="0.7" />
<line x1="199.9" y1="254.82" x2="201.4" y2="254.82" stroke="#111" stroke-width="0.7" />
<line x1="199.9" y1="256.64" x2="201.4" y2="256.64" stroke="#111" stroke-width="0.7" />
<line x1="199.9" y1="258.46000000000004" x2="201.4" y2="258.46000000000004" stroke="#111" stroke-width="0.7" />
<line x1="199.9" y1="260.28000000000003" x2="201.4" y2="260.28000000000003" stroke="#111" stroke-width="0.7" />
<line x1="199.9" y1="263.92" x2="201.4" y2="263.92" stroke="#111" stroke-width="0.7" />
<line x1="199.9" y1="265.74" x2="201.4" y2="265.74" stroke="#111" stroke-width="0.7" />
<line x1="199.9" y1="267.56" x2="201.4" y2="267.56" stroke="#111" stroke-width="0.7" />
<line x1="199.9" y1="269.38" x2="201.4" y2="269.38" stroke="#111" stroke-width="0.7" />
<line x1="199.9" y1="273.0" x2="201.4" y2="273.0" stroke="#111" stroke-width="0.7" />
<line x1="199.9" y1="274.8" x2="201.4" y2="274.8" stroke="#111" stroke-width="0.7" />
<line x1="199.9" y1="276.59999999999997" x2="201.4" y2="276.59999999999997" stroke="#111" stroke-width="0.7" />
<line x1="199.9" y1="278.4" x2="201.4" y2="278.4" stroke="#111" stroke-width="0.7" />
<text x="195.3" y="236.968" font-size="6.3" fill="#111" stroke="#111" stroke-width="0.16" text-anchor="end">10</text>
<text x="195.3" y="246.068" font-size="6.3" fill="#111" stroke="#111" stroke-width="0.16" text-anchor="end">8</text>
<text x="195.3" y="255.268" font-size="6.3" fill="#111" stroke="#111" stroke-width="0.16" text-anchor="end">6</text>
<text x="195.3" y="264.368" font-size="6.3" fill="#111" stroke="#111" stroke-width="0.16" text-anchor="end">4</text>
<text x="195.3" y="273.46799999999996" font-size="6.3" fill="#111" stroke="#111" stroke-width="0.16" text-anchor="end">2</text>
<text x="195.3" y="282.46799999999996" font-size="6.3" fill="#111" stroke="#111" stroke-width="0.16" text-anchor="end">0</text>
<line x1="219.3" y1="250.2" x2="245.6" y2="250.2" stroke="#111" stroke-width="0.8" />
<line x1="219.3" y1="249.0" x2="219.3" y2="251.39999999999998" stroke="#111" stroke-width="0.7" />
<line x1="245.6" y1="249.0" x2="245.6" y2="251.39999999999998" stroke="#111" stroke-width="0.7" />
<text x="232.4" y="248.2" font-size="5.4" fill="#111" stroke="#111" stroke-width="0.16" text-anchor="middle">100%</text>
<line x1="203.232" y1="280.2" x2="203.232" y2="282.59999999999997" stroke="#111" stroke-width="0.9" />
<line x1="211.1096" y1="280.2" x2="211.1096" y2="282.59999999999997" stroke="#111" stroke-width="0.9" />
<line x1="217.201" y1="280.2" x2="217.201" y2="282.59999999999997" stroke="#111" stroke-width="0.9" />
<line x1="231.17" y1="280.2" x2="231.17" y2="282.59999999999997" stroke="#111" stroke-width="0.9" />
<line x1="241.933" y1="280.2" x2="241.933" y2="282.59999999999997" stroke="#111" stroke-width="0.9" />
<line x1="204.80752" y1="280.2" x2="204.80752" y2="281.8" stroke="#111" stroke-width="0.7" />
<line x1="206.38304" y1="280.2" x2="206.38304" y2="281.8" stroke="#111" stroke-width="0.7" />
<line x1="207.95856" y1="280.2" x2="207.95856" y2="281.8" stroke="#111" stroke-width="0.7" />
<line x1="209.53408" y1="280.2" x2="209.53408" y2="281.8" stroke="#111" stroke-width="0.7" />
<line x1="212.32788" y1="280.2" x2="212.32788" y2="281.8" stroke="#111" stroke-width="0.7" />
<line x1="213.54616" y1="280.2" x2="213.54616" y2="281.8" stroke="#111" stroke-width="0.7" />
<line x1="214.76444" y1="280.2" x2="214.76444" y2="281.8" stroke="#111" stroke-width="0.7" />
<line x1="215.98272" y1="280.2" x2="215.98272" y2="281.8" stroke="#111" stroke-width="0.7" />
<line x1="221.40608800943014" y1="280.2" x2="221.40608800943014" y2="281.8" stroke="#111" stroke-width="0.7" />
<line x1="223.86590680717896" y1="280.2" x2="223.86590680717896" y2="281.8" stroke="#111" stroke-width="0.7" />
<line x1="225.6111760188603" y1="280.2" x2="225.6111760188603" y2="281.8" stroke="#111" stroke-width="0.7" />
<line x1="226.96491199056985" y1="280.2" x2="226.96491199056985" y2="281.8" stroke="#111" stroke-width="0.7" />
<line x1="228.0709948166091" y1="280.2" x2="228.0709948166091" y2="281.8" stroke="#111" stroke-width="0.7" />
<line x1="229.00617452095915" y1="280.2" x2="229.00617452095915" y2="281.8" stroke="#111" stroke-width="0.7" />
<line x1="229.81626402829045" y1="280.2" x2="229.81626402829045" y2="281.8" stroke="#111" stroke-width="0.7" />
<line x1="230.53081361435792" y1="280.2" x2="230.53081361435792" y2="281.8" stroke="#111" stroke-width="0.7" />
<line x1="234.4099858433314" y1="280.2" x2="234.4099858433314" y2="281.8" stroke="#111" stroke-width="0.7" />
<line x1="236.3052560645477" y1="280.2" x2="236.3052560645477" y2="281.8" stroke="#111" stroke-width="0.7" />
<line x1="237.64997168666284" y1="280.2" x2="237.64997168666284" y2="281.8" stroke="#111" stroke-width="0.7" />
<line x1="238.69301415666857" y1="280.2" x2="238.69301415666857" y2="281.8" stroke="#111" stroke-width="0.7" />
<line x1="239.54524190787916" y1="280.2" x2="239.54524190787916" y2="281.8" stroke="#111" stroke-width="0.7" />
<line x1="240.26579020467344" y1="280.2" x2="240.26579020467344" y2="281.8" stroke="#111" stroke-width="0.7" />
<line x1="240.8899575299943" y1="280.2" x2="240.8899575299943" y2="281.8" stroke="#111" stroke-width="0.7" />
<line x1="241.44051212909545" y1="280.2" x2="241.44051212909545" y2="281.8" stroke="#111" stroke-width="0.7" />
<line x1="245.17298584333142" y1="280.2" x2="245.17298584333142" y2="281.4" stroke="#111" stroke-width="0.5" />
<line x1="247.0682560645477" y1="280.2" x2="247.0682560645477" y2="281.4" stroke="#111" stroke-width="0.5" />
<text x="202.64" y="291.30" font-size="6.2" fill="#111" stroke="#111" stroke-width="0.16" text-anchor="middle">-10<tspan font-size="4" dy="-2.6">3</tspan></text>
<text x="211.1096" y="291.3" font-size="6.2" fill="#111" stroke="#111" stroke-width="0.16" text-anchor="middle">0</text>
<text x="217.89" y="291.30" font-size="6.2" fill="#111" stroke="#111" stroke-width="0.16" text-anchor="middle">10<tspan font-size="4" dy="-2.6">3</tspan></text>
<text x="231.86" y="291.30" font-size="6.2" fill="#111" stroke="#111" stroke-width="0.16" text-anchor="middle">10<tspan font-size="4" dy="-2.6">4</tspan></text>
<text x="242.39" y="291.30" font-size="6.2" fill="#111" stroke="#111" stroke-width="0.16" text-anchor="middle">10<tspan font-size="4" dy="-2.6">5</tspan></text>
<polygon points="279.6,280.2 280.5,272.4 281.6,264.6 282.7,272.4 284.3,279.1 285,280.2" fill="#2a4784"/>
<rect x="269.5" y="234.6" width="45.5" height="45.599999999999994" fill="none" stroke="#111" stroke-width="1.0"/>
<line x1="267.1" y1="234.7" x2="269.5" y2="234.7" stroke="#111" stroke-width="0.9" />
<line x1="267.1" y1="246.1" x2="269.5" y2="246.1" stroke="#111" stroke-width="0.9" />
<line x1="267.1" y1="257.5" x2="269.5" y2="257.5" stroke="#111" stroke-width="0.9" />
<line x1="267.1" y1="268.8" x2="269.5" y2="268.8" stroke="#111" stroke-width="0.9" />
<line x1="267.1" y1="280.2" x2="269.5" y2="280.2" stroke="#111" stroke-width="0.9" />
<line x1="268.0" y1="236.98" x2="269.5" y2="236.98" stroke="#111" stroke-width="0.7" />
<line x1="268.0" y1="239.26" x2="269.5" y2="239.26" stroke="#111" stroke-width="0.7" />
<line x1="268.0" y1="241.54" x2="269.5" y2="241.54" stroke="#111" stroke-width="0.7" />
<line x1="268.0" y1="243.82" x2="269.5" y2="243.82" stroke="#111" stroke-width="0.7" />
<line x1="268.0" y1="248.38" x2="269.5" y2="248.38" stroke="#111" stroke-width="0.7" />
<line x1="268.0" y1="250.66" x2="269.5" y2="250.66" stroke="#111" stroke-width="0.7" />
<line x1="268.0" y1="252.94" x2="269.5" y2="252.94" stroke="#111" stroke-width="0.7" />
<line x1="268.0" y1="255.22" x2="269.5" y2="255.22" stroke="#111" stroke-width="0.7" />
<line x1="268.0" y1="259.76" x2="269.5" y2="259.76" stroke="#111" stroke-width="0.7" />
<line x1="268.0" y1="262.02" x2="269.5" y2="262.02" stroke="#111" stroke-width="0.7" />
<line x1="268.0" y1="264.28000000000003" x2="269.5" y2="264.28000000000003" stroke="#111" stroke-width="0.7" />
<line x1="268.0" y1="266.54" x2="269.5" y2="266.54" stroke="#111" stroke-width="0.7" />
<line x1="268.0" y1="271.08" x2="269.5" y2="271.08" stroke="#111" stroke-width="0.7" />
<line x1="268.0" y1="273.36" x2="269.5" y2="273.36" stroke="#111" stroke-width="0.7" />
<line x1="268.0" y1="275.64" x2="269.5" y2="275.64" stroke="#111" stroke-width="0.7" />
<line x1="268.0" y1="277.92" x2="269.5" y2="277.92" stroke="#111" stroke-width="0.7" />
<text x="263.6" y="236.968" font-size="6.3" fill="#111" stroke="#111" stroke-width="0.16" text-anchor="end">4</text>
<text x="263.6" y="248.368" font-size="6.3" fill="#111" stroke="#111" stroke-width="0.16" text-anchor="end">3</text>
<text x="263.6" y="259.768" font-size="6.3" fill="#111" stroke="#111" stroke-width="0.16" text-anchor="end">2</text>
<text x="263.6" y="271.068" font-size="6.3" fill="#111" stroke="#111" stroke-width="0.16" text-anchor="end">1</text>
<text x="263.6" y="282.46799999999996" font-size="6.3" fill="#111" stroke="#111" stroke-width="0.16" text-anchor="end">0</text>
<line x1="286.3" y1="255.6" x2="311" y2="255.6" stroke="#111" stroke-width="0.8" />
<line x1="286.3" y1="254.4" x2="286.3" y2="256.8" stroke="#111" stroke-width="0.7" />
<line x1="311" y1="254.4" x2="311" y2="256.8" stroke="#111" stroke-width="0.7" />
<text x="298.8" y="253.6" font-size="5.4" fill="#111" stroke="#111" stroke-width="0.16" text-anchor="middle">0%</text>
<line x1="271.32" y1="280.2" x2="271.32" y2="282.59999999999997" stroke="#111" stroke-width="0.9" />
<line x1="279.146" y1="280.2" x2="279.146" y2="282.59999999999997" stroke="#111" stroke-width="0.9" />
<line x1="285.1975" y1="280.2" x2="285.1975" y2="282.59999999999997" stroke="#111" stroke-width="0.9" />
<line x1="299.075" y1="280.2" x2="299.075" y2="282.59999999999997" stroke="#111" stroke-width="0.9" />
<line x1="309.7675" y1="280.2" x2="309.7675" y2="282.59999999999997" stroke="#111" stroke-width="0.9" />
<line x1="272.8852" y1="280.2" x2="272.8852" y2="281.8" stroke="#111" stroke-width="0.7" />
<line x1="274.4504" y1="280.2" x2="274.4504" y2="281.8" stroke="#111" stroke-width="0.7" />
<line x1="276.0156" y1="280.2" x2="276.0156" y2="281.8" stroke="#111" stroke-width="0.7" />
<line x1="277.5808" y1="280.2" x2="277.5808" y2="281.8" stroke="#111" stroke-width="0.7" />
<line x1="280.35630000000003" y1="280.2" x2="280.35630000000003" y2="281.8" stroke="#111" stroke-width="0.7" />
<line x1="281.5666" y1="280.2" x2="281.5666" y2="281.8" stroke="#111" stroke-width="0.7" />
<line x1="282.7769" y1="280.2" x2="282.7769" y2="281.8" stroke="#111" stroke-width="0.7" />
<line x1="283.9872" y1="280.2" x2="283.9872" y2="281.8" stroke="#111" stroke-width="0.7" />
<line x1="289.3750437648269" y1="280.2" x2="289.3750437648269" y2="281.8" stroke="#111" stroke-width="0.7" />
<line x1="291.8187502123721" y1="280.2" x2="291.8187502123721" y2="281.8" stroke="#111" stroke-width="0.7" />
<line x1="293.5525875296538" y1="280.2" x2="293.5525875296538" y2="281.8" stroke="#111" stroke-width="0.7" />
<line x1="294.8974562351731" y1="280.2" x2="294.8974562351731" y2="281.8" stroke="#111" stroke-width="0.7" />
<line x1="295.996293977199" y1="280.2" x2="295.996293977199" y2="281.8" stroke="#111" stroke-width="0.7" />
<line x1="296.9253480502978" y1="280.2" x2="296.9253480502978" y2="281.8" stroke="#111" stroke-width="0.7" />
<line x1="297.73013129448066" y1="280.2" x2="297.73013129448066" y2="281.8" stroke="#111" stroke-width="0.7" />
<line x1="298.4400004247442" y1="280.2" x2="298.4400004247442" y2="281.8" stroke="#111" stroke-width="0.7" />
<line x1="302.2937632286371" y1="280.2" x2="302.2937632286371" y2="281.8" stroke="#111" stroke-width="0.7" />
<line x1="304.17661901609" y1="280.2" x2="304.17661901609" y2="281.8" stroke="#111" stroke-width="0.7" />
<line x1="305.51252645727425" y1="280.2" x2="305.51252645727425" y2="281.8" stroke="#111" stroke-width="0.7" />
<line x1="306.5487367713629" y1="280.2" x2="306.5487367713629" y2="281.8" stroke="#111" stroke-width="0.7" />
<line x1="307.3953822447271" y1="280.2" x2="307.3953822447271" y2="281.8" stroke="#111" stroke-width="0.7" />
<line x1="308.11121079285243" y1="280.2" x2="308.11121079285243" y2="281.8" stroke="#111" stroke-width="0.7" />
<line x1="308.73128968591135" y1="280.2" x2="308.73128968591135" y2="281.8" stroke="#111" stroke-width="0.7" />
<line x1="309.27823803217996" y1="280.2" x2="309.27823803217996" y2="281.8" stroke="#111" stroke-width="0.7" />
<line x1="312.9862632286371" y1="280.2" x2="312.9862632286371" y2="281.4" stroke="#111" stroke-width="0.5" />
<line x1="314.86911901609" y1="280.2" x2="314.86911901609" y2="281.4" stroke="#111" stroke-width="0.5" />
<text x="270.73" y="291.30" font-size="6.2" fill="#111" stroke="#111" stroke-width="0.16" text-anchor="middle">-10<tspan font-size="4" dy="-2.6">3</tspan></text>
<text x="279.146" y="291.3" font-size="6.2" fill="#111" stroke="#111" stroke-width="0.16" text-anchor="middle">0</text>
<text x="285.88" y="291.30" font-size="6.2" fill="#111" stroke="#111" stroke-width="0.16" text-anchor="middle">10<tspan font-size="4" dy="-2.6">3</tspan></text>
<text x="299.76" y="291.30" font-size="6.2" fill="#111" stroke="#111" stroke-width="0.16" text-anchor="middle">10<tspan font-size="4" dy="-2.6">4</tspan></text>
<text x="310.22" y="291.30" font-size="6.2" fill="#111" stroke="#111" stroke-width="0.16" text-anchor="middle">10<tspan font-size="4" dy="-2.6">5</tspan></text>
<polygon points="144.2,351.5 145.6,338.4 147,330.3 148.7,323.6 149.6,322.5 150.6,327 151.4,331 152.3,330 153.3,330.3 154.3,334.3 155.7,338.4 157,341 158.1,347.8 159,351.5" fill="#a5032f"/>
<rect x="134.4" y="306.3" width="45.19999999999999" height="45.19999999999999" fill="none" stroke="#111" stroke-width="1.0"/>
<line x1="132.0" y1="306.5" x2="134.4" y2="306.5" stroke="#111" stroke-width="0.9" />
<line x1="132.0" y1="321.5" x2="134.4" y2="321.5" stroke="#111" stroke-width="0.9" />
<line x1="132.0" y1="336.5" x2="134.4" y2="336.5" stroke="#111" stroke-width="0.9" />
<line x1="132.0" y1="351.5" x2="134.4" y2="351.5" stroke="#111" stroke-width="0.9" />
<line x1="132.9" y1="309.5" x2="134.4" y2="309.5" stroke="#111" stroke-width="0.7" />
<line x1="132.9" y1="312.5" x2="134.4" y2="312.5" stroke="#111" stroke-width="0.7" />
<line x1="132.9" y1="315.5" x2="134.4" y2="315.5" stroke="#111" stroke-width="0.7" />
<line x1="132.9" y1="318.5" x2="134.4" y2="318.5" stroke="#111" stroke-width="0.7" />
<line x1="132.9" y1="324.5" x2="134.4" y2="324.5" stroke="#111" stroke-width="0.7" />
<line x1="132.9" y1="327.5" x2="134.4" y2="327.5" stroke="#111" stroke-width="0.7" />
<line x1="132.9" y1="330.5" x2="134.4" y2="330.5" stroke="#111" stroke-width="0.7" />
<line x1="132.9" y1="333.5" x2="134.4" y2="333.5" stroke="#111" stroke-width="0.7" />
<line x1="132.9" y1="339.5" x2="134.4" y2="339.5" stroke="#111" stroke-width="0.7" />
<line x1="132.9" y1="342.5" x2="134.4" y2="342.5" stroke="#111" stroke-width="0.7" />
<line x1="132.9" y1="345.5" x2="134.4" y2="345.5" stroke="#111" stroke-width="0.7" />
<line x1="132.9" y1="348.5" x2="134.4" y2="348.5" stroke="#111" stroke-width="0.7" />
<text x="128.3" y="308.768" font-size="6.3" fill="#111" stroke="#111" stroke-width="0.16" text-anchor="end">15</text>
<text x="128.3" y="323.768" font-size="6.3" fill="#111" stroke="#111" stroke-width="0.16" text-anchor="end">10</text>
<text x="128.3" y="338.768" font-size="6.3" fill="#111" stroke="#111" stroke-width="0.16" text-anchor="end">5</text>
<text x="128.3" y="353.768" font-size="6.3" fill="#111" stroke="#111" stroke-width="0.16" text-anchor="end">0</text>
<line x1="150" y1="326.9" x2="175.2" y2="326.9" stroke="#111" stroke-width="0.8" />
<line x1="150" y1="325.7" x2="150" y2="328.09999999999997" stroke="#111" stroke-width="0.7" />
<line x1="175.2" y1="325.7" x2="175.2" y2="328.09999999999997" stroke="#111" stroke-width="0.7" />
<text x="164.2" y="324.9" font-size="5.4" fill="#111" stroke="#111" stroke-width="0.16" text-anchor="middle">58.5%</text>
<line x1="136.208" y1="351.5" x2="136.208" y2="353.9" stroke="#111" stroke-width="0.9" />
<line x1="143.9824" y1="351.5" x2="143.9824" y2="353.9" stroke="#111" stroke-width="0.9" />
<line x1="149.994" y1="351.5" x2="149.994" y2="353.9" stroke="#111" stroke-width="0.9" />
<line x1="163.78" y1="351.5" x2="163.78" y2="353.9" stroke="#111" stroke-width="0.9" />
<line x1="174.402" y1="351.5" x2="174.402" y2="353.9" stroke="#111" stroke-width="0.9" />
<line x1="137.76288" y1="351.5" x2="137.76288" y2="353.1" stroke="#111" stroke-width="0.7" />
<line x1="139.31776" y1="351.5" x2="139.31776" y2="353.1" stroke="#111" stroke-width="0.7" />
<line x1="140.87264000000002" y1="351.5" x2="140.87264000000002" y2="353.1" stroke="#111" stroke-width="0.7" />
<line x1="142.42752000000002" y1="351.5" x2="142.42752000000002" y2="353.1" stroke="#111" stroke-width="0.7" />
<line x1="145.18472" y1="351.5" x2="145.18472" y2="353.1" stroke="#111" stroke-width="0.7" />
<line x1="146.38704" y1="351.5" x2="146.38704" y2="353.1" stroke="#111" stroke-width="0.7" />
<line x1="147.58936" y1="351.5" x2="147.58936" y2="353.1" stroke="#111" stroke-width="0.7" />
<line x1="148.79168" y1="351.5" x2="148.79168" y2="353.1" stroke="#111" stroke-width="0.7" />
<line x1="154.14399952022364" y1="351.5" x2="154.14399952022364" y2="353.1" stroke="#111" stroke-width="0.7" />
<line x1="156.57159361756527" y1="351.5" x2="156.57159361756527" y2="353.1" stroke="#111" stroke-width="0.7" />
<line x1="158.2939990404473" y1="351.5" x2="158.2939990404473" y2="353.1" stroke="#111" stroke-width="0.7" />
<line x1="159.63000047977636" y1="351.5" x2="159.63000047977636" y2="353.1" stroke="#111" stroke-width="0.7" />
<line x1="160.72159313778891" y1="351.5" x2="160.72159313778891" y2="353.1" stroke="#111" stroke-width="0.7" />
<line x1="161.64452157963655" y1="351.5" x2="161.64452157963655" y2="353.1" stroke="#111" stroke-width="0.7" />
<line x1="162.44399856067093" y1="351.5" x2="162.44399856067093" y2="353.1" stroke="#111" stroke-width="0.7" />
<line x1="163.14918723513054" y1="351.5" x2="163.14918723513054" y2="353.1" stroke="#111" stroke-width="0.7" />
<line x1="166.9775406139428" y1="351.5" x2="166.9775406139428" y2="353.1" stroke="#111" stroke-width="0.7" />
<line x1="168.84798196763225" y1="351.5" x2="168.84798196763225" y2="353.1" stroke="#111" stroke-width="0.7" />
<line x1="170.1750812278856" y1="351.5" x2="170.1750812278856" y2="353.1" stroke="#111" stroke-width="0.7" />
<line x1="171.20445938605718" y1="351.5" x2="171.20445938605718" y2="353.1" stroke="#111" stroke-width="0.7" />
<line x1="172.04552258157506" y1="351.5" x2="172.04552258157506" y2="353.1" stroke="#111" stroke-width="0.7" />
<line x1="172.7566313810314" y1="351.5" x2="172.7566313810314" y2="353.1" stroke="#111" stroke-width="0.7" />
<line x1="173.37262184182842" y1="351.5" x2="173.37262184182842" y2="353.1" stroke="#111" stroke-width="0.7" />
<line x1="173.9159639352645" y1="351.5" x2="173.9159639352645" y2="353.1" stroke="#111" stroke-width="0.7" />
<line x1="177.5995406139428" y1="351.5" x2="177.5995406139428" y2="352.7" stroke="#111" stroke-width="0.5" />
<line x1="179.46998196763224" y1="351.5" x2="179.46998196763224" y2="352.7" stroke="#111" stroke-width="0.5" />
<text x="135.62" y="362.60" font-size="6.2" fill="#111" stroke="#111" stroke-width="0.16" text-anchor="middle">-10<tspan font-size="4" dy="-2.6">3</tspan></text>
<text x="143.9824" y="362.6" font-size="6.2" fill="#111" stroke="#111" stroke-width="0.16" text-anchor="middle">0</text>
<text x="150.67" y="362.60" font-size="6.2" fill="#111" stroke="#111" stroke-width="0.16" text-anchor="middle">10<tspan font-size="4" dy="-2.6">3</tspan></text>
<text x="164.46" y="362.60" font-size="6.2" fill="#111" stroke="#111" stroke-width="0.16" text-anchor="middle">10<tspan font-size="4" dy="-2.6">4</tspan></text>
<text x="174.85" y="362.60" font-size="6.2" fill="#111" stroke="#111" stroke-width="0.16" text-anchor="middle">10<tspan font-size="4" dy="-2.6">5</tspan></text>
<polygon points="222,351.4 225.4,349.1 227.8,345.8 229.4,341 230.5,331.6 231.4,322.9 232.4,327.6 233.2,333 234.1,341 235.1,347.8 236.1,351.2" fill="#a5032f"/>
<rect x="201.4" y="306.3" width="45.79999999999998" height="45.099999999999966" fill="none" stroke="#111" stroke-width="1.0"/>
<line x1="199.0" y1="308.1" x2="201.4" y2="308.1" stroke="#111" stroke-width="0.9" />
<line x1="199.0" y1="319" x2="201.4" y2="319" stroke="#111" stroke-width="0.9" />
<line x1="199.0" y1="329.9" x2="201.4" y2="329.9" stroke="#111" stroke-width="0.9" />
<line x1="199.0" y1="340.7" x2="201.4" y2="340.7" stroke="#111" stroke-width="0.9" />
<line x1="199.0" y1="351.4" x2="201.4" y2="351.4" stroke="#111" stroke-width="0.9" />
<line x1="199.9" y1="310.28000000000003" x2="201.4" y2="310.28000000000003" stroke="#111" stroke-width="0.7" />
<line x1="199.9" y1="312.46000000000004" x2="201.4" y2="312.46000000000004" stroke="#111" stroke-width="0.7" />
<line x1="199.9" y1="314.64" x2="201.4" y2="314.64" stroke="#111" stroke-width="0.7" />
<line x1="199.9" y1="316.82" x2="201.4" y2="316.82" stroke="#111" stroke-width="0.7" />
<line x1="199.9" y1="321.18" x2="201.4" y2="321.18" stroke="#111" stroke-width="0.7" />
<line x1="199.9" y1="323.36" x2="201.4" y2="323.36" stroke="#111" stroke-width="0.7" />
<line x1="199.9" y1="325.53999999999996" x2="201.4" y2="325.53999999999996" stroke="#111" stroke-width="0.7" />
<line x1="199.9" y1="327.71999999999997" x2="201.4" y2="327.71999999999997" stroke="#111" stroke-width="0.7" />
<line x1="199.9" y1="332.06" x2="201.4" y2="332.06" stroke="#111" stroke-width="0.7" />
<line x1="199.9" y1="334.21999999999997" x2="201.4" y2="334.21999999999997" stroke="#111" stroke-width="0.7" />
<line x1="199.9" y1="336.38" x2="201.4" y2="336.38" stroke="#111" stroke-width="0.7" />
<line x1="199.9" y1="338.53999999999996" x2="201.4" y2="338.53999999999996" stroke="#111" stroke-width="0.7" />
<line x1="199.9" y1="342.84" x2="201.4" y2="342.84" stroke="#111" stroke-width="0.7" />
<line x1="199.9" y1="344.97999999999996" x2="201.4" y2="344.97999999999996" stroke="#111" stroke-width="0.7" />
<line x1="199.9" y1="347.12" x2="201.4" y2="347.12" stroke="#111" stroke-width="0.7" />
<line x1="199.9" y1="349.26" x2="201.4" y2="349.26" stroke="#111" stroke-width="0.7" />
<text x="195.3" y="310.368" font-size="6.3" fill="#111" stroke="#111" stroke-width="0.16" text-anchor="end">20</text>
<text x="195.3" y="321.268" font-size="6.3" fill="#111" stroke="#111" stroke-width="0.16" text-anchor="end">15</text>
<text x="195.3" y="332.16799999999995" font-size="6.3" fill="#111" stroke="#111" stroke-width="0.16" text-anchor="end">10</text>
<text x="195.3" y="342.96799999999996" font-size="6.3" fill="#111" stroke="#111" stroke-width="0.16" text-anchor="end">5</text>
<text x="195.3" y="353.66799999999995" font-size="6.3" fill="#111" stroke="#111" stroke-width="0.16" text-anchor="end">0</text>
<line x1="219.3" y1="321.3" x2="244.9" y2="321.3" stroke="#111" stroke-width="0.8" />
<line x1="219.3" y1="320.1" x2="219.3" y2="322.5" stroke="#111" stroke-width="0.7" />
<line x1="244.9" y1="320.1" x2="244.9" y2="322.5" stroke="#111" stroke-width="0.7" />
<text x="233.1" y="319.3" font-size="5.4" fill="#111" stroke="#111" stroke-width="0.16" text-anchor="middle">100%</text>
<line x1="203.232" y1="351.4" x2="203.232" y2="353.79999999999995" stroke="#111" stroke-width="0.9" />
<line x1="211.1096" y1="351.4" x2="211.1096" y2="353.79999999999995" stroke="#111" stroke-width="0.9" />
<line x1="217.201" y1="351.4" x2="217.201" y2="353.79999999999995" stroke="#111" stroke-width="0.9" />
<line x1="231.17" y1="351.4" x2="231.17" y2="353.79999999999995" stroke="#111" stroke-width="0.9" />
<line x1="241.933" y1="351.4" x2="241.933" y2="353.79999999999995" stroke="#111" stroke-width="0.9" />
<line x1="204.80752" y1="351.4" x2="204.80752" y2="353.0" stroke="#111" stroke-width="0.7" />
<line x1="206.38304" y1="351.4" x2="206.38304" y2="353.0" stroke="#111" stroke-width="0.7" />
<line x1="207.95856" y1="351.4" x2="207.95856" y2="353.0" stroke="#111" stroke-width="0.7" />
<line x1="209.53408" y1="351.4" x2="209.53408" y2="353.0" stroke="#111" stroke-width="0.7" />
<line x1="212.32788" y1="351.4" x2="212.32788" y2="353.0" stroke="#111" stroke-width="0.7" />
<line x1="213.54616" y1="351.4" x2="213.54616" y2="353.0" stroke="#111" stroke-width="0.7" />
<line x1="214.76444" y1="351.4" x2="214.76444" y2="353.0" stroke="#111" stroke-width="0.7" />
<line x1="215.98272" y1="351.4" x2="215.98272" y2="353.0" stroke="#111" stroke-width="0.7" />
<line x1="221.40608800943014" y1="351.4" x2="221.40608800943014" y2="353.0" stroke="#111" stroke-width="0.7" />
<line x1="223.86590680717896" y1="351.4" x2="223.86590680717896" y2="353.0" stroke="#111" stroke-width="0.7" />
<line x1="225.6111760188603" y1="351.4" x2="225.6111760188603" y2="353.0" stroke="#111" stroke-width="0.7" />
<line x1="226.96491199056985" y1="351.4" x2="226.96491199056985" y2="353.0" stroke="#111" stroke-width="0.7" />
<line x1="228.0709948166091" y1="351.4" x2="228.0709948166091" y2="353.0" stroke="#111" stroke-width="0.7" />
<line x1="229.00617452095915" y1="351.4" x2="229.00617452095915" y2="353.0" stroke="#111" stroke-width="0.7" />
<line x1="229.81626402829045" y1="351.4" x2="229.81626402829045" y2="353.0" stroke="#111" stroke-width="0.7" />
<line x1="230.53081361435792" y1="351.4" x2="230.53081361435792" y2="353.0" stroke="#111" stroke-width="0.7" />
<line x1="234.4099858433314" y1="351.4" x2="234.4099858433314" y2="353.0" stroke="#111" stroke-width="0.7" />
<line x1="236.3052560645477" y1="351.4" x2="236.3052560645477" y2="353.0" stroke="#111" stroke-width="0.7" />
<line x1="237.64997168666284" y1="351.4" x2="237.64997168666284" y2="353.0" stroke="#111" stroke-width="0.7" />
<line x1="238.69301415666857" y1="351.4" x2="238.69301415666857" y2="353.0" stroke="#111" stroke-width="0.7" />
<line x1="239.54524190787916" y1="351.4" x2="239.54524190787916" y2="353.0" stroke="#111" stroke-width="0.7" />
<line x1="240.26579020467344" y1="351.4" x2="240.26579020467344" y2="353.0" stroke="#111" stroke-width="0.7" />
<line x1="240.8899575299943" y1="351.4" x2="240.8899575299943" y2="353.0" stroke="#111" stroke-width="0.7" />
<line x1="241.44051212909545" y1="351.4" x2="241.44051212909545" y2="353.0" stroke="#111" stroke-width="0.7" />
<line x1="245.17298584333142" y1="351.4" x2="245.17298584333142" y2="352.59999999999997" stroke="#111" stroke-width="0.5" />
<line x1="247.0682560645477" y1="351.4" x2="247.0682560645477" y2="352.59999999999997" stroke="#111" stroke-width="0.5" />
<text x="202.64" y="362.50" font-size="6.2" fill="#111" stroke="#111" stroke-width="0.16" text-anchor="middle">-10<tspan font-size="4" dy="-2.6">3</tspan></text>
<text x="211.1096" y="362.5" font-size="6.2" fill="#111" stroke="#111" stroke-width="0.16" text-anchor="middle">0</text>
<text x="217.89" y="362.50" font-size="6.2" fill="#111" stroke="#111" stroke-width="0.16" text-anchor="middle">10<tspan font-size="4" dy="-2.6">3</tspan></text>
<text x="231.86" y="362.50" font-size="6.2" fill="#111" stroke="#111" stroke-width="0.16" text-anchor="middle">10<tspan font-size="4" dy="-2.6">4</tspan></text>
<text x="242.39" y="362.50" font-size="6.2" fill="#111" stroke="#111" stroke-width="0.16" text-anchor="middle">10<tspan font-size="4" dy="-2.6">5</tspan></text>
<polygon points="278.9,351.4 280.3,342.4 281.3,331 282.3,341 283.6,347.8 286.3,349.8 288.6,351.4" fill="#a5032f"/>
<rect x="269.5" y="306.3" width="45.10000000000002" height="45.099999999999966" fill="none" stroke="#111" stroke-width="1.0"/>
<line x1="267.1" y1="306.3" x2="269.5" y2="306.3" stroke="#111" stroke-width="0.9" />
<line x1="267.1" y1="315.3" x2="269.5" y2="315.3" stroke="#111" stroke-width="0.9" />
<line x1="267.1" y1="324.3" x2="269.5" y2="324.3" stroke="#111" stroke-width="0.9" />
<line x1="267.1" y1="333.3" x2="269.5" y2="333.3" stroke="#111" stroke-width="0.9" />
<line x1="267.1" y1="342.4" x2="269.5" y2="342.4" stroke="#111" stroke-width="0.9" />
<line x1="267.1" y1="351.4" x2="269.5" y2="351.4" stroke="#111" stroke-width="0.9" />
<line x1="268.0" y1="308.1" x2="269.5" y2="308.1" stroke="#111" stroke-width="0.7" />
<line x1="268.0" y1="309.90000000000003" x2="269.5" y2="309.90000000000003" stroke="#111" stroke-width="0.7" />
<line x1="268.0" y1="311.7" x2="269.5" y2="311.7" stroke="#111" stroke-width="0.7" />
<line x1="268.0" y1="313.5" x2="269.5" y2="313.5" stroke="#111" stroke-width="0.7" />
<line x1="268.0" y1="317.1" x2="269.5" y2="317.1" stroke="#111" stroke-width="0.7" />
<line x1="268.0" y1="318.90000000000003" x2="269.5" y2="318.90000000000003" stroke="#111" stroke-width="0.7" />
<line x1="268.0" y1="320.7" x2="269.5" y2="320.7" stroke="#111" stroke-width="0.7" />
<line x1="268.0" y1="322.5" x2="269.5" y2="322.5" stroke="#111" stroke-width="0.7" />
<line x1="268.0" y1="326.1" x2="269.5" y2="326.1" stroke="#111" stroke-width="0.7" />
<line x1="268.0" y1="327.90000000000003" x2="269.5" y2="327.90000000000003" stroke="#111" stroke-width="0.7" />
<line x1="268.0" y1="329.7" x2="269.5" y2="329.7" stroke="#111" stroke-width="0.7" />
<line x1="268.0" y1="331.5" x2="269.5" y2="331.5" stroke="#111" stroke-width="0.7" />
<line x1="268.0" y1="335.12" x2="269.5" y2="335.12" stroke="#111" stroke-width="0.7" />
<line x1="268.0" y1="336.94" x2="269.5" y2="336.94" stroke="#111" stroke-width="0.7" />
<line x1="268.0" y1="338.76" x2="269.5" y2="338.76" stroke="#111" stroke-width="0.7" />
<line x1="268.0" y1="340.58" x2="269.5" y2="340.58" stroke="#111" stroke-width="0.7" />
<line x1="268.0" y1="344.2" x2="269.5" y2="344.2" stroke="#111" stroke-width="0.7" />
<line x1="268.0" y1="346.0" x2="269.5" y2="346.0" stroke="#111" stroke-width="0.7" />
<line x1="268.0" y1="347.79999999999995" x2="269.5" y2="347.79999999999995" stroke="#111" stroke-width="0.7" />
<line x1="268.0" y1="349.59999999999997" x2="269.5" y2="349.59999999999997" stroke="#111" stroke-width="0.7" />
<text x="264.2" y="308.568" font-size="6.3" fill="#111" stroke="#111" stroke-width="0.16" text-anchor="end">10</text>
<text x="264.2" y="317.568" font-size="6.3" fill="#111" stroke="#111" stroke-width="0.16" text-anchor="end">8</text>
<text x="264.2" y="326.568" font-size="6.3" fill="#111" stroke="#111" stroke-width="0.16" text-anchor="end">6</text>
<text x="264.2" y="335.568" font-size="6.3" fill="#111" stroke="#111" stroke-width="0.16" text-anchor="end">4</text>
<text x="264.2" y="344.66799999999995" font-size="6.3" fill="#111" stroke="#111" stroke-width="0.16" text-anchor="end">2</text>
<text x="264.2" y="353.66799999999995" font-size="6.3" fill="#111" stroke="#111" stroke-width="0.16" text-anchor="end">0</text>
<line x1="286.3" y1="326.5" x2="311" y2="326.5" stroke="#111" stroke-width="0.8" />
<line x1="286.3" y1="325.3" x2="286.3" y2="327.7" stroke="#111" stroke-width="0.7" />
<line x1="311" y1="325.3" x2="311" y2="327.7" stroke="#111" stroke-width="0.7" />
<text x="299.7" y="324.5" font-size="5.4" fill="#111" stroke="#111" stroke-width="0.16" text-anchor="middle">6.4%</text>
<line x1="271.304" y1="351.4" x2="271.304" y2="353.79999999999995" stroke="#111" stroke-width="0.9" />
<line x1="279.0612" y1="351.4" x2="279.0612" y2="353.79999999999995" stroke="#111" stroke-width="0.9" />
<line x1="285.0595" y1="351.4" x2="285.0595" y2="353.79999999999995" stroke="#111" stroke-width="0.9" />
<line x1="298.815" y1="351.4" x2="298.815" y2="353.79999999999995" stroke="#111" stroke-width="0.9" />
<line x1="309.4135" y1="351.4" x2="309.4135" y2="353.79999999999995" stroke="#111" stroke-width="0.9" />
<line x1="272.85544" y1="351.4" x2="272.85544" y2="353.0" stroke="#111" stroke-width="0.7" />
<line x1="274.40688" y1="351.4" x2="274.40688" y2="353.0" stroke="#111" stroke-width="0.7" />
<line x1="275.95831999999996" y1="351.4" x2="275.95831999999996" y2="353.0" stroke="#111" stroke-width="0.7" />
<line x1="277.50975999999997" y1="351.4" x2="277.50975999999997" y2="353.0" stroke="#111" stroke-width="0.7" />
<line x1="280.26086" y1="351.4" x2="280.26086" y2="353.0" stroke="#111" stroke-width="0.7" />
<line x1="281.46052" y1="351.4" x2="281.46052" y2="353.0" stroke="#111" stroke-width="0.7" />
<line x1="282.66018" y1="351.4" x2="282.66018" y2="353.0" stroke="#111" stroke-width="0.7" />
<line x1="283.85984" y1="351.4" x2="283.85984" y2="353.0" stroke="#111" stroke-width="0.7" />
<line x1="289.2003181053559" y1="351.4" x2="289.2003181053559" y2="353.0" stroke="#111" stroke-width="0.7" />
<line x1="291.62254141929634" y1="351.4" x2="291.62254141929634" y2="353.0" stroke="#111" stroke-width="0.7" />
<line x1="293.3411362107118" y1="351.4" x2="293.3411362107118" y2="353.0" stroke="#111" stroke-width="0.7" />
<line x1="294.6741818946441" y1="351.4" x2="294.6741818946441" y2="353.0" stroke="#111" stroke-width="0.7" />
<line x1="295.76335952465223" y1="351.4" x2="295.76335952465223" y2="353.0" stroke="#111" stroke-width="0.7" />
<line x1="296.6842460894161" y1="351.4" x2="296.6842460894161" y2="353.0" stroke="#111" stroke-width="0.7" />
<line x1="297.4819543160677" y1="351.4" x2="297.4819543160677" y2="353.0" stroke="#111" stroke-width="0.7" />
<line x1="298.1855828385926" y1="351.4" x2="298.1855828385926" y2="353.0" stroke="#111" stroke-width="0.7" />
<line x1="302.0054664090447" y1="351.4" x2="302.0054664090447" y2="353.0" stroke="#111" stroke-width="0.7" />
<line x1="303.87176961814635" y1="351.4" x2="303.87176961814635" y2="353.0" stroke="#111" stroke-width="0.7" />
<line x1="305.19593281808943" y1="351.4" x2="305.19593281808943" y2="353.0" stroke="#111" stroke-width="0.7" />
<line x1="306.2230335909553" y1="351.4" x2="306.2230335909553" y2="353.0" stroke="#111" stroke-width="0.7" />
<line x1="307.06223602719103" y1="351.4" x2="307.06223602719103" y2="353.0" stroke="#111" stroke-width="0.7" />
<line x1="307.7717715770911" y1="351.4" x2="307.7717715770911" y2="353.0" stroke="#111" stroke-width="0.7" />
<line x1="308.3863992271341" y1="351.4" x2="308.3863992271341" y2="353.0" stroke="#111" stroke-width="0.7" />
<line x1="308.9285392362927" y1="351.4" x2="308.9285392362927" y2="353.0" stroke="#111" stroke-width="0.7" />
<line x1="312.6039664090447" y1="351.4" x2="312.6039664090447" y2="352.59999999999997" stroke="#111" stroke-width="0.5" />
<line x1="314.47026961814635" y1="351.4" x2="314.47026961814635" y2="352.59999999999997" stroke="#111" stroke-width="0.5" />
<text x="270.72" y="362.50" font-size="6.2" fill="#111" stroke="#111" stroke-width="0.16" text-anchor="middle">-10<tspan font-size="4" dy="-2.6">3</tspan></text>
<text x="279.0612" y="362.5" font-size="6.2" fill="#111" stroke="#111" stroke-width="0.16" text-anchor="middle">0</text>
<text x="285.74" y="362.50" font-size="6.2" fill="#111" stroke="#111" stroke-width="0.16" text-anchor="middle">10<tspan font-size="4" dy="-2.6">3</tspan></text>
<text x="299.49" y="362.50" font-size="6.2" fill="#111" stroke="#111" stroke-width="0.16" text-anchor="middle">10<tspan font-size="4" dy="-2.6">4</tspan></text>
<text x="309.86" y="362.50" font-size="6.2" fill="#111" stroke="#111" stroke-width="0.16" text-anchor="middle">10<tspan font-size="4" dy="-2.6">5</tspan></text>
<text x="156.2" y="375.6" font-size="8.6" fill="#111" stroke="#111" stroke-width="0" text-anchor="middle" textLength="35" lengthAdjust="spacingAndGlyphs">α5 subunit</text>
<text x="224.3" y="375.6" font-size="8.6" fill="#111" stroke="#111" stroke-width="0" text-anchor="middle" textLength="34" lengthAdjust="spacingAndGlyphs">β1 subunit</text>
<text x="291.9" y="375.6" font-size="8.6" fill="#111" stroke="#111" stroke-width="0" text-anchor="middle" textLength="16.5" lengthAdjust="spacingAndGlyphs">9EG7</text>
<text x="330.5" y="240.9" font-size="11.5" fill="#000" stroke="#000" stroke-width="0" font-weight="bold">H</text>
<path d="M345.0,251.0 C347.3,251.8 348.3,254.3 349.4,256.3 C350.4,258.2 351.8,259.2 353.8,259.3" fill="none" stroke="#111" stroke-width="0.6" />
<path d="M352.6,259.6 C352.2,257 355,255.6 359,255.6 C362,255.5 364,255.6 365.2,256.3 L365.3,254.2 L366.8,255.6 C368.5,257 370.2,258.5 371,259.4 C369.5,260.3 367.5,260.6 366,260.6 L365.5,261.8 L364.6,261.2 C362,261.6 358,261.6 356,261.4 L355,262 L354.2,261.2 C353.3,260.8 352.8,260.3 352.6,259.6 Z" fill="#111" stroke="none" stroke-width="1" />
<circle cx="368.6" cy="258.2" r="0.35" fill="#fff"/>
<text x="409.4" y="238.4" font-size="7" fill="#111" stroke="#111" stroke-width="0" text-anchor="middle" textLength="89.8" lengthAdjust="spacingAndGlyphs">Isotype control antibody group</text>
<text x="411.1" y="245.7" font-size="7" fill="#111" stroke="#111" stroke-width="0" text-anchor="middle" textLength="13.8" lengthAdjust="spacingAndGlyphs">days</text>
<text x="342.7" y="274.2" font-size="6.8" fill="#111" stroke="#111" stroke-width="0.1"><tspan textLength="15.3" lengthAdjust="spacingAndGlyphs">JAK2</tspan><tspan font-size="4.5" dy="-2.9" textLength="17.5" lengthAdjust="spacingAndGlyphs">V617F+</tspan></text>
<line x1="384.2" y1="258" x2="437.9" y2="258" stroke="#111" stroke-width="1.3" />
<line x1="384.2" y1="257.4" x2="384.2" y2="260.8" stroke="#111" stroke-width="1.0" />
<line x1="394.94" y1="257.4" x2="394.94" y2="260.8" stroke="#111" stroke-width="1.0" />
<line x1="405.68" y1="257.4" x2="405.68" y2="260.8" stroke="#111" stroke-width="1.0" />
<line x1="416.41999999999996" y1="257.4" x2="416.41999999999996" y2="260.8" stroke="#111" stroke-width="1.0" />
<line x1="427.15999999999997" y1="257.4" x2="427.15999999999997" y2="260.8" stroke="#111" stroke-width="1.0" />
<line x1="437.9" y1="257.4" x2="437.9" y2="260.8" stroke="#111" stroke-width="1.0" />
<text x="384.2" y="254.20000000000002" font-size="7" fill="#111" stroke="#111" stroke-width="0" text-anchor="middle">0</text>
<text x="405.68" y="254.20000000000002" font-size="7" fill="#111" stroke="#111" stroke-width="0" text-anchor="middle">2</text>
<text x="427.15999999999997" y="254.20000000000002" font-size="7" fill="#111" stroke="#111" stroke-width="0" text-anchor="middle">4</text>
<text x="437.9" y="254.20000000000002" font-size="7" fill="#111" stroke="#111" stroke-width="0" text-anchor="middle">5</text>
<line x1="384.2" y1="263.09999999999997" x2="384.2" y2="267.1" stroke="#111" stroke-width="0.9" />
<path d="M384.2,261.5 L383.0,263.9 L385.4,263.9 Z" fill="#111" stroke="none" stroke-width="1" />
<line x1="405.68" y1="263.09999999999997" x2="405.68" y2="267.1" stroke="#111" stroke-width="0.9" />
<path d="M405.68,261.5 L404.48,263.9 L406.88,263.9 Z" fill="#111" stroke="none" stroke-width="1" />
<line x1="427.15999999999997" y1="263.09999999999997" x2="427.15999999999997" y2="267.1" stroke="#111" stroke-width="0.9" />
<path d="M427.15999999999997,261.5 L425.96,263.9 L428.35999999999996,263.9 Z" fill="#111" stroke="none" stroke-width="1" />
<line x1="437.9" y1="263.09999999999997" x2="437.9" y2="267.1" stroke="#c0143c" stroke-width="0.9" />
<path d="M437.9,261.5 L436.7,263.9 L439.09999999999997,263.9 Z" fill="#c0143c" stroke="none" stroke-width="1" />
<text x="405.7" y="276.3" font-size="7" fill="#111" stroke="#111" stroke-width="0" text-anchor="middle" textLength="31.7" lengthAdjust="spacingAndGlyphs">Rat IgG2aκ</text>
<text transform="translate(440.2,272.2) rotate(-58)" font-size="7" fill="#111" stroke="#111" stroke-width="0" text-anchor="end" textLength="25.5" lengthAdjust="spacingAndGlyphs">Analysis</text>
<path d="M345.0,322.0 C347.3,322.8 348.3,325.3 349.4,327.3 C350.4,329.2 351.8,330.2 353.8,330.3" fill="none" stroke="#111" stroke-width="0.6" />
<path d="M352.6,330.6 C352.2,328 355,326.6 359,326.6 C362,326.5 364,326.6 365.2,327.3 L365.3,325.2 L366.8,326.6 C368.5,328 370.2,329.5 371,330.4 C369.5,331.3 367.5,331.6 366,331.6 L365.5,332.8 L364.6,332.2 C362,332.6 358,332.6 356,332.4 L355,333 L354.2,332.2 C353.3,331.8 352.8,331.3 352.6,330.6 Z" fill="#111" stroke="none" stroke-width="1" />
<circle cx="368.6" cy="329.2" r="0.35" fill="#fff"/>
<text x="412.2" y="309.2" font-size="7" fill="#111" stroke="#111" stroke-width="0" text-anchor="middle" textLength="90.3" lengthAdjust="spacingAndGlyphs">Anti-α5 subunit antibody group</text>
<text x="413.3" y="317" font-size="7" fill="#111" stroke="#111" stroke-width="0" text-anchor="middle" textLength="13.5" lengthAdjust="spacingAndGlyphs">days</text>
<text x="342.7" y="344.2" font-size="6.8" fill="#111" stroke="#111" stroke-width="0.1"><tspan textLength="15.3" lengthAdjust="spacingAndGlyphs">JAK2</tspan><tspan font-size="4.5" dy="-2.9" textLength="17.5" lengthAdjust="spacingAndGlyphs">V617F+</tspan></text>
<line x1="386" y1="329.3" x2="440" y2="329.3" stroke="#111" stroke-width="1.3" />
<line x1="386.0" y1="328.7" x2="386.0" y2="332.1" stroke="#111" stroke-width="1.0" />
<line x1="396.8" y1="328.7" x2="396.8" y2="332.1" stroke="#111" stroke-width="1.0" />
<line x1="407.6" y1="328.7" x2="407.6" y2="332.1" stroke="#111" stroke-width="1.0" />
<line x1="418.4" y1="328.7" x2="418.4" y2="332.1" stroke="#111" stroke-width="1.0" />
<line x1="429.2" y1="328.7" x2="429.2" y2="332.1" stroke="#111" stroke-width="1.0" />
<line x1="440.0" y1="328.7" x2="440.0" y2="332.1" stroke="#111" stroke-width="1.0" />
<text x="386.0" y="326.5" font-size="7" fill="#111" stroke="#111" stroke-width="0" text-anchor="middle">0</text>
<text x="407.6" y="326.5" font-size="7" fill="#111" stroke="#111" stroke-width="0" text-anchor="middle">2</text>
<text x="429.2" y="326.5" font-size="7" fill="#111" stroke="#111" stroke-width="0" text-anchor="middle">4</text>
<text x="440.0" y="326.5" font-size="7" fill="#111" stroke="#111" stroke-width="0" text-anchor="middle">5</text>
<line x1="386.0" y1="334.8" x2="386.0" y2="339.70000000000005" stroke="#111" stroke-width="0.9" />
<path d="M386.0,333.20000000000005 L384.8,335.6 L387.2,335.6 Z" fill="#111" stroke="none" stroke-width="1" />
<line x1="407.6" y1="334.8" x2="407.6" y2="339.70000000000005" stroke="#111" stroke-width="0.9" />
<path d="M407.6,333.20000000000005 L406.40000000000003,335.6 L408.8,335.6 Z" fill="#111" stroke="none" stroke-width="1" />
<line x1="429.2" y1="334.8" x2="429.2" y2="339.70000000000005" stroke="#111" stroke-width="0.9" />
<path d="M429.2,333.20000000000005 L428.0,335.6 L430.4,335.6 Z" fill="#111" stroke="none" stroke-width="1" />
<line x1="440.0" y1="334.8" x2="440.0" y2="339.70000000000005" stroke="#c0143c" stroke-width="0.9" />
<path d="M440.0,333.20000000000005 L438.8,335.6 L441.2,335.6 Z" fill="#c0143c" stroke="none" stroke-width="1" />
<text x="407.3" y="348.2" font-size="7" fill="#111" stroke="#111" stroke-width="0" text-anchor="middle" textLength="23.4" lengthAdjust="spacingAndGlyphs">5H10-27</text>
<text transform="translate(441.6,343.3) rotate(-58)" font-size="7" fill="#111" stroke="#111" stroke-width="0" text-anchor="end" textLength="25.5" lengthAdjust="spacingAndGlyphs">Analysis</text>
<text x="7.3" y="398.8" font-size="11.5" fill="#000" stroke="#000" stroke-width="0" font-weight="bold">I</text>
<line x1="41" y1="402.4" x2="214.3" y2="402.4" stroke="#111" stroke-width="0.9" />
<line x1="41" y1="425.2" x2="214.3" y2="425.2" stroke="#111" stroke-width="0.9" />
<text x="127.8" y="397.8" font-size="6.4" fill="#111" stroke="#111" stroke-width="0.16" text-anchor="middle" textLength="24.3" lengthAdjust="spacingAndGlyphs">5H10-27</text>
<text x="128.2" y="420.5" font-size="6.4" fill="#111" stroke="#111" stroke-width="0.16" text-anchor="middle" textLength="54.5" lengthAdjust="spacingAndGlyphs">anti-Rat IgG2aκ PE</text>
<text x="58.8" y="410.5" font-size="4.8" fill="#111" stroke="#111" stroke-width="0.16" text-anchor="middle">-</text>
<text x="128" y="410.5" font-size="4.8" fill="#111" stroke="#111" stroke-width="0.16" text-anchor="middle">-</text>
<text x="201.3" y="410.8" font-size="4.8" fill="#111" stroke="#111" stroke-width="0.16" text-anchor="middle">+</text>
<text x="58.8" y="433.5" font-size="4.8" fill="#111" stroke="#111" stroke-width="0.16" text-anchor="middle">-</text>
<text x="128" y="433.6" font-size="4.8" fill="#111" stroke="#111" stroke-width="0.16" text-anchor="middle">+</text>
<text x="201.3" y="433.6" font-size="4.8" fill="#111" stroke="#111" stroke-width="0.16" text-anchor="middle">+</text>
<polygon points="45.2,485.1 46.1,460 46.5,443.5 47,460 48.2,485.1" fill="#a5032f"/>
<rect x="35.4" y="438.5" width="46.1" height="46.60000000000002" fill="none" stroke="#111" stroke-width="1.0"/>
<line x1="33.0" y1="443.8" x2="35.4" y2="443.8" stroke="#111" stroke-width="0.9" />
<line x1="33.0" y1="457.6" x2="35.4" y2="457.6" stroke="#111" stroke-width="0.9" />
<line x1="33.0" y1="471.3" x2="35.4" y2="471.3" stroke="#111" stroke-width="0.9" />
<line x1="33.0" y1="485.1" x2="35.4" y2="485.1" stroke="#111" stroke-width="0.9" />
<line x1="33.9" y1="446.56" x2="35.4" y2="446.56" stroke="#111" stroke-width="0.7" />
<line x1="33.9" y1="449.32" x2="35.4" y2="449.32" stroke="#111" stroke-width="0.7" />
<line x1="33.9" y1="452.08000000000004" x2="35.4" y2="452.08000000000004" stroke="#111" stroke-width="0.7" />
<line x1="33.9" y1="454.84000000000003" x2="35.4" y2="454.84000000000003" stroke="#111" stroke-width="0.7" />
<line x1="33.9" y1="460.34000000000003" x2="35.4" y2="460.34000000000003" stroke="#111" stroke-width="0.7" />
<line x1="33.9" y1="463.08000000000004" x2="35.4" y2="463.08000000000004" stroke="#111" stroke-width="0.7" />
<line x1="33.9" y1="465.82" x2="35.4" y2="465.82" stroke="#111" stroke-width="0.7" />
<line x1="33.9" y1="468.56" x2="35.4" y2="468.56" stroke="#111" stroke-width="0.7" />
<line x1="33.9" y1="474.06" x2="35.4" y2="474.06" stroke="#111" stroke-width="0.7" />
<line x1="33.9" y1="476.82" x2="35.4" y2="476.82" stroke="#111" stroke-width="0.7" />
<line x1="33.9" y1="479.58000000000004" x2="35.4" y2="479.58000000000004" stroke="#111" stroke-width="0.7" />
<line x1="33.9" y1="482.34000000000003" x2="35.4" y2="482.34000000000003" stroke="#111" stroke-width="0.7" />
<text x="30.3" y="446.068" font-size="6.3" fill="#111" stroke="#111" stroke-width="0.16" text-anchor="end">600</text>
<text x="30.3" y="459.868" font-size="6.3" fill="#111" stroke="#111" stroke-width="0.16" text-anchor="end">400</text>
<text x="30.3" y="473.568" font-size="6.3" fill="#111" stroke="#111" stroke-width="0.16" text-anchor="end">200</text>
<text x="30.3" y="487.368" font-size="6.3" fill="#111" stroke="#111" stroke-width="0.16" text-anchor="end">0</text>
<line x1="53.1" y1="447.7" x2="79.2" y2="447.7" stroke="#111" stroke-width="0.8" />
<line x1="53.1" y1="446.5" x2="53.1" y2="448.9" stroke="#111" stroke-width="0.7" />
<line x1="79.2" y1="446.5" x2="79.2" y2="448.9" stroke="#111" stroke-width="0.7" />
<text x="66.2" y="445.7" font-size="5.4" fill="#111" stroke="#111" stroke-width="0.16" text-anchor="middle">0.1%</text>
<line x1="37.705" y1="485.1" x2="37.705" y2="487.5" stroke="#111" stroke-width="0.9" />
<line x1="45.6803" y1="485.1" x2="45.6803" y2="487.5" stroke="#111" stroke-width="0.9" />
<line x1="52.456999999999994" y1="485.1" x2="52.456999999999994" y2="487.5" stroke="#111" stroke-width="0.9" />
<line x1="66.1948" y1="485.1" x2="66.1948" y2="487.5" stroke="#111" stroke-width="0.9" />
<line x1="77.12049999999999" y1="485.1" x2="77.12049999999999" y2="487.5" stroke="#111" stroke-width="0.9" />
<line x1="39.30006" y1="485.1" x2="39.30006" y2="486.70000000000005" stroke="#111" stroke-width="0.7" />
<line x1="40.89512" y1="485.1" x2="40.89512" y2="486.70000000000005" stroke="#111" stroke-width="0.7" />
<line x1="42.49018" y1="485.1" x2="42.49018" y2="486.70000000000005" stroke="#111" stroke-width="0.7" />
<line x1="44.08524" y1="485.1" x2="44.08524" y2="486.70000000000005" stroke="#111" stroke-width="0.7" />
<line x1="47.03564" y1="485.1" x2="47.03564" y2="486.70000000000005" stroke="#111" stroke-width="0.7" />
<line x1="48.39098" y1="485.1" x2="48.39098" y2="486.70000000000005" stroke="#111" stroke-width="0.7" />
<line x1="49.74632" y1="485.1" x2="49.74632" y2="486.70000000000005" stroke="#111" stroke-width="0.7" />
<line x1="51.101659999999995" y1="485.1" x2="51.101659999999995" y2="486.70000000000005" stroke="#111" stroke-width="0.7" />
<line x1="56.59248987443264" y1="485.1" x2="56.59248987443264" y2="486.70000000000005" stroke="#111" stroke-width="0.7" />
<line x1="59.01159637308778" y1="485.1" x2="59.01159637308778" y2="486.70000000000005" stroke="#111" stroke-width="0.7" />
<line x1="60.72797974886528" y1="485.1" x2="60.72797974886528" y2="486.70000000000005" stroke="#111" stroke-width="0.7" />
<line x1="62.05931012556736" y1="485.1" x2="62.05931012556736" y2="486.70000000000005" stroke="#111" stroke-width="0.7" />
<line x1="63.14708624752042" y1="485.1" x2="63.14708624752042" y2="486.70000000000005" stroke="#111" stroke-width="0.7" />
<line x1="64.06678785410786" y1="485.1" x2="64.06678785410786" y2="486.70000000000005" stroke="#111" stroke-width="0.7" />
<line x1="64.86346962329792" y1="485.1" x2="64.86346962329792" y2="486.70000000000005" stroke="#111" stroke-width="0.7" />
<line x1="65.56619274617556" y1="485.1" x2="65.56619274617556" y2="486.70000000000005" stroke="#111" stroke-width="0.7" />
<line x1="69.48376342362596" y1="485.1" x2="69.48376342362596" y2="486.70000000000005" stroke="#111" stroke-width="0.7" />
<line x1="71.40768369269061" y1="485.1" x2="71.40768369269061" y2="486.70000000000005" stroke="#111" stroke-width="0.7" />
<line x1="72.77272684725192" y1="485.1" x2="72.77272684725192" y2="486.70000000000005" stroke="#111" stroke-width="0.7" />
<line x1="73.83153657637403" y1="485.1" x2="73.83153657637403" y2="486.70000000000005" stroke="#111" stroke-width="0.7" />
<line x1="74.69664711631657" y1="485.1" x2="74.69664711631657" y2="486.70000000000005" stroke="#111" stroke-width="0.7" />
<line x1="75.42808765578376" y1="485.1" x2="75.42808765578376" y2="486.70000000000005" stroke="#111" stroke-width="0.7" />
<line x1="76.06169027087788" y1="485.1" x2="76.06169027087788" y2="486.70000000000005" stroke="#111" stroke-width="0.7" />
<line x1="76.62056738538122" y1="485.1" x2="76.62056738538122" y2="486.70000000000005" stroke="#111" stroke-width="0.7" />
<line x1="80.40946342362595" y1="485.1" x2="80.40946342362595" y2="486.3" stroke="#111" stroke-width="0.5" />
<text x="36.92" y="496.20" font-size="6.2" fill="#111" stroke="#111" stroke-width="0.16" text-anchor="middle">-10<tspan font-size="4" dy="-2.6">3</tspan></text>
<text x="45.6803" y="496.20000000000005" font-size="6.2" fill="#111" stroke="#111" stroke-width="0.16" text-anchor="middle">0</text>
<text x="53.47" y="496.20" font-size="6.2" fill="#111" stroke="#111" stroke-width="0.16" text-anchor="middle">10<tspan font-size="4" dy="-2.6">3</tspan></text>
<text x="66.89" y="496.20" font-size="6.2" fill="#111" stroke="#111" stroke-width="0.16" text-anchor="middle">10<tspan font-size="4" dy="-2.6">4</tspan></text>
<text x="77.44" y="496.20" font-size="6.2" fill="#111" stroke="#111" stroke-width="0.16" text-anchor="middle">10<tspan font-size="4" dy="-2.6">5</tspan></text>
<polygon points="113.5,485.1 114.5,476.2 115.5,459.2 116.5,452.3 117.3,450.8 118.1,455.4 119.2,457.4 120.4,456.5 121.6,457.4 123.2,456.5 124.7,457.4 125.8,456.5 126.8,458 127.8,462.3 129.6,467 131.2,470.3 132.7,474.6 134.2,475.8 135.8,479.2 138.1,482.3 141.2,484.2 145,485.1" fill="#a5032f"/>
<rect x="104.2" y="438.5" width="47.3" height="46.60000000000002" fill="none" stroke="#111" stroke-width="1.0"/>
<line x1="101.8" y1="440.8" x2="104.2" y2="440.8" stroke="#111" stroke-width="0.9" />
<line x1="101.8" y1="449.7" x2="104.2" y2="449.7" stroke="#111" stroke-width="0.9" />
<line x1="101.8" y1="458.6" x2="104.2" y2="458.6" stroke="#111" stroke-width="0.9" />
<line x1="101.8" y1="467.4" x2="104.2" y2="467.4" stroke="#111" stroke-width="0.9" />
<line x1="101.8" y1="476.3" x2="104.2" y2="476.3" stroke="#111" stroke-width="0.9" />
<line x1="101.8" y1="485.1" x2="104.2" y2="485.1" stroke="#111" stroke-width="0.9" />
<line x1="102.7" y1="442.58" x2="104.2" y2="442.58" stroke="#111" stroke-width="0.7" />
<line x1="102.7" y1="444.36" x2="104.2" y2="444.36" stroke="#111" stroke-width="0.7" />
<line x1="102.7" y1="446.14" x2="104.2" y2="446.14" stroke="#111" stroke-width="0.7" />
<line x1="102.7" y1="447.92" x2="104.2" y2="447.92" stroke="#111" stroke-width="0.7" />
<line x1="102.7" y1="451.48" x2="104.2" y2="451.48" stroke="#111" stroke-width="0.7" />
<line x1="102.7" y1="453.26" x2="104.2" y2="453.26" stroke="#111" stroke-width="0.7" />
<line x1="102.7" y1="455.04" x2="104.2" y2="455.04" stroke="#111" stroke-width="0.7" />
<line x1="102.7" y1="456.82" x2="104.2" y2="456.82" stroke="#111" stroke-width="0.7" />
<line x1="102.7" y1="460.36" x2="104.2" y2="460.36" stroke="#111" stroke-width="0.7" />
<line x1="102.7" y1="462.12" x2="104.2" y2="462.12" stroke="#111" stroke-width="0.7" />
<line x1="102.7" y1="463.88" x2="104.2" y2="463.88" stroke="#111" stroke-width="0.7" />
<line x1="102.7" y1="465.64" x2="104.2" y2="465.64" stroke="#111" stroke-width="0.7" />
<line x1="102.7" y1="469.18" x2="104.2" y2="469.18" stroke="#111" stroke-width="0.7" />
<line x1="102.7" y1="470.96" x2="104.2" y2="470.96" stroke="#111" stroke-width="0.7" />
<line x1="102.7" y1="472.74" x2="104.2" y2="472.74" stroke="#111" stroke-width="0.7" />
<line x1="102.7" y1="474.52" x2="104.2" y2="474.52" stroke="#111" stroke-width="0.7" />
<line x1="102.7" y1="478.06" x2="104.2" y2="478.06" stroke="#111" stroke-width="0.7" />
<line x1="102.7" y1="479.82" x2="104.2" y2="479.82" stroke="#111" stroke-width="0.7" />
<line x1="102.7" y1="481.58000000000004" x2="104.2" y2="481.58000000000004" stroke="#111" stroke-width="0.7" />
<line x1="102.7" y1="483.34000000000003" x2="104.2" y2="483.34000000000003" stroke="#111" stroke-width="0.7" />
<text x="99.6" y="443.068" font-size="6.3" fill="#111" stroke="#111" stroke-width="0.16" text-anchor="end">50</text>
<text x="99.6" y="451.96799999999996" font-size="6.3" fill="#111" stroke="#111" stroke-width="0.16" text-anchor="end">40</text>
<text x="99.6" y="460.868" font-size="6.3" fill="#111" stroke="#111" stroke-width="0.16" text-anchor="end">30</text>
<text x="99.6" y="469.66799999999995" font-size="6.3" fill="#111" stroke="#111" stroke-width="0.16" text-anchor="end">20</text>
<text x="99.6" y="478.568" font-size="6.3" fill="#111" stroke="#111" stroke-width="0.16" text-anchor="end">10</text>
<text x="99.6" y="487.368" font-size="6.3" fill="#111" stroke="#111" stroke-width="0.16" text-anchor="end">0</text>
<line x1="122.7" y1="447.4" x2="148.8" y2="447.4" stroke="#111" stroke-width="0.8" />
<line x1="122.7" y1="446.2" x2="122.7" y2="448.59999999999997" stroke="#111" stroke-width="0.7" />
<line x1="148.8" y1="446.2" x2="148.8" y2="448.59999999999997" stroke="#111" stroke-width="0.7" />
<text x="135.8" y="445.4" font-size="5.4" fill="#111" stroke="#111" stroke-width="0.16" text-anchor="middle">54.2%</text>
<line x1="106.565" y1="485.1" x2="106.565" y2="487.5" stroke="#111" stroke-width="0.9" />
<line x1="114.7479" y1="485.1" x2="114.7479" y2="487.5" stroke="#111" stroke-width="0.9" />
<line x1="121.701" y1="485.1" x2="121.701" y2="487.5" stroke="#111" stroke-width="0.9" />
<line x1="135.7964" y1="485.1" x2="135.7964" y2="487.5" stroke="#111" stroke-width="0.9" />
<line x1="147.00650000000002" y1="485.1" x2="147.00650000000002" y2="487.5" stroke="#111" stroke-width="0.9" />
<line x1="108.20157999999999" y1="485.1" x2="108.20157999999999" y2="486.70000000000005" stroke="#111" stroke-width="0.7" />
<line x1="109.83816" y1="485.1" x2="109.83816" y2="486.70000000000005" stroke="#111" stroke-width="0.7" />
<line x1="111.47474" y1="485.1" x2="111.47474" y2="486.70000000000005" stroke="#111" stroke-width="0.7" />
<line x1="113.11132" y1="485.1" x2="113.11132" y2="486.70000000000005" stroke="#111" stroke-width="0.7" />
<line x1="116.13852" y1="485.1" x2="116.13852" y2="486.70000000000005" stroke="#111" stroke-width="0.7" />
<line x1="117.52914" y1="485.1" x2="117.52914" y2="486.70000000000005" stroke="#111" stroke-width="0.7" />
<line x1="118.91976" y1="485.1" x2="118.91976" y2="486.70000000000005" stroke="#111" stroke-width="0.7" />
<line x1="120.31038" y1="485.1" x2="120.31038" y2="486.70000000000005" stroke="#111" stroke-width="0.7" />
<line x1="125.94413820088208" y1="485.1" x2="125.94413820088208" y2="486.70000000000005" stroke="#111" stroke-width="0.7" />
<line x1="128.42621493377553" y1="485.1" x2="128.42621493377553" y2="486.70000000000005" stroke="#111" stroke-width="0.7" />
<line x1="130.18727640176417" y1="485.1" x2="130.18727640176417" y2="486.70000000000005" stroke="#111" stroke-width="0.7" />
<line x1="131.55326179911793" y1="485.1" x2="131.55326179911793" y2="486.70000000000005" stroke="#111" stroke-width="0.7" />
<line x1="132.66935313465763" y1="485.1" x2="132.66935313465763" y2="486.70000000000005" stroke="#111" stroke-width="0.7" />
<line x1="133.61299491321697" y1="485.1" x2="133.61299491321697" y2="486.70000000000005" stroke="#111" stroke-width="0.7" />
<line x1="134.43041460264624" y1="485.1" x2="134.43041460264624" y2="486.70000000000005" stroke="#111" stroke-width="0.7" />
<line x1="135.15142986755106" y1="485.1" x2="135.15142986755106" y2="486.70000000000005" stroke="#111" stroke-width="0.7" />
<line x1="139.1709763543928" y1="485.1" x2="139.1709763543928" y2="486.70000000000005" stroke="#111" stroke-width="0.7" />
<line x1="141.1449769775329" y1="485.1" x2="141.1449769775329" y2="486.70000000000005" stroke="#111" stroke-width="0.7" />
<line x1="142.5455527087856" y1="485.1" x2="142.5455527087856" y2="486.70000000000005" stroke="#111" stroke-width="0.7" />
<line x1="143.63192364560723" y1="485.1" x2="143.63192364560723" y2="486.70000000000005" stroke="#111" stroke-width="0.7" />
<line x1="144.5195533319257" y1="485.1" x2="144.5195533319257" y2="486.70000000000005" stroke="#111" stroke-width="0.7" />
<line x1="145.27003353836383" y1="485.1" x2="145.27003353836383" y2="486.70000000000005" stroke="#111" stroke-width="0.7" />
<line x1="145.9201290631784" y1="485.1" x2="145.9201290631784" y2="486.70000000000005" stroke="#111" stroke-width="0.7" />
<line x1="146.4935539550658" y1="485.1" x2="146.4935539550658" y2="486.70000000000005" stroke="#111" stroke-width="0.7" />
<line x1="150.3810763543928" y1="485.1" x2="150.3810763543928" y2="486.3" stroke="#111" stroke-width="0.5" />
<text x="105.76" y="496.20" font-size="6.2" fill="#111" stroke="#111" stroke-width="0.16" text-anchor="middle">-10<tspan font-size="4" dy="-2.6">3</tspan></text>
<text x="114.7479" y="496.20000000000005" font-size="6.2" fill="#111" stroke="#111" stroke-width="0.16" text-anchor="middle">0</text>
<text x="122.74" y="496.20" font-size="6.2" fill="#111" stroke="#111" stroke-width="0.16" text-anchor="middle">10<tspan font-size="4" dy="-2.6">3</tspan></text>
<text x="136.51" y="496.20" font-size="6.2" fill="#111" stroke="#111" stroke-width="0.16" text-anchor="middle">10<tspan font-size="4" dy="-2.6">4</tspan></text>
<text x="147.34" y="496.20" font-size="6.2" fill="#111" stroke="#111" stroke-width="0.16" text-anchor="middle">10<tspan font-size="4" dy="-2.6">5</tspan></text>
<polygon points="187,484.6 188.1,470 189.2,459.2 190.4,456.5 191.9,456.2 192.7,452.8 193.5,452.3 194.2,455.4 195.3,457.7 196.5,451.5 198.1,449.2 199.6,449.7 201.2,449.2 202.4,451.5 203.5,450.8 204.5,457.7 206.1,463.8 207.6,468.5 209.2,474.6 211.2,479.2 214.2,483.1 219.6,484.6" fill="#a5032f"/>
<rect x="177.8" y="437.4" width="47.19999999999999" height="47.200000000000045" fill="none" stroke="#111" stroke-width="1.0"/>
<line x1="175.4" y1="443.1" x2="177.8" y2="443.1" stroke="#111" stroke-width="0.9" />
<line x1="175.4" y1="453.5" x2="177.8" y2="453.5" stroke="#111" stroke-width="0.9" />
<line x1="175.4" y1="463.9" x2="177.8" y2="463.9" stroke="#111" stroke-width="0.9" />
<line x1="175.4" y1="474.2" x2="177.8" y2="474.2" stroke="#111" stroke-width="0.9" />
<line x1="175.4" y1="484.6" x2="177.8" y2="484.6" stroke="#111" stroke-width="0.9" />
<line x1="176.3" y1="445.18" x2="177.8" y2="445.18" stroke="#111" stroke-width="0.7" />
<line x1="176.3" y1="447.26" x2="177.8" y2="447.26" stroke="#111" stroke-width="0.7" />
<line x1="176.3" y1="449.34000000000003" x2="177.8" y2="449.34000000000003" stroke="#111" stroke-width="0.7" />
<line x1="176.3" y1="451.42" x2="177.8" y2="451.42" stroke="#111" stroke-width="0.7" />
<line x1="176.3" y1="455.58" x2="177.8" y2="455.58" stroke="#111" stroke-width="0.7" />
<line x1="176.3" y1="457.65999999999997" x2="177.8" y2="457.65999999999997" stroke="#111" stroke-width="0.7" />
<line x1="176.3" y1="459.74" x2="177.8" y2="459.74" stroke="#111" stroke-width="0.7" />
<line x1="176.3" y1="461.82" x2="177.8" y2="461.82" stroke="#111" stroke-width="0.7" />
<line x1="176.3" y1="465.96" x2="177.8" y2="465.96" stroke="#111" stroke-width="0.7" />
<line x1="176.3" y1="468.02" x2="177.8" y2="468.02" stroke="#111" stroke-width="0.7" />
<line x1="176.3" y1="470.08" x2="177.8" y2="470.08" stroke="#111" stroke-width="0.7" />
<line x1="176.3" y1="472.14" x2="177.8" y2="472.14" stroke="#111" stroke-width="0.7" />
<line x1="176.3" y1="476.28" x2="177.8" y2="476.28" stroke="#111" stroke-width="0.7" />
<line x1="176.3" y1="478.36" x2="177.8" y2="478.36" stroke="#111" stroke-width="0.7" />
<line x1="176.3" y1="480.44" x2="177.8" y2="480.44" stroke="#111" stroke-width="0.7" />
<line x1="176.3" y1="482.52000000000004" x2="177.8" y2="482.52000000000004" stroke="#111" stroke-width="0.7" />
<text x="171.6" y="445.368" font-size="6.3" fill="#111" stroke="#111" stroke-width="0.16" text-anchor="end">40</text>
<text x="171.6" y="455.768" font-size="6.3" fill="#111" stroke="#111" stroke-width="0.16" text-anchor="end">30</text>
<text x="171.6" y="466.16799999999995" font-size="6.3" fill="#111" stroke="#111" stroke-width="0.16" text-anchor="end">20</text>
<text x="171.6" y="476.46799999999996" font-size="6.3" fill="#111" stroke="#111" stroke-width="0.16" text-anchor="end">10</text>
<text x="171.6" y="486.868" font-size="6.3" fill="#111" stroke="#111" stroke-width="0.16" text-anchor="end">0</text>
<line x1="195.3" y1="446.6" x2="221.9" y2="446.6" stroke="#111" stroke-width="0.8" />
<line x1="195.3" y1="445.40000000000003" x2="195.3" y2="447.8" stroke="#111" stroke-width="0.7" />
<line x1="221.9" y1="445.40000000000003" x2="221.9" y2="447.8" stroke="#111" stroke-width="0.7" />
<text x="208.7" y="444.6" font-size="5.4" fill="#111" stroke="#111" stroke-width="0.16" text-anchor="middle">66.3%</text>
<line x1="180.16000000000003" y1="484.6" x2="180.16000000000003" y2="487.0" stroke="#111" stroke-width="0.9" />
<line x1="188.3256" y1="484.6" x2="188.3256" y2="487.0" stroke="#111" stroke-width="0.9" />
<line x1="195.264" y1="484.6" x2="195.264" y2="487.0" stroke="#111" stroke-width="0.9" />
<line x1="209.3296" y1="484.6" x2="209.3296" y2="487.0" stroke="#111" stroke-width="0.9" />
<line x1="220.51600000000002" y1="484.6" x2="220.51600000000002" y2="487.0" stroke="#111" stroke-width="0.9" />
<line x1="181.79312000000002" y1="484.6" x2="181.79312000000002" y2="486.20000000000005" stroke="#111" stroke-width="0.7" />
<line x1="183.42624" y1="484.6" x2="183.42624" y2="486.20000000000005" stroke="#111" stroke-width="0.7" />
<line x1="185.05936000000003" y1="484.6" x2="185.05936000000003" y2="486.20000000000005" stroke="#111" stroke-width="0.7" />
<line x1="186.69248000000002" y1="484.6" x2="186.69248000000002" y2="486.20000000000005" stroke="#111" stroke-width="0.7" />
<line x1="189.71328" y1="484.6" x2="189.71328" y2="486.20000000000005" stroke="#111" stroke-width="0.7" />
<line x1="191.10096000000001" y1="484.6" x2="191.10096000000001" y2="486.20000000000005" stroke="#111" stroke-width="0.7" />
<line x1="192.48864" y1="484.6" x2="192.48864" y2="486.20000000000005" stroke="#111" stroke-width="0.7" />
<line x1="193.87632000000002" y1="484.6" x2="193.87632000000002" y2="486.20000000000005" stroke="#111" stroke-width="0.7" />
<line x1="199.4981675070113" y1="484.6" x2="199.4981675070113" y2="486.20000000000005" stroke="#111" stroke-width="0.7" />
<line x1="201.9749967203849" y1="484.6" x2="201.9749967203849" y2="486.20000000000005" stroke="#111" stroke-width="0.7" />
<line x1="203.7323350140226" y1="484.6" x2="203.7323350140226" y2="486.20000000000005" stroke="#111" stroke-width="0.7" />
<line x1="205.09543249298872" y1="484.6" x2="205.09543249298872" y2="486.20000000000005" stroke="#111" stroke-width="0.7" />
<line x1="206.20916422739617" y1="484.6" x2="206.20916422739617" y2="486.20000000000005" stroke="#111" stroke-width="0.7" />
<line x1="207.15081099162452" y1="484.6" x2="207.15081099162452" y2="486.20000000000005" stroke="#111" stroke-width="0.7" />
<line x1="207.96650252103387" y1="484.6" x2="207.96650252103387" y2="486.20000000000005" stroke="#111" stroke-width="0.7" />
<line x1="208.68599344076978" y1="484.6" x2="208.68599344076978" y2="486.20000000000005" stroke="#111" stroke-width="0.7" />
<line x1="212.69704194349558" y1="484.6" x2="212.69704194349558" y2="486.20000000000005" stroke="#111" stroke-width="0.7" />
<line x1="214.66686920379604" y1="484.6" x2="214.66686920379604" y2="486.20000000000005" stroke="#111" stroke-width="0.7" />
<line x1="216.06448388699113" y1="484.6" x2="216.06448388699113" y2="486.20000000000005" stroke="#111" stroke-width="0.7" />
<line x1="217.14855805650444" y1="484.6" x2="217.14855805650444" y2="486.20000000000005" stroke="#111" stroke-width="0.7" />
<line x1="218.03431114729162" y1="484.6" x2="218.03431114729162" y2="486.20000000000005" stroke="#111" stroke-width="0.7" />
<line x1="218.7832047148155" y1="484.6" x2="218.7832047148155" y2="486.20000000000005" stroke="#111" stroke-width="0.7" />
<line x1="219.4319258304867" y1="484.6" x2="219.4319258304867" y2="486.20000000000005" stroke="#111" stroke-width="0.7" />
<line x1="220.00413840759208" y1="484.6" x2="220.00413840759208" y2="486.20000000000005" stroke="#111" stroke-width="0.7" />
<line x1="223.8834419434956" y1="484.6" x2="223.8834419434956" y2="485.8" stroke="#111" stroke-width="0.5" />
<text x="179.36" y="495.70" font-size="6.2" fill="#111" stroke="#111" stroke-width="0.16" text-anchor="middle">-10<tspan font-size="4" dy="-2.6">3</tspan></text>
<text x="188.3256" y="495.70000000000005" font-size="6.2" fill="#111" stroke="#111" stroke-width="0.16" text-anchor="middle">0</text>
<text x="196.30" y="495.70" font-size="6.2" fill="#111" stroke="#111" stroke-width="0.16" text-anchor="middle">10<tspan font-size="4" dy="-2.6">3</tspan></text>
<text x="210.04" y="495.70" font-size="6.2" fill="#111" stroke="#111" stroke-width="0.16" text-anchor="middle">10<tspan font-size="4" dy="-2.6">4</tspan></text>
<text x="220.85" y="495.70" font-size="6.2" fill="#111" stroke="#111" stroke-width="0.16" text-anchor="middle">10<tspan font-size="4" dy="-2.6">5</tspan></text>
<line x1="41" y1="501.3" x2="214.3" y2="501.3" stroke="#111" stroke-width="0.9" />
<text x="127.8" y="510.4" font-size="6.6" fill="#111" stroke="#111" stroke-width="0.16" text-anchor="middle" textLength="30.3" lengthAdjust="spacingAndGlyphs">α5 subunit</text>
<text x="239.6" y="398.8" font-size="11.5" fill="#000" stroke="#000" stroke-width="0" font-weight="bold">J</text>
<text x="298.4" y="399.6" font-size="9.5" fill="#111" stroke="#111" stroke-width="0" text-anchor="middle" textLength="18.3" lengthAdjust="spacingAndGlyphs">MKP</text>
<text x="297.6" y="412.4" font-size="4.6" fill="#111" stroke="#111" stroke-width="0.16" text-anchor="middle">ns</text>
<line x1="276.5" y1="410.7" x2="276.5" y2="477.5" stroke="#111" stroke-width="1.1" />
<line x1="273.7" y1="412.2" x2="276.5" y2="412.2" stroke="#111" stroke-width="0.9" />
<text x="270.7" y="414.50399999999996" font-size="6.4" fill="#111" stroke="#111" stroke-width="0.16" text-anchor="end">1.0</text>
<line x1="273.7" y1="425.2" x2="276.5" y2="425.2" stroke="#111" stroke-width="0.9" />
<text x="270.7" y="427.50399999999996" font-size="6.4" fill="#111" stroke="#111" stroke-width="0.16" text-anchor="end">0.8</text>
<line x1="273.7" y1="438.1" x2="276.5" y2="438.1" stroke="#111" stroke-width="0.9" />
<text x="270.7" y="440.404" font-size="6.4" fill="#111" stroke="#111" stroke-width="0.16" text-anchor="end">0.6</text>
<line x1="273.7" y1="451.1" x2="276.5" y2="451.1" stroke="#111" stroke-width="0.9" />
<text x="270.7" y="453.404" font-size="6.4" fill="#111" stroke="#111" stroke-width="0.16" text-anchor="end">0.4</text>
<line x1="273.7" y1="464" x2="276.5" y2="464" stroke="#111" stroke-width="0.9" />
<text x="270.7" y="466.304" font-size="6.4" fill="#111" stroke="#111" stroke-width="0.16" text-anchor="end">0.2</text>
<line x1="273.7" y1="477" x2="276.5" y2="477" stroke="#111" stroke-width="0.9" />
<text x="270.7" y="479.304" font-size="6.4" fill="#111" stroke="#111" stroke-width="0.16" text-anchor="end">0.0</text>
<line x1="276.1" y1="477.5" x2="320.3" y2="477.5" stroke="#111" stroke-width="1.1" />
<line x1="288.4" y1="477.5" x2="288.4" y2="480.0" stroke="#111" stroke-width="0.9" />
<line x1="308" y1="477.5" x2="308" y2="480.0" stroke="#111" stroke-width="0.9" />
<text transform="translate(257.3,444.2) rotate(-90)" font-size="9" fill="#111" stroke="#111" stroke-width="0.18" text-anchor="middle" textLength="66.9" lengthAdjust="spacingAndGlyphs">Percentage in total BM</text>
<rect x="287.4" y="424.8" width="2.0" height="2.0" fill="#2a4784"/>
<rect x="287.4" y="436.0" width="2.0" height="2.0" fill="#2a4784"/>
<rect x="287.4" y="446.4" width="2.0" height="2.0" fill="#2a4784"/>
<line x1="288.5" y1="425.5" x2="288.5" y2="447.5" stroke="#2a4784" stroke-width="1.0" />
<line x1="285.5" y1="425.5" x2="291.5" y2="425.5" stroke="#2a4784" stroke-width="1.0" />
<line x1="285.5" y1="447.5" x2="291.5" y2="447.5" stroke="#2a4784" stroke-width="1.0" />
<line x1="282.3" y1="437.1" x2="294.7" y2="437.1" stroke="#2a2a2a" stroke-width="1.5" />
<rect x="307.0" y="440.0" width="2.0" height="2.0" fill="#b11c46"/>
<rect x="304.5" y="446.8" width="2.0" height="2.0" fill="#b11c46"/>
<rect x="309.5" y="446.8" width="2.0" height="2.0" fill="#b11c46"/>
<line x1="308.5" y1="441.5" x2="308.5" y2="447.5" stroke="#b11c46" stroke-width="1.0" />
<line x1="305.5" y1="441.5" x2="311.5" y2="441.5" stroke="#b11c46" stroke-width="1.0" />
<line x1="305.5" y1="447.5" x2="311.5" y2="447.5" stroke="#b11c46" stroke-width="1.0" />
<line x1="302.3" y1="445.1" x2="314.7" y2="445.1" stroke="#2a2a2a" stroke-width="1.5" />
<text transform="translate(291.1,483.8) rotate(-60)" font-size="7" fill="#111" stroke="#111" stroke-width="0.16" text-anchor="end" textLength="31" lengthAdjust="spacingAndGlyphs">Rat IgG2aκ</text>
<text transform="translate(311.4,484) rotate(-60)" font-size="7" fill="#111" stroke="#111" stroke-width="0.16" text-anchor="end" textLength="24" lengthAdjust="spacingAndGlyphs">5H10-27</text>
<text x="335.8" y="398.8" font-size="11.5" fill="#000" stroke="#000" stroke-width="0" font-weight="bold">K</text>
<text x="395.9" y="399.7" font-size="9.2" fill="#111" stroke="#111" stroke-width="0" text-anchor="middle" textLength="57.4" lengthAdjust="spacingAndGlyphs">CD41+CD42d-</text>
<text x="396.3" y="411.5" font-size="5.5" fill="#111" stroke="#111" stroke-width="0.16" text-anchor="middle">*</text>
<line x1="374.5" y1="409.7" x2="374.5" y2="477.1" stroke="#111" stroke-width="1.1" />
<line x1="371.7" y1="411.8" x2="374.5" y2="411.8" stroke="#111" stroke-width="0.9" />
<text x="368.7" y="414.104" font-size="6.4" fill="#111" stroke="#111" stroke-width="0.16" text-anchor="end">2.5</text>
<line x1="371.7" y1="424.8" x2="374.5" y2="424.8" stroke="#111" stroke-width="0.9" />
<text x="368.7" y="427.104" font-size="6.4" fill="#111" stroke="#111" stroke-width="0.16" text-anchor="end">2.0</text>
<line x1="371.7" y1="437.8" x2="374.5" y2="437.8" stroke="#111" stroke-width="0.9" />
<text x="368.7" y="440.104" font-size="6.4" fill="#111" stroke="#111" stroke-width="0.16" text-anchor="end">1.5</text>
<line x1="371.7" y1="450.7" x2="374.5" y2="450.7" stroke="#111" stroke-width="0.9" />
<text x="368.7" y="453.00399999999996" font-size="6.4" fill="#111" stroke="#111" stroke-width="0.16" text-anchor="end">1.0</text>
<line x1="371.7" y1="463.7" x2="374.5" y2="463.7" stroke="#111" stroke-width="0.9" />
<text x="368.7" y="466.00399999999996" font-size="6.4" fill="#111" stroke="#111" stroke-width="0.16" text-anchor="end">0.5</text>
<line x1="371.7" y1="476.6" x2="374.5" y2="476.6" stroke="#111" stroke-width="0.9" />
<text x="368.7" y="478.904" font-size="6.4" fill="#111" stroke="#111" stroke-width="0.16" text-anchor="end">0</text>
<line x1="374.4" y1="476.5" x2="416.5" y2="476.5" stroke="#111" stroke-width="1.1" />
<line x1="387.2" y1="476.5" x2="387.2" y2="479.0" stroke="#111" stroke-width="0.9" />
<line x1="405.1" y1="476.5" x2="405.1" y2="479.0" stroke="#111" stroke-width="0.9" />
<text transform="translate(355,442.8) rotate(-90)" font-size="9" fill="#111" stroke="#111" stroke-width="0.18" text-anchor="middle" textLength="67" lengthAdjust="spacingAndGlyphs">Percentage in total BM</text>
<rect x="386.2" y="418.2" width="2.0" height="2.0" fill="#2a4784"/>
<rect x="386.2" y="423.0" width="2.0" height="2.0" fill="#2a4784"/>
<rect x="384.2" y="427.0" width="2.0" height="2.0" fill="#2a4784"/>
<rect x="388.2" y="427.0" width="2.0" height="2.0" fill="#2a4784"/>
<rect x="386.2" y="431.0" width="2.0" height="2.0" fill="#2a4784"/>
<rect x="386.2" y="434.0" width="2.0" height="2.0" fill="#2a4784"/>
<line x1="387.5" y1="422.5" x2="387.5" y2="433.5" stroke="#2a4784" stroke-width="1.0" />
<line x1="384.5" y1="422.5" x2="390.5" y2="422.5" stroke="#2a4784" stroke-width="1.0" />
<line x1="384.5" y1="433.5" x2="390.5" y2="433.5" stroke="#2a4784" stroke-width="1.0" />
<line x1="381.7" y1="427.6" x2="393.3" y2="427.6" stroke="#2a2a2a" stroke-width="1.5" />
<rect x="404.1" y="427.0" width="2.0" height="2.0" fill="#b11c46"/>
<rect x="404.1" y="436.0" width="2.0" height="2.0" fill="#b11c46"/>
<rect x="406.1" y="439.0" width="2.0" height="2.0" fill="#b11c46"/>
<rect x="404.1" y="442.0" width="2.0" height="2.0" fill="#b11c46"/>
<rect x="404.1" y="450.5" width="2.0" height="2.0" fill="#b11c46"/>
<line x1="405.5" y1="431.5" x2="405.5" y2="447.5" stroke="#b11c46" stroke-width="1.0" />
<line x1="402.5" y1="431.5" x2="408.5" y2="431.5" stroke="#b11c46" stroke-width="1.0" />
<line x1="402.5" y1="447.5" x2="408.5" y2="447.5" stroke="#b11c46" stroke-width="1.0" />
<line x1="399.7" y1="439.6" x2="411.3" y2="439.6" stroke="#2a2a2a" stroke-width="1.5" />
<text transform="translate(389.7,483.5) rotate(-60)" font-size="7" fill="#111" stroke="#111" stroke-width="0.16" text-anchor="end" textLength="31" lengthAdjust="spacingAndGlyphs">Rat IgG2aκ</text>
<text transform="translate(408.4,483.7) rotate(-60)" font-size="7" fill="#111" stroke="#111" stroke-width="0.16" text-anchor="end" textLength="24" lengthAdjust="spacingAndGlyphs">5H10-27</text>
<text x="482.5" y="399.7" font-size="9.2" fill="#111" stroke="#111" stroke-width="0" text-anchor="middle" textLength="60" lengthAdjust="spacingAndGlyphs">CD41+CD42d+</text>
<text x="486.3" y="409.6" font-size="4.6" fill="#111" stroke="#111" stroke-width="0.16" text-anchor="middle">ns</text>
<line x1="461.5" y1="410.1" x2="461.5" y2="477.1" stroke="#111" stroke-width="1.1" />
<line x1="458.7" y1="411.7" x2="461.5" y2="411.7" stroke="#111" stroke-width="0.9" />
<text x="455.7" y="414.00399999999996" font-size="6.4" fill="#111" stroke="#111" stroke-width="0.16" text-anchor="end">1.5</text>
<line x1="458.7" y1="433.3" x2="461.5" y2="433.3" stroke="#111" stroke-width="0.9" />
<text x="455.7" y="435.604" font-size="6.4" fill="#111" stroke="#111" stroke-width="0.16" text-anchor="end">1.0</text>
<line x1="458.7" y1="455" x2="461.5" y2="455" stroke="#111" stroke-width="0.9" />
<text x="455.7" y="457.304" font-size="6.4" fill="#111" stroke="#111" stroke-width="0.16" text-anchor="end">0.5</text>
<line x1="458.7" y1="476.6" x2="461.5" y2="476.6" stroke="#111" stroke-width="0.9" />
<text x="455.7" y="478.904" font-size="6.4" fill="#111" stroke="#111" stroke-width="0.16" text-anchor="end">0</text>
<line x1="461.3" y1="476.5" x2="503.3" y2="476.5" stroke="#111" stroke-width="1.1" />
<line x1="473.9" y1="476.5" x2="473.9" y2="479.0" stroke="#111" stroke-width="0.9" />
<line x1="492" y1="476.5" x2="492" y2="479.0" stroke="#111" stroke-width="0.9" />
<text transform="translate(441.8,445.3) rotate(-90)" font-size="9" fill="#111" stroke="#111" stroke-width="0.18" text-anchor="middle" textLength="67.1" lengthAdjust="spacingAndGlyphs">Percentage in total BM</text>
<rect x="472.9" y="425.8" width="2.0" height="2.0" fill="#2a4784"/>
<rect x="470.7" y="435.3" width="2.0" height="2.0" fill="#2a4784"/>
<rect x="475.09999999999997" y="435.3" width="2.0" height="2.0" fill="#2a4784"/>
<rect x="472.9" y="443.5" width="2.0" height="2.0" fill="#2a4784"/>
<rect x="472.9" y="448.0" width="2.0" height="2.0" fill="#2a4784"/>
<rect x="470.5" y="462.0" width="2.0" height="2.0" fill="#2a4784"/>
<rect x="475.29999999999995" y="462.0" width="2.0" height="2.0" fill="#2a4784"/>
<line x1="473.5" y1="431.5" x2="473.5" y2="459.5" stroke="#2a4784" stroke-width="1.0" />
<line x1="470.5" y1="431.5" x2="476.5" y2="431.5" stroke="#2a4784" stroke-width="1.0" />
<line x1="470.5" y1="459.5" x2="476.5" y2="459.5" stroke="#2a4784" stroke-width="1.0" />
<line x1="467.5" y1="445.7" x2="479.5" y2="445.7" stroke="#2a2a2a" stroke-width="1.5" />
<rect x="491.0" y="440.3" width="2.0" height="2.0" fill="#b11c46"/>
<rect x="491.0" y="451.0" width="2.0" height="2.0" fill="#b11c46"/>
<rect x="491.0" y="461.8" width="2.0" height="2.0" fill="#b11c46"/>
<line x1="492.5" y1="445.5" x2="492.5" y2="462.5" stroke="#b11c46" stroke-width="1.0" />
<line x1="489.5" y1="445.5" x2="495.5" y2="445.5" stroke="#b11c46" stroke-width="1.0" />
<line x1="489.5" y1="462.5" x2="495.5" y2="462.5" stroke="#b11c46" stroke-width="1.0" />
<line x1="486.5" y1="453.9" x2="498.5" y2="453.9" stroke="#2a2a2a" stroke-width="1.5" />
<text transform="translate(476.5,483.5) rotate(-60)" font-size="7" fill="#111" stroke="#111" stroke-width="0.16" text-anchor="end" textLength="31" lengthAdjust="spacingAndGlyphs">Rat IgG2aκ</text>
<text transform="translate(495.2,483.7) rotate(-60)" font-size="7" fill="#111" stroke="#111" stroke-width="0.16" text-anchor="end" textLength="24" lengthAdjust="spacingAndGlyphs">5H10-27</text>
<text x="7.1" y="538.5" font-size="11.5" fill="#000" stroke="#000" stroke-width="0" font-weight="bold">L</text>
<rect x="58.6" y="604" width="6.600000000000001" height="9.799999999999955" fill="#2a4784" />
<line x1="61.900000000000006" y1="597.8" x2="61.900000000000006" y2="604" stroke="#2a4784" stroke-width="0.9" />
<line x1="59.900000000000006" y1="597.8" x2="63.900000000000006" y2="597.8" stroke="#2a4784" stroke-width="0.9" />
<circle cx="61.400000000000006" cy="593.7" r="1.1" fill="#c5d0e6"/>
<circle cx="60.900000000000006" cy="605.5" r="1.1" fill="#c5d0e6"/>
<circle cx="62.400000000000006" cy="608" r="1.1" fill="#c5d0e6"/>
<rect x="69.4" y="586" width="6.199999999999989" height="27.799999999999955" fill="#a5032f" />
<line x1="72.5" y1="578.5" x2="72.5" y2="586" stroke="#a5032f" stroke-width="0.9" />
<line x1="70.5" y1="578.5" x2="74.5" y2="578.5" stroke="#a5032f" stroke-width="0.9" />
<circle cx="72.5" cy="575.6" r="1.1" fill="#000"/>
<circle cx="71.0" cy="590" r="1.1" fill="#000"/>
<circle cx="74.0" cy="590" r="1.1" fill="#000"/>
<circle cx="72.5" cy="597" r="1.1" fill="#000"/>
<rect x="86" y="568.1" width="6.200000000000003" height="45.69999999999993" fill="#2a4784" />
<line x1="89.1" y1="552.6" x2="89.1" y2="568.1" stroke="#2a4784" stroke-width="0.9" />
<line x1="87.1" y1="552.6" x2="91.1" y2="552.6" stroke="#2a4784" stroke-width="0.9" />
<circle cx="89.1" cy="552.4" r="1.1" fill="#c5d0e6"/>
<circle cx="89.1" cy="582.5" r="1.1" fill="#c5d0e6"/>
<circle cx="89.1" cy="585" r="1.1" fill="#c5d0e6"/>
<rect x="95.9" y="561.1" width="6.699999999999989" height="52.69999999999993" fill="#a5032f" />
<line x1="99.25" y1="540.7" x2="99.25" y2="561.1" stroke="#a5032f" stroke-width="0.9" />
<line x1="97.25" y1="540.7" x2="101.25" y2="540.7" stroke="#a5032f" stroke-width="0.9" />
<circle cx="99.25" cy="540.7" r="1.1" fill="#000"/>
<circle cx="99.25" cy="563.8" r="1.1" fill="#000"/>
<circle cx="99.25" cy="578" r="1.1" fill="#000"/>
<circle cx="99.25" cy="580.5" r="1.1" fill="#000"/>
<line x1="53.5" y1="529.3" x2="53.5" y2="614.3" stroke="#111" stroke-width="1.1" />
<line x1="50.7" y1="531.8" x2="53.5" y2="531.8" stroke="#111" stroke-width="0.9" />
<text x="47.7" y="534.1039999999999" font-size="6.4" fill="#111" stroke="#111" stroke-width="0.16" text-anchor="end">80</text>
<line x1="50.7" y1="552.5" x2="53.5" y2="552.5" stroke="#111" stroke-width="0.9" />
<text x="47.7" y="554.804" font-size="6.4" fill="#111" stroke="#111" stroke-width="0.16" text-anchor="end">60</text>
<line x1="50.7" y1="573.2" x2="53.5" y2="573.2" stroke="#111" stroke-width="0.9" />
<text x="47.7" y="575.504" font-size="6.4" fill="#111" stroke="#111" stroke-width="0.16" text-anchor="end">40</text>
<line x1="50.7" y1="593.5" x2="53.5" y2="593.5" stroke="#111" stroke-width="0.9" />
<text x="47.7" y="595.804" font-size="6.4" fill="#111" stroke="#111" stroke-width="0.16" text-anchor="end">20</text>
<line x1="50.7" y1="613.8" x2="53.5" y2="613.8" stroke="#111" stroke-width="0.9" />
<text x="47.7" y="616.1039999999999" font-size="6.4" fill="#111" stroke="#111" stroke-width="0.16" text-anchor="end">0</text>
<line x1="52.9" y1="613.5" x2="107.3" y2="613.5" stroke="#111" stroke-width="1.1" />
<line x1="66.9" y1="613.5" x2="66.9" y2="616.0" stroke="#111" stroke-width="0.9" />
<line x1="94.3" y1="613.5" x2="94.3" y2="616.0" stroke="#111" stroke-width="0.9" />
<line x1="61.1" y1="568.1" x2="72.1" y2="568.1" stroke="#111" stroke-width="0.9" />
<text x="66.5" y="567.6" font-size="5.5" fill="#111" stroke="#111" stroke-width="0.16" text-anchor="middle">*</text>
<text transform="translate(26.3,571.3) rotate(-90)" font-size="9" fill="#111" stroke="#111" stroke-width="0.18" text-anchor="middle" textLength="56.6" lengthAdjust="spacingAndGlyphs">Mean fluorescence</text>
<text transform="translate(34.6,571) rotate(-90)" font-size="9" fill="#111" stroke="#111" stroke-width="0.18" text-anchor="middle" textLength="26.2" lengthAdjust="spacingAndGlyphs">intensity</text>
<text transform="translate(69.5,620.8) rotate(-60)" font-size="7.5" fill="#111" stroke="#111" stroke-width="0.16" text-anchor="end" textLength="31.5" lengthAdjust="spacingAndGlyphs">α5 integrin</text>
<text transform="translate(96.8,620.8) rotate(-60)" font-size="7.5" fill="#111" stroke="#111" stroke-width="0.16" text-anchor="end" textLength="31.5" lengthAdjust="spacingAndGlyphs">β1 integrin</text>
<rect x="111.1" y="529.4" width="8" height="4.5" fill="#2a4784" />
<rect x="111.1" y="538.1999999999999" width="8" height="4.5" fill="#a5032f" />
<text x="122.5" y="533.6999999999999" font-size="5.5" fill="#111" stroke="#111" stroke-width="0.16">HC</text>
<text x="122.5" y="542.4" font-size="5.5" fill="#111">JAK2<tspan font-size="3.5" dy="-2.3">V617F+</tspan></text>
<text x="161.2" y="538.5" font-size="11.5" fill="#000" stroke="#000" stroke-width="0" font-weight="bold" textLength="11.6" lengthAdjust="spacingAndGlyphs">M</text>
<rect x="211" y="583" width="6" height="34.39999999999998" fill="#2a4784" />
<line x1="214.0" y1="572" x2="214.0" y2="583" stroke="#2a4784" stroke-width="0.9" />
<line x1="212.0" y1="572" x2="216.0" y2="572" stroke="#2a4784" stroke-width="0.9" />
<circle cx="214.0" cy="566.6" r="1.1" fill="#c5d0e6"/>
<circle cx="213.5" cy="583.5" r="1.1" fill="#c5d0e6"/>
<circle cx="214.0" cy="592" r="1.1" fill="#c5d0e6"/>
<rect x="220.4" y="567.6" width="6.599999999999994" height="49.799999999999955" fill="#a5032f" />
<line x1="223.7" y1="558" x2="223.7" y2="567.6" stroke="#a5032f" stroke-width="0.9" />
<line x1="221.7" y1="558" x2="225.7" y2="558" stroke="#a5032f" stroke-width="0.9" />
<circle cx="223.7" cy="555" r="1.1" fill="#000"/>
<circle cx="223.7" cy="566" r="1.1" fill="#000"/>
<circle cx="221.39999999999998" cy="570" r="1.1" fill="#000"/>
<circle cx="226.0" cy="570" r="1.1" fill="#000"/>
<circle cx="223.7" cy="578.6" r="1.1" fill="#000"/>
<rect x="238.4" y="599" width="5.599999999999994" height="18.399999999999977" fill="#2a4784" />
<line x1="241.2" y1="595" x2="241.2" y2="599" stroke="#2a4784" stroke-width="0.9" />
<line x1="239.2" y1="595" x2="243.2" y2="595" stroke="#2a4784" stroke-width="0.9" />
<circle cx="241.2" cy="600" r="1.1" fill="#c5d0e6"/>
<circle cx="241.2" cy="603" r="1.1" fill="#c5d0e6"/>
<rect x="248" y="588.6" width="6" height="28.799999999999955" fill="#a5032f" />
<line x1="251.0" y1="583.4" x2="251.0" y2="588.6" stroke="#a5032f" stroke-width="0.9" />
<line x1="249.0" y1="583.4" x2="253.0" y2="583.4" stroke="#a5032f" stroke-width="0.9" />
<circle cx="251.0" cy="583.4" r="1.1" fill="#000"/>
<circle cx="249.2" cy="589" r="1.1" fill="#000"/>
<circle cx="252.8" cy="589" r="1.1" fill="#000"/>
<circle cx="251.0" cy="592" r="1.1" fill="#000"/>
<line x1="205.5" y1="533" x2="205.5" y2="617.9" stroke="#111" stroke-width="1.1" />
<line x1="202.7" y1="535" x2="205.5" y2="535" stroke="#111" stroke-width="0.9" />
<text x="199.7" y="537.304" font-size="6.4" fill="#111" stroke="#111" stroke-width="0.16" text-anchor="end">500</text>
<line x1="202.7" y1="551.5" x2="205.5" y2="551.5" stroke="#111" stroke-width="0.9" />
<text x="199.7" y="553.804" font-size="6.4" fill="#111" stroke="#111" stroke-width="0.16" text-anchor="end">400</text>
<line x1="202.7" y1="568" x2="205.5" y2="568" stroke="#111" stroke-width="0.9" />
<text x="199.7" y="570.304" font-size="6.4" fill="#111" stroke="#111" stroke-width="0.16" text-anchor="end">300</text>
<line x1="202.7" y1="584.5" x2="205.5" y2="584.5" stroke="#111" stroke-width="0.9" />
<text x="199.7" y="586.804" font-size="6.4" fill="#111" stroke="#111" stroke-width="0.16" text-anchor="end">200</text>
<line x1="202.7" y1="600.9" x2="205.5" y2="600.9" stroke="#111" stroke-width="0.9" />
<text x="199.7" y="603.204" font-size="6.4" fill="#111" stroke="#111" stroke-width="0.16" text-anchor="end">100</text>
<line x1="202.7" y1="617.4" x2="205.5" y2="617.4" stroke="#111" stroke-width="0.9" />
<text x="199.7" y="619.704" font-size="6.4" fill="#111" stroke="#111" stroke-width="0.16" text-anchor="end">0</text>
<line x1="205.1" y1="617.5" x2="259" y2="617.5" stroke="#111" stroke-width="1.1" />
<line x1="218.4" y1="617.5" x2="218.4" y2="620.0" stroke="#111" stroke-width="0.9" />
<line x1="246" y1="617.5" x2="246" y2="620.0" stroke="#111" stroke-width="0.9" />
<line x1="212.4" y1="536.6" x2="251" y2="536.6" stroke="#111" stroke-width="0.9" />
<text x="232" y="537.2" font-size="5" fill="#111" stroke="#111" stroke-width="0.16" text-anchor="middle">*</text>
<line x1="212.4" y1="548.6" x2="222.4" y2="548.6" stroke="#111" stroke-width="0.9" />
<text x="217.4" y="549.2" font-size="5" fill="#111" stroke="#111" stroke-width="0.16" text-anchor="middle">*</text>
<line x1="226" y1="548.6" x2="251" y2="548.6" stroke="#111" stroke-width="0.9" />
<text x="238.4" y="549.2" font-size="5" fill="#111" stroke="#111" stroke-width="0.16" text-anchor="middle">**</text>
<text transform="translate(183.5,575) rotate(-90)" font-size="9" fill="#111" stroke="#111" stroke-width="0.18" text-anchor="middle" textLength="30.1" lengthAdjust="spacingAndGlyphs">Cells/field</text>
<text transform="translate(222.4,623.6) rotate(-60)" font-size="7.5" fill="#111" stroke="#111" stroke-width="0.16" text-anchor="end" textLength="16" lengthAdjust="spacingAndGlyphs">+ IgG</text>
<text transform="translate(249.3,623.8) rotate(-60)" font-size="7.5" fill="#111" stroke="#111" stroke-width="0.16" text-anchor="end" textLength="25.5" lengthAdjust="spacingAndGlyphs">+ anti α5</text>
<rect x="262.7" y="529.2" width="8" height="4.5" fill="#2a4784" />
<rect x="262.7" y="538.0" width="8" height="4.5" fill="#a5032f" />
<text x="274.09999999999997" y="533.5" font-size="5.5" fill="#111" stroke="#111" stroke-width="0.16">HC</text>
<text x="274.09999999999997" y="542.2" font-size="5.5" fill="#111">JAK2<tspan font-size="3.5" dy="-2.3">V617F+</tspan></text>
<text x="313.2" y="538.5" font-size="11.5" fill="#000" stroke="#000" stroke-width="0" font-weight="bold" textLength="9.8" lengthAdjust="spacingAndGlyphs">N</text>
<rect x="369.5" y="562.4" width="6.0" height="54.5" fill="#2a4784" />
<line x1="372.5" y1="562.4" x2="372.5" y2="562.4" stroke="#2a4784" stroke-width="0.9" />
<line x1="370.5" y1="562.4" x2="374.5" y2="562.4" stroke="#2a4784" stroke-width="0.9" />
<circle cx="370.7" cy="562.4" r="1.1" fill="#c5d0e6"/>
<circle cx="372.5" cy="562.4" r="1.1" fill="#c5d0e6"/>
<circle cx="374.3" cy="562.4" r="1.1" fill="#c5d0e6"/>
<rect x="379.6" y="568.4" width="6.0" height="48.5" fill="#2a4784" />
<line x1="382.6" y1="564.4" x2="382.6" y2="568.4" stroke="#2a4784" stroke-width="0.9" />
<line x1="380.6" y1="564.4" x2="384.6" y2="564.4" stroke="#2a4784" stroke-width="0.9" />
<circle cx="382.6" cy="566" r="1.1" fill="#c5d0e6"/>
<circle cx="383.1" cy="569" r="1.1" fill="#c5d0e6"/>
<rect x="396.3" y="562.4" width="6.5" height="54.5" fill="#a5032f" />
<line x1="399.55" y1="562.4" x2="399.55" y2="562.4" stroke="#a5032f" stroke-width="0.9" />
<line x1="397.55" y1="562.4" x2="401.55" y2="562.4" stroke="#a5032f" stroke-width="0.9" />
<circle cx="397.25" cy="562.4" r="1.1" fill="#000"/>
<circle cx="399.55" cy="562.4" r="1.1" fill="#000"/>
<circle cx="401.85" cy="562.4" r="1.1" fill="#000"/>
<rect x="406.8" y="577.9" width="6.5" height="39.0" fill="#a5032f" />
<line x1="410.05" y1="567.4" x2="410.05" y2="577.9" stroke="#a5032f" stroke-width="0.9" />
<line x1="408.05" y1="567.4" x2="412.05" y2="567.4" stroke="#a5032f" stroke-width="0.9" />
<circle cx="410.05" cy="567.4" r="1.1" fill="#000"/>
<circle cx="408.25" cy="582.6" r="1.1" fill="#000"/>
<circle cx="411.85" cy="582.6" r="1.1" fill="#000"/>
<line x1="363.5" y1="532.7" x2="363.5" y2="617.4" stroke="#111" stroke-width="1.1" />
<line x1="360.7" y1="534.7" x2="363.5" y2="534.7" stroke="#111" stroke-width="0.9" />
<text x="357.7" y="537.004" font-size="6.4" fill="#111" stroke="#111" stroke-width="0.16" text-anchor="end">150</text>
<line x1="360.7" y1="562.1" x2="363.5" y2="562.1" stroke="#111" stroke-width="0.9" />
<text x="357.7" y="564.404" font-size="6.4" fill="#111" stroke="#111" stroke-width="0.16" text-anchor="end">100</text>
<line x1="360.7" y1="589.5" x2="363.5" y2="589.5" stroke="#111" stroke-width="0.9" />
<text x="357.7" y="591.804" font-size="6.4" fill="#111" stroke="#111" stroke-width="0.16" text-anchor="end">50</text>
<line x1="360.7" y1="616.9" x2="363.5" y2="616.9" stroke="#111" stroke-width="0.9" />
<text x="357.7" y="619.204" font-size="6.4" fill="#111" stroke="#111" stroke-width="0.16" text-anchor="end">0</text>
<line x1="362.9" y1="616.5" x2="418.5" y2="616.5" stroke="#111" stroke-width="1.1" />
<line x1="372.1" y1="616.5" x2="372.1" y2="619.0" stroke="#111" stroke-width="0.9" />
<line x1="382.2" y1="616.5" x2="382.2" y2="619.0" stroke="#111" stroke-width="0.9" />
<line x1="399.4" y1="616.5" x2="399.4" y2="619.0" stroke="#111" stroke-width="0.9" />
<line x1="409.9" y1="616.5" x2="409.9" y2="619.0" stroke="#111" stroke-width="0.9" />
<line x1="372.5" y1="553.3" x2="382.6" y2="553.3" stroke="#111" stroke-width="0.9" />
<text x="377.6" y="553.5" font-size="5" fill="#111" stroke="#111" stroke-width="0.16" text-anchor="middle">*</text>
<line x1="399.8" y1="553.3" x2="409.9" y2="553.3" stroke="#111" stroke-width="0.9" />
<text x="405" y="553.5" font-size="5" fill="#111" stroke="#111" stroke-width="0.16" text-anchor="middle">****</text>
<text transform="translate(334,574) rotate(-90)" font-size="9" fill="#111" stroke="#111" stroke-width="0.18" text-anchor="middle" textLength="36.6" lengthAdjust="spacingAndGlyphs">Cell number</text>
<text transform="translate(341.3,575) rotate(-90)" font-size="9" fill="#111" stroke="#111" stroke-width="0.18" text-anchor="middle" textLength="64.1" lengthAdjust="spacingAndGlyphs">(% relative to control)</text>
<text transform="translate(375.6,623.6) rotate(-60)" font-size="7.5" fill="#111" stroke="#111" stroke-width="0.16" text-anchor="end" textLength="16" lengthAdjust="spacingAndGlyphs">+ IgG</text>
<text transform="translate(385.9,623.8) rotate(-60)" font-size="7.5" fill="#111" stroke="#111" stroke-width="0.16" text-anchor="end" textLength="25" lengthAdjust="spacingAndGlyphs">+ anti α5</text>
<text transform="translate(402.9,623.6) rotate(-60)" font-size="7.5" fill="#111" stroke="#111" stroke-width="0.16" text-anchor="end" textLength="16" lengthAdjust="spacingAndGlyphs">+ IgG</text>
<text transform="translate(413.6,623.8) rotate(-60)" font-size="7.5" fill="#111" stroke="#111" stroke-width="0.16" text-anchor="end" textLength="25" lengthAdjust="spacingAndGlyphs">+ anti α5</text>
<rect x="422" y="529.4" width="8" height="4.5" fill="#2a4784" />
<rect x="422" y="538.1999999999999" width="8" height="4.5" fill="#a5032f" />
<text x="433.4" y="533.6999999999999" font-size="5.5" fill="#111" stroke="#111" stroke-width="0.16">HC</text>
<text x="433.4" y="542.4" font-size="5.5" fill="#111">JAK2<tspan font-size="3.5" dy="-2.3">V617F+</tspan></text>
<rect x="0" y="0" width="1.45" height="656" fill="#000"/><rect x="0" y="0" width="520" height="1.45" fill="#000"/><rect x="518.75" y="0" width="1.25" height="656" fill="#000"/><rect x="0" y="654.75" width="520" height="1.25" fill="#000"/>
</svg></body></html>
